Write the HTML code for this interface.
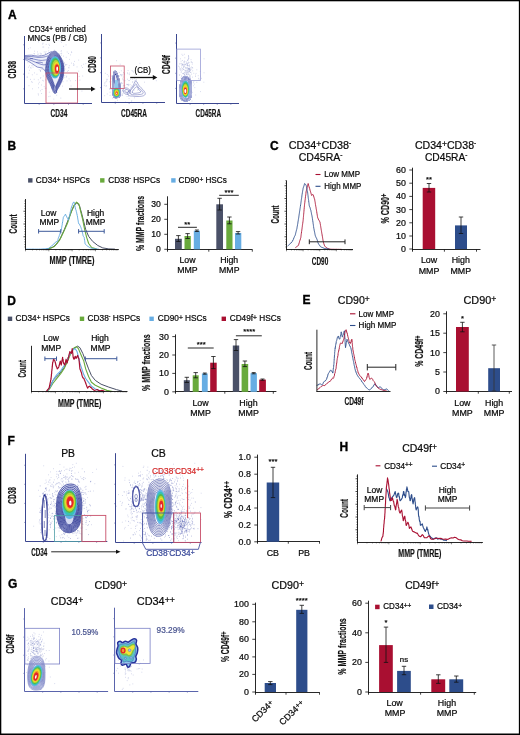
<!DOCTYPE html>
<html><head><meta charset="utf-8"><style>
html,body{margin:0;padding:0;background:#fff;width:520px;height:735px;overflow:hidden;}
svg{display:block;font-family:"Liberation Sans", sans-serif;will-change:transform;}
</style></head><body>
<svg width="520" height="735" viewBox="0 0 520 735" font-family='"Liberation Sans", sans-serif'><rect x="0" y="0" width="520" height="735" fill="#000"/>
<rect x="1.3" y="1.3" width="517.55" height="732.2" fill="#fff"/>
<text x="8.00" y="18.90" font-size="12" fill="#000" font-weight="bold" stroke="#000" stroke-width="0.35">A</text>
<text x="7.40" y="150.20" font-size="12" fill="#000" font-weight="bold" stroke="#000" stroke-width="0.35">B</text>
<text x="270.00" y="149.70" font-size="12" fill="#000" font-weight="bold" stroke="#000" stroke-width="0.35">C</text>
<text x="7.30" y="304.70" font-size="12" fill="#000" font-weight="bold" stroke="#000" stroke-width="0.35">D</text>
<text x="302.50" y="303.50" font-size="12" fill="#000" font-weight="bold" stroke="#000" stroke-width="0.35">E</text>
<text x="7.40" y="444.80" font-size="12" fill="#000" font-weight="bold" stroke="#000" stroke-width="0.35">F</text>
<text x="339.40" y="450.80" font-size="12" fill="#000" font-weight="bold" stroke="#000" stroke-width="0.35">H</text>
<text x="8.00" y="588.20" font-size="12" fill="#000" font-weight="bold" stroke="#000" stroke-width="0.35">G</text>
<rect x="28.10" y="178.20" width="4.40" height="4.40" fill="#4a5168" stroke="none" stroke-width="0.8"/>
<text x="35.75" y="183.20" font-size="8.4" fill="#0a0a0a" stroke="#0a0a0a" stroke-width="0.22" textLength="54.20" lengthAdjust="spacingAndGlyphs">CD34<tspan dy="-1.43" font-size="6.72">+</tspan><tspan dy="1.43"> HSPCs</tspan></text>
<rect x="100.10" y="178.20" width="4.40" height="4.40" fill="#69aa3c" stroke="none" stroke-width="0.8"/>
<text x="108.30" y="183.20" font-size="8.4" fill="#0a0a0a" stroke="#0a0a0a" stroke-width="0.22" textLength="51.70" lengthAdjust="spacingAndGlyphs">CD38<tspan dy="-3.02" font-size="5.21">-</tspan><tspan dy="3.02"> HSPCs</tspan></text>
<rect x="171.20" y="178.20" width="4.40" height="4.40" fill="#67ade3" stroke="none" stroke-width="0.8"/>
<text x="178.50" y="183.20" font-size="8.4" fill="#0a0a0a" stroke="#0a0a0a" stroke-width="0.22" textLength="48.30" lengthAdjust="spacingAndGlyphs">CD90<tspan dy="-1.43" font-size="6.72">+</tspan><tspan dy="1.43"> HSCs</tspan></text>
<path d="M46.25,249.12 L52.31,247.50 L56.35,244.47 L60.39,238.42 L64.43,229.33 L68.47,219.23 L71.49,211.16 L74.52,205.10 L76.95,202.67 L79.57,206.11 L81.59,213.17 L83.61,221.25 L85.63,229.33 L88.66,236.40 L92.70,241.45 L97.75,245.48 L102.79,247.91 L108.85,248.92 L114.91,249.12" fill="none" stroke="#4a5168" stroke-width="1.0" stroke-linejoin="round"/>
<path d="M48.27,249.12 L54.33,246.49 L59.38,240.44 L63.42,232.36 L67.46,223.27 L70.48,214.18 L73.51,206.11 L76.54,202.07 L78.97,204.09 L80.58,211.16 L82.60,219.23 L84.62,229.33 L86.64,237.41 L88.66,243.47 L91.69,247.50 L96.74,249.12" fill="none" stroke="#69aa3c" stroke-width="1.1" stroke-linejoin="round"/>
<path d="M26.06,249.12 L26.76,249.17 L27.47,249.11 L28.18,249.13 L28.89,249.16 L29.59,249.09 L30.30,249.12 L31.01,249.13 L31.71,249.17 L32.42,249.06 L33.13,249.07 L33.83,249.10 L34.54,249.16 L35.25,249.16 L35.95,249.08 L36.66,249.17 L37.37,249.12 L38.07,249.18 L38.78,249.17 L39.49,249.07 L40.19,249.12 L40.93,249.12 L41.66,249.01 L42.40,248.91 L43.13,248.90 L43.87,248.79 L44.60,248.82 L45.33,248.74 L46.07,248.63 L46.80,248.59 L47.54,248.57 L48.27,248.51 L48.85,248.12 L49.43,247.61 L50.00,247.12 L50.58,246.74 L51.16,246.20 L51.73,245.85 L52.31,245.48 L52.82,245.18 L53.32,244.28 L53.82,243.84 L54.33,243.67 L54.83,242.72 L55.34,242.46 L56.01,241.81 L56.69,241.58 L57.36,241.45 L57.58,240.86 L57.81,240.27 L58.03,239.57 L58.26,238.41 L58.48,237.91 L58.70,237.10 L58.93,236.78 L59.15,235.95 L59.38,235.39 L59.60,234.92 L59.83,234.10 L60.05,233.43 L60.28,232.43 L60.50,232.06 L60.72,231.00 L60.95,230.36 L61.17,230.29 L61.40,229.33 L61.52,228.36 L61.63,227.50 L61.75,227.36 L61.87,226.23 L61.99,225.61 L62.11,225.11 L62.23,224.69 L62.35,223.25 L62.47,223.03 L62.59,221.83 L62.70,221.71 L62.82,220.67 L62.94,219.73 L63.06,219.26 L63.18,218.76 L63.30,217.63 L63.42,217.21 L63.82,216.51 L64.22,216.23 L64.63,215.65 L65.03,214.97 L65.44,214.18 L65.79,214.92 L66.14,215.86 L66.50,216.18 L66.85,217.21 L67.25,217.88 L67.66,218.58 L68.06,219.19 L68.47,220.24 L68.63,219.17 L68.79,218.47 L68.95,218.50 L69.11,217.32 L69.27,216.56 L69.43,216.13 L69.60,215.47 L69.76,214.91 L69.92,214.21 L70.08,213.17 L70.26,212.06 L70.43,211.46 L70.61,210.81 L70.79,209.99 L70.96,209.43 L71.14,208.42 L71.32,208.19 L71.49,207.12 L71.73,206.31 L71.97,206.09 L72.20,205.44 L72.44,204.55 L72.67,203.57 L72.91,203.08 L73.51,202.22 L74.12,202.07 L74.26,203.18 L74.41,203.85 L74.55,204.22 L74.70,204.60 L74.84,205.88 L74.98,206.23 L75.13,207.12 L75.33,207.79 L75.53,208.94 L75.74,209.61 L75.94,210.28 L76.14,210.38 L76.34,211.57 L76.54,212.16 L76.69,212.97 L76.83,213.78 L76.98,213.94 L77.12,215.38 L77.26,215.51 L77.41,216.09 L77.55,217.21 L77.68,218.10 L77.80,218.92 L77.93,219.66 L78.06,219.91 L78.18,220.78 L78.31,221.79 L78.44,222.60 L78.56,223.27 L79.03,224.14 L79.50,224.23 L79.98,225.29 L80.25,226.09 L80.51,226.41 L80.78,227.18 L81.05,227.71 L81.32,228.65 L81.59,229.33 L81.77,229.89 L81.94,230.95 L82.12,231.43 L82.30,232.05 L82.47,232.98 L82.65,233.71 L82.83,234.47 L83.00,235.39 L83.41,236.46 L83.81,236.81 L84.22,237.41 L84.32,238.46 L84.42,239.04 L84.52,240.06 L84.62,240.43 L84.72,241.17 L84.82,241.77 L84.92,242.50 L85.02,243.47 L85.56,244.40 L86.10,244.80 L86.64,245.48 L87.25,245.95 L87.85,246.45 L88.46,246.71 L89.06,247.02 L89.67,247.50 L90.43,247.79 L91.18,248.05 L91.94,248.31 L92.70,248.51 L93.46,248.58 L94.21,248.62 L94.97,248.76 L95.73,248.85 L96.48,248.84 L97.24,249.01 L98.00,249.08 L98.76,249.12" fill="none" stroke="#67ade3" stroke-width="1.0" stroke-linejoin="round"/>
<line x1="25.50" y1="199.00" x2="25.50" y2="249.90" stroke="#111" stroke-width="0.9"/>
<line x1="25.10" y1="249.50" x2="118.80" y2="249.50" stroke="#111" stroke-width="0.9"/>
<line x1="24.50" y1="246.95" x2="25.50" y2="246.95" stroke="#111" stroke-width="0.75"/>
<line x1="24.50" y1="244.40" x2="25.50" y2="244.40" stroke="#111" stroke-width="0.75"/>
<line x1="24.50" y1="241.85" x2="25.50" y2="241.85" stroke="#111" stroke-width="0.75"/>
<line x1="24.50" y1="239.30" x2="25.50" y2="239.30" stroke="#111" stroke-width="0.75"/>
<line x1="23.50" y1="236.75" x2="25.50" y2="236.75" stroke="#111" stroke-width="0.75"/>
<line x1="24.50" y1="234.20" x2="25.50" y2="234.20" stroke="#111" stroke-width="0.75"/>
<line x1="24.50" y1="231.65" x2="25.50" y2="231.65" stroke="#111" stroke-width="0.75"/>
<line x1="24.50" y1="229.10" x2="25.50" y2="229.10" stroke="#111" stroke-width="0.75"/>
<line x1="24.50" y1="226.55" x2="25.50" y2="226.55" stroke="#111" stroke-width="0.75"/>
<line x1="23.50" y1="224.00" x2="25.50" y2="224.00" stroke="#111" stroke-width="0.75"/>
<line x1="24.50" y1="221.45" x2="25.50" y2="221.45" stroke="#111" stroke-width="0.75"/>
<line x1="24.50" y1="218.90" x2="25.50" y2="218.90" stroke="#111" stroke-width="0.75"/>
<line x1="24.50" y1="216.35" x2="25.50" y2="216.35" stroke="#111" stroke-width="0.75"/>
<line x1="24.50" y1="213.80" x2="25.50" y2="213.80" stroke="#111" stroke-width="0.75"/>
<line x1="23.50" y1="211.25" x2="25.50" y2="211.25" stroke="#111" stroke-width="0.75"/>
<line x1="24.50" y1="208.70" x2="25.50" y2="208.70" stroke="#111" stroke-width="0.75"/>
<line x1="24.50" y1="206.15" x2="25.50" y2="206.15" stroke="#111" stroke-width="0.75"/>
<line x1="24.50" y1="203.60" x2="25.50" y2="203.60" stroke="#111" stroke-width="0.75"/>
<line x1="24.50" y1="201.05" x2="25.50" y2="201.05" stroke="#111" stroke-width="0.75"/>
<line x1="25.50" y1="249.50" x2="25.50" y2="251.30" stroke="#111" stroke-width="0.5"/>
<line x1="32.52" y1="249.50" x2="32.52" y2="250.40" stroke="#111" stroke-width="0.5"/>
<line x1="36.63" y1="249.50" x2="36.63" y2="250.40" stroke="#111" stroke-width="0.5"/>
<line x1="39.54" y1="249.50" x2="39.54" y2="250.40" stroke="#111" stroke-width="0.5"/>
<line x1="41.80" y1="249.50" x2="41.80" y2="250.40" stroke="#111" stroke-width="0.5"/>
<line x1="43.65" y1="249.50" x2="43.65" y2="250.40" stroke="#111" stroke-width="0.5"/>
<line x1="45.21" y1="249.50" x2="45.21" y2="250.40" stroke="#111" stroke-width="0.5"/>
<line x1="46.56" y1="249.50" x2="46.56" y2="250.40" stroke="#111" stroke-width="0.5"/>
<line x1="47.76" y1="249.50" x2="47.76" y2="250.40" stroke="#111" stroke-width="0.5"/>
<line x1="48.83" y1="249.50" x2="48.83" y2="251.30" stroke="#111" stroke-width="0.5"/>
<line x1="55.85" y1="249.50" x2="55.85" y2="250.40" stroke="#111" stroke-width="0.5"/>
<line x1="59.95" y1="249.50" x2="59.95" y2="250.40" stroke="#111" stroke-width="0.5"/>
<line x1="62.87" y1="249.50" x2="62.87" y2="250.40" stroke="#111" stroke-width="0.5"/>
<line x1="65.13" y1="249.50" x2="65.13" y2="250.40" stroke="#111" stroke-width="0.5"/>
<line x1="66.98" y1="249.50" x2="66.98" y2="250.40" stroke="#111" stroke-width="0.5"/>
<line x1="68.54" y1="249.50" x2="68.54" y2="250.40" stroke="#111" stroke-width="0.5"/>
<line x1="69.89" y1="249.50" x2="69.89" y2="250.40" stroke="#111" stroke-width="0.5"/>
<line x1="71.08" y1="249.50" x2="71.08" y2="250.40" stroke="#111" stroke-width="0.5"/>
<line x1="72.15" y1="249.50" x2="72.15" y2="251.30" stroke="#111" stroke-width="0.5"/>
<line x1="79.17" y1="249.50" x2="79.17" y2="250.40" stroke="#111" stroke-width="0.5"/>
<line x1="83.28" y1="249.50" x2="83.28" y2="250.40" stroke="#111" stroke-width="0.5"/>
<line x1="86.19" y1="249.50" x2="86.19" y2="250.40" stroke="#111" stroke-width="0.5"/>
<line x1="88.45" y1="249.50" x2="88.45" y2="250.40" stroke="#111" stroke-width="0.5"/>
<line x1="90.30" y1="249.50" x2="90.30" y2="250.40" stroke="#111" stroke-width="0.5"/>
<line x1="91.86" y1="249.50" x2="91.86" y2="250.40" stroke="#111" stroke-width="0.5"/>
<line x1="93.21" y1="249.50" x2="93.21" y2="250.40" stroke="#111" stroke-width="0.5"/>
<line x1="94.41" y1="249.50" x2="94.41" y2="250.40" stroke="#111" stroke-width="0.5"/>
<line x1="95.47" y1="249.50" x2="95.47" y2="251.30" stroke="#111" stroke-width="0.5"/>
<line x1="102.50" y1="249.50" x2="102.50" y2="250.40" stroke="#111" stroke-width="0.5"/>
<line x1="106.60" y1="249.50" x2="106.60" y2="250.40" stroke="#111" stroke-width="0.5"/>
<line x1="109.52" y1="249.50" x2="109.52" y2="250.40" stroke="#111" stroke-width="0.5"/>
<line x1="111.78" y1="249.50" x2="111.78" y2="250.40" stroke="#111" stroke-width="0.5"/>
<line x1="113.63" y1="249.50" x2="113.63" y2="250.40" stroke="#111" stroke-width="0.5"/>
<line x1="115.19" y1="249.50" x2="115.19" y2="250.40" stroke="#111" stroke-width="0.5"/>
<line x1="116.54" y1="249.50" x2="116.54" y2="250.40" stroke="#111" stroke-width="0.5"/>
<line x1="117.73" y1="249.50" x2="117.73" y2="250.40" stroke="#111" stroke-width="0.5"/>
<line x1="38.60" y1="231.30" x2="60.80" y2="231.30" stroke="#3e5a9a" stroke-width="1.0"/>
<line x1="38.60" y1="229.10" x2="38.60" y2="233.50" stroke="#3e5a9a" stroke-width="1.0"/>
<line x1="60.80" y1="229.10" x2="60.80" y2="233.50" stroke="#3e5a9a" stroke-width="1.0"/>
<line x1="78.60" y1="231.30" x2="104.20" y2="231.30" stroke="#3e5a9a" stroke-width="1.0"/>
<line x1="78.60" y1="229.10" x2="78.60" y2="233.50" stroke="#3e5a9a" stroke-width="1.0"/>
<line x1="104.20" y1="229.10" x2="104.20" y2="233.50" stroke="#3e5a9a" stroke-width="1.0"/>
<text x="48.50" y="215.50" font-size="8.2" fill="#0a0a0a" stroke="#0a0a0a" stroke-width="0.22" text-anchor="middle" textLength="15.49" lengthAdjust="spacingAndGlyphs">Low</text>
<text x="49.30" y="224.60" font-size="8.2" fill="#0a0a0a" stroke="#0a0a0a" stroke-width="0.22" text-anchor="middle" textLength="19.70" lengthAdjust="spacingAndGlyphs">MMP</text>
<text x="95.60" y="215.50" font-size="8.2" fill="#0a0a0a" stroke="#0a0a0a" stroke-width="0.22" text-anchor="middle" textLength="17.37" lengthAdjust="spacingAndGlyphs">High</text>
<text x="95.50" y="224.60" font-size="8.2" fill="#0a0a0a" stroke="#0a0a0a" stroke-width="0.22" text-anchor="middle" textLength="19.70" lengthAdjust="spacingAndGlyphs">MMP</text>
<line x1="167.50" y1="196.30" x2="167.50" y2="251.70" stroke="#111" stroke-width="0.9"/>
<line x1="167.05" y1="249.50" x2="252.50" y2="249.50" stroke="#111" stroke-width="0.9"/>
<line x1="164.30" y1="204.30" x2="167.50" y2="204.30" stroke="#111" stroke-width="0.8"/>
<text x="160.90" y="207.20" font-size="8.4" fill="#0a0a0a" stroke="#0a0a0a" stroke-width="0.22" text-anchor="end" textLength="9.62" lengthAdjust="spacingAndGlyphs">30</text>
<line x1="164.30" y1="219.30" x2="167.50" y2="219.30" stroke="#111" stroke-width="0.8"/>
<text x="160.90" y="222.20" font-size="8.4" fill="#0a0a0a" stroke="#0a0a0a" stroke-width="0.22" text-anchor="end" textLength="9.62" lengthAdjust="spacingAndGlyphs">20</text>
<line x1="164.30" y1="234.30" x2="167.50" y2="234.30" stroke="#111" stroke-width="0.8"/>
<text x="160.90" y="237.20" font-size="8.4" fill="#0a0a0a" stroke="#0a0a0a" stroke-width="0.22" text-anchor="end" textLength="9.62" lengthAdjust="spacingAndGlyphs">10</text>
<line x1="164.30" y1="249.30" x2="167.50" y2="249.30" stroke="#111" stroke-width="0.8"/>
<text x="160.90" y="252.20" font-size="8.4" fill="#0a0a0a" stroke="#0a0a0a" stroke-width="0.22" text-anchor="end" textLength="4.81" lengthAdjust="spacingAndGlyphs">0</text>
<line x1="208.80" y1="249.50" x2="208.80" y2="251.70" stroke="#111" stroke-width="0.8"/>
<line x1="252.30" y1="249.50" x2="252.30" y2="251.70" stroke="#111" stroke-width="0.8"/>
<rect x="175.00" y="238.80" width="6.80" height="10.50" fill="#4a5168" stroke="none" stroke-width="0.8"/>
<line x1="178.40" y1="235.60" x2="178.40" y2="241.50" stroke="#111" stroke-width="0.8"/>
<line x1="176.20" y1="235.60" x2="180.60" y2="235.60" stroke="#111" stroke-width="0.8"/>
<line x1="176.20" y1="241.50" x2="180.60" y2="241.50" stroke="#111" stroke-width="0.8"/>
<rect x="184.50" y="236.00" width="6.30" height="13.30" fill="#69aa3c" stroke="none" stroke-width="0.8"/>
<line x1="187.60" y1="233.60" x2="187.60" y2="238.50" stroke="#111" stroke-width="0.8"/>
<line x1="185.40" y1="233.60" x2="189.80" y2="233.60" stroke="#111" stroke-width="0.8"/>
<line x1="185.40" y1="238.50" x2="189.80" y2="238.50" stroke="#111" stroke-width="0.8"/>
<rect x="193.80" y="230.70" width="6.20" height="18.60" fill="#67ade3" stroke="none" stroke-width="0.8"/>
<line x1="196.90" y1="230.00" x2="196.90" y2="231.50" stroke="#111" stroke-width="0.8"/>
<line x1="194.90" y1="230.00" x2="198.90" y2="230.00" stroke="#111" stroke-width="0.8"/>
<line x1="194.90" y1="231.50" x2="198.90" y2="231.50" stroke="#111" stroke-width="0.8"/>
<rect x="216.30" y="204.30" width="6.70" height="45.00" fill="#4a5168" stroke="none" stroke-width="0.8"/>
<line x1="219.60" y1="198.30" x2="219.60" y2="210.00" stroke="#111" stroke-width="0.8"/>
<line x1="217.40" y1="198.30" x2="221.80" y2="198.30" stroke="#111" stroke-width="0.8"/>
<line x1="217.40" y1="210.00" x2="221.80" y2="210.00" stroke="#111" stroke-width="0.8"/>
<rect x="226.30" y="220.50" width="6.20" height="28.80" fill="#69aa3c" stroke="none" stroke-width="0.8"/>
<line x1="229.40" y1="217.00" x2="229.40" y2="223.80" stroke="#111" stroke-width="0.8"/>
<line x1="227.20" y1="217.00" x2="231.60" y2="217.00" stroke="#111" stroke-width="0.8"/>
<line x1="227.20" y1="223.80" x2="231.60" y2="223.80" stroke="#111" stroke-width="0.8"/>
<rect x="235.00" y="233.00" width="6.30" height="16.30" fill="#67ade3" stroke="none" stroke-width="0.8"/>
<line x1="238.10" y1="231.60" x2="238.10" y2="234.00" stroke="#111" stroke-width="0.8"/>
<line x1="235.90" y1="231.60" x2="240.30" y2="231.60" stroke="#111" stroke-width="0.8"/>
<line x1="235.90" y1="234.00" x2="240.30" y2="234.00" stroke="#111" stroke-width="0.8"/>
<line x1="178.00" y1="227.30" x2="196.90" y2="227.30" stroke="#111" stroke-width="0.9"/>
<text x="187.30" y="226.99" font-size="7.4" fill="#0a0a0a" stroke="#0a0a0a" stroke-width="0.22" text-anchor="middle" textLength="5.93" lengthAdjust="spacingAndGlyphs">**</text>
<line x1="219.20" y1="195.30" x2="238.80" y2="195.30" stroke="#111" stroke-width="0.9"/>
<text x="229.00" y="195.49" font-size="7.4" fill="#0a0a0a" stroke="#0a0a0a" stroke-width="0.22" text-anchor="middle" textLength="8.90" lengthAdjust="spacingAndGlyphs">***</text>
<text x="187.50" y="263.20" font-size="8.5" fill="#0a0a0a" stroke="#0a0a0a" stroke-width="0.22" text-anchor="middle" textLength="16.06" lengthAdjust="spacingAndGlyphs">Low</text>
<text x="187.50" y="272.60" font-size="8.5" fill="#0a0a0a" stroke="#0a0a0a" stroke-width="0.22" text-anchor="middle" textLength="20.43" lengthAdjust="spacingAndGlyphs">MMP</text>
<text x="229.20" y="263.20" font-size="8.5" fill="#0a0a0a" stroke="#0a0a0a" stroke-width="0.22" text-anchor="middle" textLength="18.01" lengthAdjust="spacingAndGlyphs">High</text>
<text x="229.30" y="272.60" font-size="8.5" fill="#0a0a0a" stroke="#0a0a0a" stroke-width="0.22" text-anchor="middle" textLength="20.43" lengthAdjust="spacingAndGlyphs">MMP</text>
<text x="320.00" y="149.30" font-size="10.8" fill="#0a0a0a" stroke="#0a0a0a" stroke-width="0.22" text-anchor="middle" textLength="62.50" lengthAdjust="spacingAndGlyphs">CD34<tspan dy="-1.84" font-size="8.64">+</tspan><tspan dy="1.84">CD38</tspan><tspan dy="-3.89" font-size="6.70">-</tspan></text>
<text x="320.60" y="161.30" font-size="10.8" fill="#0a0a0a" stroke="#0a0a0a" stroke-width="0.22" text-anchor="middle" textLength="43.70" lengthAdjust="spacingAndGlyphs">CD45RA<tspan dy="-3.89" font-size="6.70">-</tspan></text>
<line x1="315.50" y1="174.50" x2="320.50" y2="174.50" stroke="#a90f31" stroke-width="1.1"/>
<text x="324.30" y="177.40" font-size="8.4" fill="#0a0a0a" stroke="#0a0a0a" stroke-width="0.22" textLength="35.70" lengthAdjust="spacingAndGlyphs">Low MMP</text>
<line x1="315.50" y1="186.30" x2="320.50" y2="186.30" stroke="#2d4d8b" stroke-width="1.1"/>
<text x="324.30" y="189.20" font-size="8.4" fill="#0a0a0a" stroke="#0a0a0a" stroke-width="0.22" textLength="37.00" lengthAdjust="spacingAndGlyphs">High MMP</text>
<path d="M295.38,247.69 L296.00,247.21 L296.62,246.76 L297.23,246.30 L297.85,245.81 L298.46,245.38 L298.67,244.69 L298.88,243.94 L299.09,243.07 L299.30,242.55 L299.51,241.65 L299.72,240.99 L299.93,240.37 L300.14,240.02 L300.35,239.08 L300.56,238.41 L300.77,237.69 L300.87,237.20 L300.96,236.48 L301.06,235.61 L301.15,234.74 L301.25,234.18 L301.35,233.39 L301.44,232.99 L301.54,231.82 L301.63,231.28 L301.73,230.73 L301.83,229.99 L301.92,229.26 L302.02,228.66 L302.12,227.69 L302.21,227.29 L302.31,226.62 L302.40,225.47 L302.50,224.92 L302.60,224.23 L302.69,223.53 L302.79,222.90 L302.88,222.06 L302.98,221.55 L303.08,220.77 L303.14,220.25 L303.21,219.57 L303.27,218.83 L303.33,217.81 L303.40,217.37 L303.46,216.67 L303.53,215.89 L303.59,215.22 L303.65,214.32 L303.72,213.85 L303.78,212.88 L303.85,212.34 L303.91,211.48 L303.97,210.91 L304.04,209.96 L304.10,209.39 L304.17,208.92 L304.23,207.96 L304.29,207.49 L304.36,206.82 L304.42,206.01 L304.49,205.32 L304.55,204.40 L304.62,203.85 L304.71,203.11 L304.80,202.63 L304.89,201.92 L304.98,200.98 L305.07,200.20 L305.16,199.74 L305.25,198.80 L305.34,198.21 L305.43,197.12 L305.52,196.49 L305.61,196.04 L305.70,195.18 L305.79,194.58 L305.88,193.68 L305.97,193.20 L306.06,192.03 L306.15,191.54 L306.34,190.69 L306.52,190.16 L306.70,189.37 L306.88,188.72 L307.06,187.89 L307.24,187.28 L307.43,186.60 L307.61,185.63 L307.79,184.75 L307.97,184.14 L308.15,183.54 L308.36,184.18 L308.56,185.22 L308.77,185.92 L308.97,186.51 L309.18,186.97 L309.38,188.06 L309.59,188.38 L309.79,189.10 L310.00,190.00 L310.19,190.82 L310.38,191.27 L310.58,191.97 L310.77,192.58 L310.96,193.12 L311.15,193.85 L311.35,194.50 L311.54,195.38 L312.31,194.76 L313.08,194.62 L313.33,195.16 L313.59,195.99 L313.85,196.93 L314.10,197.69 L314.36,198.60 L314.62,199.23 L314.73,200.10 L314.85,200.67 L314.97,201.39 L315.09,201.83 L315.21,202.57 L315.33,203.66 L315.44,204.41 L315.56,204.83 L315.68,205.80 L315.80,206.52 L315.92,206.91 L316.04,207.53 L316.15,208.46 L316.27,208.98 L316.39,209.68 L316.51,210.37 L316.63,211.33 L316.75,211.88 L316.86,212.92 L316.98,213.45 L317.10,214.17 L317.22,214.98 L317.34,215.62 L317.46,216.52 L317.57,216.77 L317.69,217.69 L318.02,218.35 L318.35,219.04 L318.68,219.90 L319.01,220.29 L319.34,220.92 L319.67,221.55 L320.00,222.31 L320.12,223.19 L320.24,223.72 L320.36,224.26 L320.47,225.38 L320.59,225.67 L320.71,226.55 L320.83,227.42 L320.95,228.15 L321.07,228.67 L321.18,229.44 L321.30,230.25 L321.42,230.61 L321.54,231.54 L321.66,232.39 L321.78,233.10 L321.89,233.66 L322.01,234.19 L322.13,234.96 L322.25,235.95 L322.37,236.34 L322.49,236.98 L322.60,237.73 L322.72,238.62 L322.84,239.33 L322.96,239.95 L323.08,240.77 L323.27,241.46 L323.46,242.21 L323.65,243.00 L323.85,243.68 L324.04,244.01 L324.23,244.87 L324.42,245.35 L324.62,246.15 L325.23,246.57 L325.85,247.07 L326.46,247.49 L327.08,248.02 L327.69,248.46 L328.46,248.68 L329.23,248.86 L330.00,249.05 L330.77,249.23 L331.49,249.24 L332.21,249.27 L332.92,249.27 L333.64,249.27 L334.36,249.30 L335.08,249.32 L335.79,249.32 L336.51,249.28 L337.23,249.36 L337.95,249.33 L338.67,249.33 L339.38,249.39 L340.10,249.37 L340.82,249.36 L341.54,249.38" fill="none" stroke="#a90f31" stroke-width="0.9" stroke-linejoin="round"/>
<path d="M287.69,246.15 L288.27,245.59 L288.85,244.88 L289.42,244.50 L290.00,243.85 L290.58,243.17 L291.15,242.91 L291.73,241.96 L292.31,241.54 L292.62,240.98 L292.92,239.99 L293.23,239.69 L293.54,238.96 L293.85,237.88 L294.15,237.46 L294.46,236.55 L294.77,236.01 L295.08,235.48 L295.38,234.62 L295.56,233.76 L295.73,233.11 L295.90,232.35 L296.07,231.66 L296.24,231.20 L296.41,230.34 L296.58,229.64 L296.75,229.24 L296.92,228.46 L297.04,227.65 L297.16,226.96 L297.28,226.25 L297.40,225.79 L297.51,224.80 L297.63,224.28 L297.75,223.71 L297.87,222.82 L297.99,221.96 L298.11,221.18 L298.22,220.73 L298.34,219.78 L298.46,219.23 L298.57,218.48 L298.67,217.99 L298.78,217.27 L298.88,216.32 L298.99,215.67 L299.09,214.93 L299.20,214.23 L299.30,213.63 L299.41,212.75 L299.51,212.05 L299.62,211.36 L299.72,210.75 L299.83,210.16 L299.93,209.35 L300.03,208.71 L300.14,208.18 L300.24,207.48 L300.35,206.60 L300.45,206.14 L300.56,205.00 L300.66,204.59 L300.77,203.85 L300.87,203.22 L300.97,202.36 L301.08,201.66 L301.18,200.85 L301.28,200.39 L301.38,199.38 L301.49,198.85 L301.59,198.21 L301.69,197.55 L301.79,196.88 L301.90,195.78 L302.00,195.06 L302.10,194.40 L302.21,193.96 L302.31,193.08 L302.44,192.35 L302.56,191.65 L302.69,190.74 L302.82,190.01 L302.95,189.47 L303.08,188.46 L303.30,187.70 L303.52,187.02 L303.74,186.43 L303.96,185.83 L304.18,185.15 L304.40,184.26 L304.62,183.54 L305.13,183.92 L305.64,184.57 L306.15,185.38 L306.29,185.85 L306.43,186.53 L306.57,187.55 L306.71,188.12 L306.85,188.68 L306.99,189.73 L307.13,190.33 L307.27,190.98 L307.41,191.85 L307.55,192.18 L307.69,193.08 L307.78,193.78 L307.87,194.57 L307.96,195.24 L308.05,195.83 L308.14,196.84 L308.24,197.60 L308.33,198.39 L308.42,198.92 L308.51,199.44 L308.60,200.19 L308.69,200.81 L308.78,202.01 L308.87,202.45 L308.96,203.10 L309.05,203.70 L309.14,204.57 L309.23,205.38 L309.49,206.39 L309.74,207.01 L310.00,207.49 L310.26,208.33 L310.51,209.45 L310.77,210.00 L310.91,210.61 L311.05,211.53 L311.19,212.17 L311.33,212.58 L311.47,213.68 L311.61,214.37 L311.75,215.11 L311.89,215.40 L312.03,216.16 L312.17,216.90 L312.31,217.69 L312.41,218.57 L312.51,219.16 L312.62,220.08 L312.72,220.70 L312.82,221.07 L312.92,222.05 L313.03,222.51 L313.13,223.60 L313.23,223.91 L313.33,224.76 L313.44,225.65 L313.54,226.47 L313.64,226.84 L313.74,227.91 L313.85,228.46 L313.99,228.96 L314.13,229.80 L314.27,230.70 L314.41,231.24 L314.55,232.05 L314.69,232.64 L314.83,233.44 L314.97,234.20 L315.10,234.75 L315.24,235.30 L315.38,236.15 L315.77,236.68 L316.15,237.67 L316.54,238.32 L316.92,239.23 L317.18,239.91 L317.44,240.62 L317.69,241.38 L317.95,242.55 L318.21,243.00 L318.46,243.85 L318.92,244.62 L319.38,244.93 L319.85,245.70 L320.31,246.40 L320.77,246.92 L321.54,247.25 L322.31,247.50 L323.08,247.86 L323.85,248.16 L324.62,248.46 L325.38,248.57 L326.15,248.67 L326.92,248.78 L327.69,248.89 L328.46,248.94 L329.23,249.08" fill="none" stroke="#2d4d8b" stroke-width="0.9" stroke-linejoin="round"/>
<line x1="286.50" y1="180.50" x2="286.50" y2="249.90" stroke="#111" stroke-width="0.9"/>
<line x1="286.10" y1="249.50" x2="353.00" y2="249.50" stroke="#111" stroke-width="0.9"/>
<line x1="285.50" y1="246.95" x2="286.50" y2="246.95" stroke="#111" stroke-width="0.75"/>
<line x1="285.50" y1="244.40" x2="286.50" y2="244.40" stroke="#111" stroke-width="0.75"/>
<line x1="285.50" y1="241.85" x2="286.50" y2="241.85" stroke="#111" stroke-width="0.75"/>
<line x1="285.50" y1="239.30" x2="286.50" y2="239.30" stroke="#111" stroke-width="0.75"/>
<line x1="284.50" y1="236.75" x2="286.50" y2="236.75" stroke="#111" stroke-width="0.75"/>
<line x1="285.50" y1="234.20" x2="286.50" y2="234.20" stroke="#111" stroke-width="0.75"/>
<line x1="285.50" y1="231.65" x2="286.50" y2="231.65" stroke="#111" stroke-width="0.75"/>
<line x1="285.50" y1="229.10" x2="286.50" y2="229.10" stroke="#111" stroke-width="0.75"/>
<line x1="285.50" y1="226.55" x2="286.50" y2="226.55" stroke="#111" stroke-width="0.75"/>
<line x1="284.50" y1="224.00" x2="286.50" y2="224.00" stroke="#111" stroke-width="0.75"/>
<line x1="285.50" y1="221.45" x2="286.50" y2="221.45" stroke="#111" stroke-width="0.75"/>
<line x1="285.50" y1="218.90" x2="286.50" y2="218.90" stroke="#111" stroke-width="0.75"/>
<line x1="285.50" y1="216.35" x2="286.50" y2="216.35" stroke="#111" stroke-width="0.75"/>
<line x1="285.50" y1="213.80" x2="286.50" y2="213.80" stroke="#111" stroke-width="0.75"/>
<line x1="284.50" y1="211.25" x2="286.50" y2="211.25" stroke="#111" stroke-width="0.75"/>
<line x1="285.50" y1="208.70" x2="286.50" y2="208.70" stroke="#111" stroke-width="0.75"/>
<line x1="285.50" y1="206.15" x2="286.50" y2="206.15" stroke="#111" stroke-width="0.75"/>
<line x1="285.50" y1="203.60" x2="286.50" y2="203.60" stroke="#111" stroke-width="0.75"/>
<line x1="285.50" y1="201.05" x2="286.50" y2="201.05" stroke="#111" stroke-width="0.75"/>
<line x1="284.50" y1="198.50" x2="286.50" y2="198.50" stroke="#111" stroke-width="0.75"/>
<line x1="285.50" y1="195.95" x2="286.50" y2="195.95" stroke="#111" stroke-width="0.75"/>
<line x1="285.50" y1="193.40" x2="286.50" y2="193.40" stroke="#111" stroke-width="0.75"/>
<line x1="285.50" y1="190.85" x2="286.50" y2="190.85" stroke="#111" stroke-width="0.75"/>
<line x1="285.50" y1="188.30" x2="286.50" y2="188.30" stroke="#111" stroke-width="0.75"/>
<line x1="284.50" y1="185.75" x2="286.50" y2="185.75" stroke="#111" stroke-width="0.75"/>
<line x1="285.50" y1="183.20" x2="286.50" y2="183.20" stroke="#111" stroke-width="0.75"/>
<line x1="285.50" y1="180.65" x2="286.50" y2="180.65" stroke="#111" stroke-width="0.75"/>
<line x1="286.50" y1="249.50" x2="286.50" y2="251.30" stroke="#111" stroke-width="0.5"/>
<line x1="291.50" y1="249.50" x2="291.50" y2="250.40" stroke="#111" stroke-width="0.5"/>
<line x1="294.43" y1="249.50" x2="294.43" y2="250.40" stroke="#111" stroke-width="0.5"/>
<line x1="296.51" y1="249.50" x2="296.51" y2="250.40" stroke="#111" stroke-width="0.5"/>
<line x1="298.12" y1="249.50" x2="298.12" y2="250.40" stroke="#111" stroke-width="0.5"/>
<line x1="299.44" y1="249.50" x2="299.44" y2="250.40" stroke="#111" stroke-width="0.5"/>
<line x1="300.55" y1="249.50" x2="300.55" y2="250.40" stroke="#111" stroke-width="0.5"/>
<line x1="301.51" y1="249.50" x2="301.51" y2="250.40" stroke="#111" stroke-width="0.5"/>
<line x1="302.36" y1="249.50" x2="302.36" y2="250.40" stroke="#111" stroke-width="0.5"/>
<line x1="303.12" y1="249.50" x2="303.12" y2="251.30" stroke="#111" stroke-width="0.5"/>
<line x1="308.13" y1="249.50" x2="308.13" y2="250.40" stroke="#111" stroke-width="0.5"/>
<line x1="311.06" y1="249.50" x2="311.06" y2="250.40" stroke="#111" stroke-width="0.5"/>
<line x1="313.13" y1="249.50" x2="313.13" y2="250.40" stroke="#111" stroke-width="0.5"/>
<line x1="314.75" y1="249.50" x2="314.75" y2="250.40" stroke="#111" stroke-width="0.5"/>
<line x1="316.06" y1="249.50" x2="316.06" y2="250.40" stroke="#111" stroke-width="0.5"/>
<line x1="317.17" y1="249.50" x2="317.17" y2="250.40" stroke="#111" stroke-width="0.5"/>
<line x1="318.14" y1="249.50" x2="318.14" y2="250.40" stroke="#111" stroke-width="0.5"/>
<line x1="318.99" y1="249.50" x2="318.99" y2="250.40" stroke="#111" stroke-width="0.5"/>
<line x1="319.75" y1="249.50" x2="319.75" y2="251.30" stroke="#111" stroke-width="0.5"/>
<line x1="324.75" y1="249.50" x2="324.75" y2="250.40" stroke="#111" stroke-width="0.5"/>
<line x1="327.68" y1="249.50" x2="327.68" y2="250.40" stroke="#111" stroke-width="0.5"/>
<line x1="329.76" y1="249.50" x2="329.76" y2="250.40" stroke="#111" stroke-width="0.5"/>
<line x1="331.37" y1="249.50" x2="331.37" y2="250.40" stroke="#111" stroke-width="0.5"/>
<line x1="332.69" y1="249.50" x2="332.69" y2="250.40" stroke="#111" stroke-width="0.5"/>
<line x1="333.80" y1="249.50" x2="333.80" y2="250.40" stroke="#111" stroke-width="0.5"/>
<line x1="334.76" y1="249.50" x2="334.76" y2="250.40" stroke="#111" stroke-width="0.5"/>
<line x1="335.61" y1="249.50" x2="335.61" y2="250.40" stroke="#111" stroke-width="0.5"/>
<line x1="336.38" y1="249.50" x2="336.38" y2="251.30" stroke="#111" stroke-width="0.5"/>
<line x1="341.38" y1="249.50" x2="341.38" y2="250.40" stroke="#111" stroke-width="0.5"/>
<line x1="344.31" y1="249.50" x2="344.31" y2="250.40" stroke="#111" stroke-width="0.5"/>
<line x1="346.38" y1="249.50" x2="346.38" y2="250.40" stroke="#111" stroke-width="0.5"/>
<line x1="348.00" y1="249.50" x2="348.00" y2="250.40" stroke="#111" stroke-width="0.5"/>
<line x1="349.31" y1="249.50" x2="349.31" y2="250.40" stroke="#111" stroke-width="0.5"/>
<line x1="350.42" y1="249.50" x2="350.42" y2="250.40" stroke="#111" stroke-width="0.5"/>
<line x1="351.39" y1="249.50" x2="351.39" y2="250.40" stroke="#111" stroke-width="0.5"/>
<line x1="352.24" y1="249.50" x2="352.24" y2="250.40" stroke="#111" stroke-width="0.5"/>
<line x1="309.30" y1="241.80" x2="345.00" y2="241.80" stroke="#222" stroke-width="1.0"/>
<line x1="309.30" y1="239.40" x2="309.30" y2="244.20" stroke="#222" stroke-width="1.0"/>
<line x1="345.00" y1="239.40" x2="345.00" y2="244.20" stroke="#222" stroke-width="1.0"/>
<text x="445.60" y="149.30" font-size="10.8" fill="#0a0a0a" stroke="#0a0a0a" stroke-width="0.22" text-anchor="middle" textLength="61.30" lengthAdjust="spacingAndGlyphs">CD34<tspan dy="-1.84" font-size="8.64">+</tspan><tspan dy="1.84">CD38</tspan><tspan dy="-3.89" font-size="6.70">-</tspan></text>
<text x="446.20" y="161.30" font-size="10.8" fill="#0a0a0a" stroke="#0a0a0a" stroke-width="0.22" text-anchor="middle" textLength="42.50" lengthAdjust="spacingAndGlyphs">CD45RA<tspan dy="-3.89" font-size="6.70">-</tspan></text>
<line x1="412.50" y1="167.70" x2="412.50" y2="251.70" stroke="#111" stroke-width="0.9"/>
<line x1="412.05" y1="249.50" x2="480.50" y2="249.50" stroke="#111" stroke-width="0.9"/>
<line x1="409.30" y1="170.00" x2="412.50" y2="170.00" stroke="#111" stroke-width="0.8"/>
<text x="405.90" y="172.90" font-size="8.6" fill="#0a0a0a" stroke="#0a0a0a" stroke-width="0.22" text-anchor="end" textLength="9.85" lengthAdjust="spacingAndGlyphs">60</text>
<line x1="409.30" y1="183.20" x2="412.50" y2="183.20" stroke="#111" stroke-width="0.8"/>
<text x="405.90" y="186.10" font-size="8.6" fill="#0a0a0a" stroke="#0a0a0a" stroke-width="0.22" text-anchor="end" textLength="9.85" lengthAdjust="spacingAndGlyphs">50</text>
<line x1="409.30" y1="196.40" x2="412.50" y2="196.40" stroke="#111" stroke-width="0.8"/>
<text x="405.90" y="199.30" font-size="8.6" fill="#0a0a0a" stroke="#0a0a0a" stroke-width="0.22" text-anchor="end" textLength="9.85" lengthAdjust="spacingAndGlyphs">40</text>
<line x1="409.30" y1="209.60" x2="412.50" y2="209.60" stroke="#111" stroke-width="0.8"/>
<text x="405.90" y="212.50" font-size="8.6" fill="#0a0a0a" stroke="#0a0a0a" stroke-width="0.22" text-anchor="end" textLength="9.85" lengthAdjust="spacingAndGlyphs">30</text>
<line x1="409.30" y1="222.80" x2="412.50" y2="222.80" stroke="#111" stroke-width="0.8"/>
<text x="405.90" y="225.70" font-size="8.6" fill="#0a0a0a" stroke="#0a0a0a" stroke-width="0.22" text-anchor="end" textLength="9.85" lengthAdjust="spacingAndGlyphs">20</text>
<line x1="409.30" y1="236.00" x2="412.50" y2="236.00" stroke="#111" stroke-width="0.8"/>
<text x="405.90" y="238.90" font-size="8.6" fill="#0a0a0a" stroke="#0a0a0a" stroke-width="0.22" text-anchor="end" textLength="9.85" lengthAdjust="spacingAndGlyphs">10</text>
<line x1="409.30" y1="249.00" x2="412.50" y2="249.00" stroke="#111" stroke-width="0.8"/>
<text x="405.90" y="251.90" font-size="8.6" fill="#0a0a0a" stroke="#0a0a0a" stroke-width="0.22" text-anchor="end" textLength="4.93" lengthAdjust="spacingAndGlyphs">0</text>
<line x1="444.40" y1="249.50" x2="444.40" y2="251.70" stroke="#111" stroke-width="0.8"/>
<line x1="476.50" y1="249.50" x2="476.50" y2="251.70" stroke="#111" stroke-width="0.8"/>
<rect x="422.70" y="187.90" width="12.50" height="61.10" fill="#a90f31" stroke="none" stroke-width="0.8"/>
<line x1="429.00" y1="183.50" x2="429.00" y2="192.00" stroke="#111" stroke-width="0.8"/>
<line x1="426.80" y1="183.50" x2="431.20" y2="183.50" stroke="#111" stroke-width="0.8"/>
<line x1="426.80" y1="192.00" x2="431.20" y2="192.00" stroke="#111" stroke-width="0.8"/>
<rect x="455.00" y="225.40" width="12.00" height="23.60" fill="#2d4d8b" stroke="none" stroke-width="0.8"/>
<line x1="461.00" y1="217.00" x2="461.00" y2="233.50" stroke="#111" stroke-width="0.8"/>
<line x1="458.80" y1="217.00" x2="463.20" y2="217.00" stroke="#111" stroke-width="0.8"/>
<line x1="458.80" y1="233.50" x2="463.20" y2="233.50" stroke="#111" stroke-width="0.8"/>
<text x="429.00" y="182.29" font-size="7.4" fill="#0a0a0a" stroke="#0a0a0a" stroke-width="0.22" text-anchor="middle" textLength="5.93" lengthAdjust="spacingAndGlyphs">**</text>
<text x="429.00" y="263.00" font-size="8.6" fill="#0a0a0a" stroke="#0a0a0a" stroke-width="0.22" text-anchor="middle" textLength="16.25" lengthAdjust="spacingAndGlyphs">Low</text>
<text x="429.00" y="273.60" font-size="8.6" fill="#0a0a0a" stroke="#0a0a0a" stroke-width="0.22" text-anchor="middle" textLength="20.67" lengthAdjust="spacingAndGlyphs">MMP</text>
<text x="460.80" y="263.00" font-size="8.6" fill="#0a0a0a" stroke="#0a0a0a" stroke-width="0.22" text-anchor="middle" textLength="18.22" lengthAdjust="spacingAndGlyphs">High</text>
<text x="460.80" y="273.60" font-size="8.6" fill="#0a0a0a" stroke="#0a0a0a" stroke-width="0.22" text-anchor="middle" textLength="20.67" lengthAdjust="spacingAndGlyphs">MMP</text>
<rect x="7.80" y="316.60" width="4.40" height="4.40" fill="#4a5168" stroke="none" stroke-width="0.8"/>
<text x="15.50" y="321.30" font-size="8.4" fill="#0a0a0a" stroke="#0a0a0a" stroke-width="0.22" textLength="54.50" lengthAdjust="spacingAndGlyphs">CD34<tspan dy="-1.43" font-size="6.72">+</tspan><tspan dy="1.43"> HSPCs</tspan></text>
<rect x="79.80" y="316.60" width="4.40" height="4.40" fill="#69aa3c" stroke="none" stroke-width="0.8"/>
<text x="87.50" y="321.30" font-size="8.4" fill="#0a0a0a" stroke="#0a0a0a" stroke-width="0.22" textLength="52.70" lengthAdjust="spacingAndGlyphs">CD38<tspan dy="-3.02" font-size="5.21">-</tspan><tspan dy="3.02"> HSPCs</tspan></text>
<rect x="149.40" y="316.60" width="4.40" height="4.40" fill="#67ade3" stroke="none" stroke-width="0.8"/>
<text x="157.70" y="321.30" font-size="8.4" fill="#0a0a0a" stroke="#0a0a0a" stroke-width="0.22" textLength="49.00" lengthAdjust="spacingAndGlyphs">CD90<tspan dy="-1.43" font-size="6.72">+</tspan><tspan dy="1.43"> HSCs</tspan></text>
<rect x="221.60" y="316.60" width="4.40" height="4.40" fill="#a90f31" stroke="none" stroke-width="0.8"/>
<text x="229.70" y="321.30" font-size="8.4" fill="#0a0a0a" stroke="#0a0a0a" stroke-width="0.22" textLength="51.10" lengthAdjust="spacingAndGlyphs">CD49f<tspan dy="-1.43" font-size="6.72">+</tspan><tspan dy="1.43"> HSCs</tspan></text>
<path d="M46.27,391.54 L49.15,389.04 L51.08,384.23 L53.00,380.38 L55.88,377.50 L58.77,374.62 L61.65,370.77 L64.54,366.92 L67.42,361.15 L69.35,355.38 L72.23,350.58 L75.12,347.69 L77.62,346.15 L79.92,347.69 L82.81,353.46 L85.69,361.15 L88.58,368.85 L91.46,375.58 L95.31,380.38 L101.08,384.23 L108.77,387.12 L116.46,389.62 L122.23,391.15" fill="none" stroke="#4a5168" stroke-width="1.0" stroke-linejoin="round"/>
<path d="M47.23,391.54 L50.12,388.08 L53.00,383.27 L56.85,378.46 L60.69,373.65 L64.54,367.88 L68.38,359.23 L71.27,352.50 L74.15,347.69 L76.46,346.73 L78.38,348.65 L80.88,354.42 L83.77,361.15 L85.69,368.85 L88.58,376.54 L91.46,382.31 L95.31,385.19 L101.08,388.08 L106.85,390.38 L112.62,391.54" fill="none" stroke="#69aa3c" stroke-width="1.1" stroke-linejoin="round"/>
<path d="M47.23,391.54 L51.08,385.19 L53.96,378.46 L56.85,374.62 L60.69,370.77 L64.54,365.00 L67.42,359.23 L70.31,353.46 L73.19,349.62 L75.12,348.65 L77.04,351.54 L78.38,356.35 L79.92,363.08 L81.85,368.85 L83.77,374.62 L85.69,378.46 L88.58,382.31 L91.46,386.15 L95.31,389.04 L99.15,390.38 L103.00,391.54" fill="none" stroke="#67ade3" stroke-width="1.1" stroke-linejoin="round"/>
<path d="M46.27,391.54 L46.75,390.93 L47.23,390.38 L47.71,389.72 L48.19,389.18 L48.67,388.49 L49.15,388.08 L49.29,387.10 L49.43,386.55 L49.57,385.70 L49.70,385.15 L49.84,384.89 L49.98,383.49 L50.12,383.39 L50.25,382.22 L50.39,382.19 L50.53,381.45 L50.66,380.23 L50.80,380.18 L50.94,379.37 L51.08,378.46 L51.15,377.34 L51.22,376.97 L51.29,376.56 L51.36,376.09 L51.43,374.64 L51.50,374.02 L51.57,373.84 L51.64,373.33 L51.71,371.76 L51.78,371.06 L51.85,371.02 L51.92,369.89 L51.99,369.26 L52.06,369.05 L52.13,368.22 L52.20,367.43 L52.27,366.94 L52.34,366.11 L52.41,365.49 L52.48,364.62 L52.55,363.87 L52.62,363.08 L52.81,361.87 L53.00,361.95 L53.19,361.18 L53.38,359.85 L53.58,359.23 L54.03,360.00 L54.47,360.03 L54.92,361.15 L55.12,361.92 L55.31,362.82 L55.50,363.26 L55.69,364.15 L55.88,365.00 L56.15,366.10 L56.42,366.18 L56.69,367.26 L56.96,367.66 L57.23,368.85 L57.74,368.09 L58.26,367.95 L58.77,366.92 L58.96,366.31 L59.15,365.01 L59.35,365.12 L59.54,364.20 L59.73,363.34 L59.92,362.38 L60.12,361.68 L60.31,361.15 L60.50,361.61 L60.69,362.81 L60.88,363.01 L61.08,364.68 L61.27,365.00 L61.39,363.90 L61.51,363.73 L61.64,362.98 L61.76,362.07 L61.88,361.28 L62.00,360.74 L62.13,359.93 L62.25,359.88 L62.37,358.85 L62.49,358.03 L62.62,357.31 L62.74,358.19 L62.86,358.74 L62.98,359.12 L63.10,359.72 L63.22,361.38 L63.34,361.98 L63.46,361.95 L63.58,363.08 L64.03,363.83 L64.47,364.64 L64.92,365.00 L65.07,364.67 L65.21,363.12 L65.36,362.47 L65.50,362.01 L65.64,361.50 L65.79,360.26 L65.93,360.15 L66.08,359.23 L66.27,360.25 L66.46,360.72 L66.65,361.89 L66.85,362.20 L67.04,363.08 L67.21,362.69 L67.38,361.52 L67.54,360.82 L67.71,360.07 L67.88,359.68 L68.05,359.13 L68.22,357.60 L68.38,357.31 L68.58,356.68 L68.77,356.20 L68.96,355.34 L69.15,354.16 L69.35,353.57 L69.54,353.37 L69.73,351.98 L69.92,351.54 L70.37,352.63 L70.82,352.71 L71.27,353.46 L71.41,352.80 L71.54,352.30 L71.68,351.58 L71.82,350.80 L71.96,350.40 L72.09,349.48 L72.23,348.65 L72.31,349.79 L72.39,350.25 L72.47,350.91 L72.55,351.10 L72.63,352.67 L72.71,352.71 L72.79,353.43 L72.87,353.97 L72.95,355.27 L73.03,355.74 L73.11,356.74 L73.19,357.31 L73.51,358.26 L73.83,359.03 L74.15,359.23 L74.39,358.81 L74.63,358.13 L74.88,356.95 L75.12,356.35 L75.44,356.54 L75.76,357.90 L76.08,358.27 L76.46,358.04 L76.85,356.79 L77.23,356.51 L77.62,355.38 L77.88,356.22 L78.15,356.81 L78.42,358.02 L78.69,358.02 L78.96,359.23 L79.04,359.83 L79.11,360.91 L79.18,361.03 L79.26,362.24 L79.33,362.82 L79.41,363.39 L79.48,364.31 L79.55,365.39 L79.63,366.06 L79.70,366.72 L79.78,367.64 L79.85,368.02 L79.92,368.85 L80.23,369.70 L80.54,369.98 L80.85,371.31 L81.15,372.09 L81.46,372.69 L81.65,373.59 L81.85,374.53 L82.04,375.48 L82.23,375.99 L82.42,376.54 L82.87,377.65 L83.32,377.97 L83.77,378.46 L84.09,378.88 L84.41,380.11 L84.73,380.38 L85.00,381.32 L85.27,382.05 L85.54,382.34 L85.81,383.53 L86.08,384.23 L86.38,384.84 L86.69,385.84 L87.00,386.85 L87.31,387.23 L87.62,388.08 L88.26,387.15 L88.90,386.53 L89.54,386.15 L90.12,386.76 L90.69,387.52 L91.27,387.65 L91.85,388.42 L92.42,389.04 L93.06,389.45 L93.71,389.93 L94.35,390.38 L95.07,390.21 L95.79,390.00 L96.51,389.76 L97.23,389.62 L97.95,390.02 L98.67,390.33 L99.39,390.68 L100.12,390.96 L101.08,390.62 L102.04,390.38 L102.76,390.68 L103.48,390.92 L104.20,391.19 L104.92,391.54" fill="none" stroke="#a90f31" stroke-width="1.2" stroke-linejoin="round"/>
<line x1="31.50" y1="345.80" x2="31.50" y2="391.90" stroke="#111" stroke-width="0.9"/>
<line x1="31.10" y1="391.50" x2="127.50" y2="391.50" stroke="#111" stroke-width="0.9"/>
<line x1="31.50" y1="391.50" x2="31.50" y2="393.30" stroke="#111" stroke-width="0.5"/>
<line x1="38.72" y1="391.50" x2="38.72" y2="392.40" stroke="#111" stroke-width="0.5"/>
<line x1="42.95" y1="391.50" x2="42.95" y2="392.40" stroke="#111" stroke-width="0.5"/>
<line x1="45.95" y1="391.50" x2="45.95" y2="392.40" stroke="#111" stroke-width="0.5"/>
<line x1="48.28" y1="391.50" x2="48.28" y2="392.40" stroke="#111" stroke-width="0.5"/>
<line x1="50.18" y1="391.50" x2="50.18" y2="392.40" stroke="#111" stroke-width="0.5"/>
<line x1="51.78" y1="391.50" x2="51.78" y2="392.40" stroke="#111" stroke-width="0.5"/>
<line x1="53.17" y1="391.50" x2="53.17" y2="392.40" stroke="#111" stroke-width="0.5"/>
<line x1="54.40" y1="391.50" x2="54.40" y2="392.40" stroke="#111" stroke-width="0.5"/>
<line x1="55.50" y1="391.50" x2="55.50" y2="393.30" stroke="#111" stroke-width="0.5"/>
<line x1="62.72" y1="391.50" x2="62.72" y2="392.40" stroke="#111" stroke-width="0.5"/>
<line x1="66.95" y1="391.50" x2="66.95" y2="392.40" stroke="#111" stroke-width="0.5"/>
<line x1="69.95" y1="391.50" x2="69.95" y2="392.40" stroke="#111" stroke-width="0.5"/>
<line x1="72.28" y1="391.50" x2="72.28" y2="392.40" stroke="#111" stroke-width="0.5"/>
<line x1="74.18" y1="391.50" x2="74.18" y2="392.40" stroke="#111" stroke-width="0.5"/>
<line x1="75.78" y1="391.50" x2="75.78" y2="392.40" stroke="#111" stroke-width="0.5"/>
<line x1="77.17" y1="391.50" x2="77.17" y2="392.40" stroke="#111" stroke-width="0.5"/>
<line x1="78.40" y1="391.50" x2="78.40" y2="392.40" stroke="#111" stroke-width="0.5"/>
<line x1="79.50" y1="391.50" x2="79.50" y2="393.30" stroke="#111" stroke-width="0.5"/>
<line x1="86.72" y1="391.50" x2="86.72" y2="392.40" stroke="#111" stroke-width="0.5"/>
<line x1="90.95" y1="391.50" x2="90.95" y2="392.40" stroke="#111" stroke-width="0.5"/>
<line x1="93.95" y1="391.50" x2="93.95" y2="392.40" stroke="#111" stroke-width="0.5"/>
<line x1="96.28" y1="391.50" x2="96.28" y2="392.40" stroke="#111" stroke-width="0.5"/>
<line x1="98.18" y1="391.50" x2="98.18" y2="392.40" stroke="#111" stroke-width="0.5"/>
<line x1="99.78" y1="391.50" x2="99.78" y2="392.40" stroke="#111" stroke-width="0.5"/>
<line x1="101.17" y1="391.50" x2="101.17" y2="392.40" stroke="#111" stroke-width="0.5"/>
<line x1="102.40" y1="391.50" x2="102.40" y2="392.40" stroke="#111" stroke-width="0.5"/>
<line x1="103.50" y1="391.50" x2="103.50" y2="393.30" stroke="#111" stroke-width="0.5"/>
<line x1="110.72" y1="391.50" x2="110.72" y2="392.40" stroke="#111" stroke-width="0.5"/>
<line x1="114.95" y1="391.50" x2="114.95" y2="392.40" stroke="#111" stroke-width="0.5"/>
<line x1="117.95" y1="391.50" x2="117.95" y2="392.40" stroke="#111" stroke-width="0.5"/>
<line x1="120.28" y1="391.50" x2="120.28" y2="392.40" stroke="#111" stroke-width="0.5"/>
<line x1="122.18" y1="391.50" x2="122.18" y2="392.40" stroke="#111" stroke-width="0.5"/>
<line x1="123.78" y1="391.50" x2="123.78" y2="392.40" stroke="#111" stroke-width="0.5"/>
<line x1="125.17" y1="391.50" x2="125.17" y2="392.40" stroke="#111" stroke-width="0.5"/>
<line x1="126.40" y1="391.50" x2="126.40" y2="392.40" stroke="#111" stroke-width="0.5"/>
<line x1="44.90" y1="358.70" x2="56.50" y2="358.70" stroke="#3e5a9a" stroke-width="1.0"/>
<line x1="44.90" y1="356.50" x2="44.90" y2="360.90" stroke="#3e5a9a" stroke-width="1.0"/>
<line x1="56.50" y1="356.50" x2="56.50" y2="360.90" stroke="#3e5a9a" stroke-width="1.0"/>
<line x1="85.30" y1="358.70" x2="116.80" y2="358.70" stroke="#3e5a9a" stroke-width="1.0"/>
<line x1="85.30" y1="356.50" x2="85.30" y2="360.90" stroke="#3e5a9a" stroke-width="1.0"/>
<line x1="116.80" y1="356.50" x2="116.80" y2="360.90" stroke="#3e5a9a" stroke-width="1.0"/>
<text x="51.20" y="341.40" font-size="8.3" fill="#0a0a0a" stroke="#0a0a0a" stroke-width="0.22" text-anchor="middle" textLength="15.68" lengthAdjust="spacingAndGlyphs">Low</text>
<text x="51.20" y="351.30" font-size="8.3" fill="#0a0a0a" stroke="#0a0a0a" stroke-width="0.22" text-anchor="middle" textLength="19.94" lengthAdjust="spacingAndGlyphs">MMP</text>
<text x="100.00" y="341.40" font-size="8.3" fill="#0a0a0a" stroke="#0a0a0a" stroke-width="0.22" text-anchor="middle" textLength="17.58" lengthAdjust="spacingAndGlyphs">High</text>
<text x="100.60" y="351.30" font-size="8.3" fill="#0a0a0a" stroke="#0a0a0a" stroke-width="0.22" text-anchor="middle" textLength="19.94" lengthAdjust="spacingAndGlyphs">MMP</text>
<line x1="175.50" y1="334.40" x2="175.50" y2="393.70" stroke="#111" stroke-width="0.9"/>
<line x1="175.05" y1="391.50" x2="276.40" y2="391.50" stroke="#111" stroke-width="0.9"/>
<line x1="172.30" y1="336.60" x2="175.50" y2="336.60" stroke="#111" stroke-width="0.8"/>
<text x="168.90" y="339.50" font-size="8.6" fill="#0a0a0a" stroke="#0a0a0a" stroke-width="0.22" text-anchor="end" textLength="9.85" lengthAdjust="spacingAndGlyphs">30</text>
<line x1="172.30" y1="355.00" x2="175.50" y2="355.00" stroke="#111" stroke-width="0.8"/>
<text x="168.90" y="357.90" font-size="8.6" fill="#0a0a0a" stroke="#0a0a0a" stroke-width="0.22" text-anchor="end" textLength="9.85" lengthAdjust="spacingAndGlyphs">20</text>
<line x1="172.30" y1="373.40" x2="175.50" y2="373.40" stroke="#111" stroke-width="0.8"/>
<text x="168.90" y="376.30" font-size="8.6" fill="#0a0a0a" stroke="#0a0a0a" stroke-width="0.22" text-anchor="end" textLength="9.85" lengthAdjust="spacingAndGlyphs">10</text>
<line x1="172.30" y1="391.80" x2="175.50" y2="391.80" stroke="#111" stroke-width="0.8"/>
<text x="168.90" y="394.70" font-size="8.6" fill="#0a0a0a" stroke="#0a0a0a" stroke-width="0.22" text-anchor="end" textLength="4.93" lengthAdjust="spacingAndGlyphs">0</text>
<line x1="224.80" y1="391.50" x2="224.80" y2="393.70" stroke="#111" stroke-width="0.8"/>
<line x1="273.30" y1="391.50" x2="273.30" y2="393.70" stroke="#111" stroke-width="0.8"/>
<rect x="183.80" y="380.20" width="6.00" height="11.60" fill="#4a5168" stroke="none" stroke-width="0.8"/>
<line x1="186.80" y1="377.30" x2="186.80" y2="382.50" stroke="#111" stroke-width="0.8"/>
<line x1="184.60" y1="377.30" x2="189.00" y2="377.30" stroke="#111" stroke-width="0.8"/>
<line x1="184.60" y1="382.50" x2="189.00" y2="382.50" stroke="#111" stroke-width="0.8"/>
<rect x="192.70" y="375.30" width="6.00" height="16.50" fill="#69aa3c" stroke="none" stroke-width="0.8"/>
<line x1="195.70" y1="372.60" x2="195.70" y2="377.80" stroke="#111" stroke-width="0.8"/>
<line x1="193.50" y1="372.60" x2="197.90" y2="372.60" stroke="#111" stroke-width="0.8"/>
<line x1="193.50" y1="377.80" x2="197.90" y2="377.80" stroke="#111" stroke-width="0.8"/>
<rect x="201.90" y="373.50" width="5.80" height="18.30" fill="#67ade3" stroke="none" stroke-width="0.8"/>
<line x1="204.80" y1="373.00" x2="204.80" y2="374.20" stroke="#111" stroke-width="0.8"/>
<line x1="202.90" y1="373.00" x2="206.70" y2="373.00" stroke="#111" stroke-width="0.8"/>
<line x1="202.90" y1="374.20" x2="206.70" y2="374.20" stroke="#111" stroke-width="0.8"/>
<rect x="210.20" y="362.70" width="6.50" height="29.10" fill="#a90f31" stroke="none" stroke-width="0.8"/>
<line x1="213.40" y1="356.50" x2="213.40" y2="368.60" stroke="#111" stroke-width="0.8"/>
<line x1="211.20" y1="356.50" x2="215.60" y2="356.50" stroke="#111" stroke-width="0.8"/>
<line x1="211.20" y1="368.60" x2="215.60" y2="368.60" stroke="#111" stroke-width="0.8"/>
<rect x="232.80" y="345.50" width="6.40" height="46.30" fill="#4a5168" stroke="none" stroke-width="0.8"/>
<line x1="236.00" y1="339.60" x2="236.00" y2="350.50" stroke="#111" stroke-width="0.8"/>
<line x1="233.80" y1="339.60" x2="238.20" y2="339.60" stroke="#111" stroke-width="0.8"/>
<line x1="233.80" y1="350.50" x2="238.20" y2="350.50" stroke="#111" stroke-width="0.8"/>
<rect x="241.60" y="364.00" width="6.60" height="27.80" fill="#69aa3c" stroke="none" stroke-width="0.8"/>
<line x1="244.90" y1="361.00" x2="244.90" y2="366.60" stroke="#111" stroke-width="0.8"/>
<line x1="242.70" y1="361.00" x2="247.10" y2="361.00" stroke="#111" stroke-width="0.8"/>
<line x1="242.70" y1="366.60" x2="247.10" y2="366.60" stroke="#111" stroke-width="0.8"/>
<rect x="250.50" y="373.20" width="6.40" height="18.60" fill="#67ade3" stroke="none" stroke-width="0.8"/>
<line x1="253.70" y1="372.60" x2="253.70" y2="373.80" stroke="#111" stroke-width="0.8"/>
<line x1="251.70" y1="372.60" x2="255.70" y2="372.60" stroke="#111" stroke-width="0.8"/>
<line x1="251.70" y1="373.80" x2="255.70" y2="373.80" stroke="#111" stroke-width="0.8"/>
<rect x="259.20" y="379.60" width="6.70" height="12.20" fill="#a90f31" stroke="none" stroke-width="0.8"/>
<line x1="262.50" y1="379.00" x2="262.50" y2="380.30" stroke="#111" stroke-width="0.8"/>
<line x1="260.50" y1="379.00" x2="264.50" y2="379.00" stroke="#111" stroke-width="0.8"/>
<line x1="260.50" y1="380.30" x2="264.50" y2="380.30" stroke="#111" stroke-width="0.8"/>
<line x1="187.80" y1="348.00" x2="213.70" y2="348.00" stroke="#111" stroke-width="0.9"/>
<text x="201.30" y="347.09" font-size="7.4" fill="#0a0a0a" stroke="#0a0a0a" stroke-width="0.22" text-anchor="middle" textLength="8.90" lengthAdjust="spacingAndGlyphs">***</text>
<line x1="235.90" y1="335.80" x2="261.80" y2="335.80" stroke="#111" stroke-width="0.9"/>
<text x="249.20" y="333.69" font-size="7.4" fill="#0a0a0a" stroke="#0a0a0a" stroke-width="0.22" text-anchor="middle" textLength="11.87" lengthAdjust="spacingAndGlyphs">****</text>
<text x="200.50" y="406.00" font-size="8.6" fill="#0a0a0a" stroke="#0a0a0a" stroke-width="0.22" text-anchor="middle" textLength="16.25" lengthAdjust="spacingAndGlyphs">Low</text>
<text x="200.50" y="416.20" font-size="8.6" fill="#0a0a0a" stroke="#0a0a0a" stroke-width="0.22" text-anchor="middle" textLength="20.67" lengthAdjust="spacingAndGlyphs">MMP</text>
<text x="248.50" y="406.00" font-size="8.6" fill="#0a0a0a" stroke="#0a0a0a" stroke-width="0.22" text-anchor="middle" textLength="18.22" lengthAdjust="spacingAndGlyphs">High</text>
<text x="248.50" y="416.20" font-size="8.6" fill="#0a0a0a" stroke="#0a0a0a" stroke-width="0.22" text-anchor="middle" textLength="20.67" lengthAdjust="spacingAndGlyphs">MMP</text>
<text x="353.80" y="304.30" font-size="10.8" fill="#0a0a0a" stroke="#0a0a0a" stroke-width="0.22" text-anchor="middle" textLength="32.00" lengthAdjust="spacingAndGlyphs">CD90<tspan dy="-1.84" font-size="8.64">+</tspan></text>
<line x1="350.00" y1="313.80" x2="355.40" y2="313.80" stroke="#a90f31" stroke-width="1.1"/>
<text x="358.60" y="316.60" font-size="8.4" fill="#0a0a0a" stroke="#0a0a0a" stroke-width="0.22" textLength="35.50" lengthAdjust="spacingAndGlyphs">Low MMP</text>
<line x1="350.00" y1="325.50" x2="355.40" y2="325.50" stroke="#2d4d8b" stroke-width="1.1"/>
<text x="358.60" y="328.40" font-size="8.4" fill="#0a0a0a" stroke="#0a0a0a" stroke-width="0.22" textLength="37.70" lengthAdjust="spacingAndGlyphs">High MMP</text>
<path d="M316.92,385.78 L317.56,384.83 L318.19,385.16 L318.83,384.08 L319.46,384.04 L320.10,383.66 L320.80,384.22 L321.51,384.72 L322.21,384.72 L322.64,384.03 L323.06,383.45 L323.48,382.24 L323.91,382.10 L324.33,381.54 L324.86,380.86 L325.39,380.91 L325.91,380.01 L326.44,379.43 L326.68,379.03 L326.91,377.94 L327.15,376.92 L327.38,377.03 L327.62,376.29 L327.85,375.05 L328.09,374.01 L328.32,373.80 L328.56,373.08 L328.98,372.44 L329.41,372.14 L329.83,371.29 L330.25,370.55 L330.67,369.91 L331.10,370.63 L331.52,371.03 L331.94,371.27 L332.37,371.92 L332.79,373.08 L332.88,372.91 L332.97,372.08 L333.05,370.72 L333.14,370.73 L333.23,369.58 L333.32,368.37 L333.41,368.57 L333.50,367.54 L333.58,367.26 L333.67,366.25 L333.76,364.84 L333.85,364.62 L333.90,364.06 L333.95,363.55 L334.00,362.98 L334.05,361.60 L334.10,361.13 L334.15,360.63 L334.20,359.28 L334.25,359.40 L334.30,358.61 L334.35,357.03 L334.40,356.97 L334.45,356.00 L334.50,355.08 L334.55,354.87 L334.60,354.61 L334.65,353.40 L334.70,352.17 L334.75,351.92 L334.81,351.56 L334.86,351.06 L334.91,349.81 L335.03,349.36 L335.15,347.85 L335.28,348.26 L335.40,347.11 L335.52,345.79 L335.65,345.13 L335.77,344.38 L335.89,344.37 L336.02,343.05 L336.14,343.13 L336.26,341.59 L336.39,341.35 L336.63,340.64 L336.87,339.77 L337.11,338.53 L337.35,337.73 L337.60,338.06 L337.84,337.39 L338.08,336.06 L338.42,336.24 L338.76,337.61 L339.09,338.55 L339.43,339.08 L339.77,339.23 L339.92,338.96 L340.07,337.56 L340.22,337.27 L340.36,336.27 L340.51,336.06 L340.66,335.04 L340.81,334.46 L340.96,333.74 L341.10,332.43 L341.25,331.83 L341.40,332.84 L341.55,332.85 L341.71,333.74 L341.86,335.38 L342.01,335.49 L342.16,336.59 L342.31,337.12 L342.55,336.50 L342.78,335.42 L343.02,335.11 L343.25,334.79 L343.49,333.39 L343.72,332.70 L343.96,331.81 L344.19,331.09 L344.43,330.77 L344.47,331.87 L344.51,332.43 L344.56,333.45 L344.60,333.80 L344.65,334.85 L344.69,334.67 L344.73,335.33 L344.78,336.07 L344.82,336.98 L344.87,338.41 L344.91,338.20 L344.95,339.18 L345.00,339.41 L345.04,340.08 L345.09,341.40 L345.13,342.19 L345.17,342.77 L345.22,343.96 L345.26,344.60 L345.31,345.42 L345.35,345.68 L345.40,346.00 L345.44,346.55 L345.48,347.70 L345.61,347.31 L345.73,345.87 L345.85,344.99 L345.98,345.11 L346.10,343.72 L346.22,343.61 L346.35,342.40 L346.47,341.96 L346.59,340.77 L346.72,340.50 L346.84,339.73 L346.96,339.23 L347.25,339.65 L347.53,340.21 L347.81,341.44 L348.09,342.29 L348.37,342.40 L348.66,343.47 L349.01,343.62 L349.36,344.60 L349.71,345.82 L350.07,346.01 L350.42,347.17 L350.77,347.70 L350.91,347.89 L351.05,349.35 L351.20,349.38 L351.34,350.18 L351.48,351.50 L351.62,351.90 L351.76,352.80 L351.90,353.08 L352.04,354.24 L352.18,354.51 L352.32,355.43 L352.46,356.09 L352.61,357.36 L352.75,357.87 L352.89,358.27 L353.03,359.04 L353.17,360.10 L353.31,360.52 L353.45,361.36 L353.59,361.82 L353.73,362.59 L353.87,362.87 L354.02,364.43 L354.16,364.79 L354.30,365.71 L354.44,366.16 L354.58,366.17 L354.72,366.97 L354.86,368.60 L355.00,368.85 L355.24,369.80 L355.47,370.75 L355.71,371.44 L355.94,371.35 L356.18,372.96 L356.41,373.22 L356.65,374.06 L356.88,374.51 L357.12,375.20 L357.57,375.51 L358.03,376.39 L358.48,376.97 L358.93,377.37 L359.39,378.03 L359.84,378.76 L360.29,379.43 L360.75,379.75 L361.20,380.20 L361.65,381.61 L362.11,381.68 L362.56,382.29 L363.01,383.40 L363.47,383.66 L363.89,384.53 L364.31,384.87 L364.73,385.36 L365.16,386.48 L365.58,386.83 L366.11,387.17 L366.64,387.87 L367.17,388.35 L367.70,388.95 L368.40,389.47 L369.11,389.58 L369.81,390.01 L370.34,389.51 L370.87,388.96 L371.40,388.19 L371.93,387.89 L372.38,387.05 L372.83,387.02 L373.29,386.36 L373.74,385.16 L374.19,384.48 L374.65,384.79 L375.10,383.66 L375.55,384.37 L376.01,385.13 L376.46,385.92 L376.91,385.84 L377.37,386.68 L377.82,387.59 L378.27,387.89 L378.98,387.32 L379.68,387.00 L380.39,386.83 L380.92,387.64 L381.45,388.10 L381.98,388.43 L382.50,388.80 L383.03,389.58 L383.56,390.01 L384.36,389.69 L385.15,389.56 L385.94,389.13 L386.74,388.95 L387.26,389.37 L387.79,390.04 L388.32,390.52 L388.85,391.06" fill="none" stroke="#2d4d8b" stroke-width="0.9" stroke-linejoin="round"/>
<path d="M316.92,390.01 L317.53,389.53 L318.13,389.12 L318.74,388.82 L319.34,388.01 L319.95,387.56 L320.55,386.94 L321.16,386.83 L321.86,386.13 L322.57,385.65 L323.27,385.42 L323.98,385.44 L324.68,385.65 L325.39,384.72 L325.99,384.50 L326.59,383.67 L327.20,383.24 L327.80,383.13 L328.41,382.24 L329.01,381.49 L329.62,381.54 L330.15,381.43 L330.67,380.63 L331.20,379.49 L331.73,379.43 L332.26,378.38 L332.79,377.88 L333.32,378.39 L333.85,377.31 L334.02,376.14 L334.20,376.05 L334.38,375.76 L334.55,373.93 L334.73,373.65 L334.91,373.06 L335.08,372.88 L335.26,371.30 L335.43,370.68 L335.61,369.96 L335.79,369.02 L335.96,368.85 L336.05,368.35 L336.14,367.82 L336.23,366.66 L336.32,365.48 L336.40,365.58 L336.49,364.90 L336.58,364.10 L336.67,363.00 L336.76,362.90 L336.85,361.96 L336.93,361.20 L337.02,360.39 L337.14,359.73 L337.27,358.66 L337.39,358.22 L337.51,357.92 L337.64,357.08 L337.76,355.97 L337.89,355.84 L338.01,355.16 L338.13,353.50 L338.26,352.93 L338.38,352.30 L338.50,351.93 L338.64,350.64 L338.78,350.82 L338.93,349.99 L339.07,349.16 L339.21,348.99 L339.35,347.52 L339.49,346.63 L339.63,345.82 L339.77,345.39 L339.91,345.28 L340.05,344.30 L340.19,343.47 L340.90,342.94 L341.60,343.39 L342.31,343.47 L342.56,342.22 L342.80,342.20 L343.05,340.90 L343.30,340.26 L343.54,340.11 L343.79,339.23 L343.92,338.90 L344.04,337.90 L344.17,336.77 L344.30,336.45 L344.43,335.26 L344.55,334.20 L344.68,333.78 L344.81,333.54 L344.93,332.72 L345.06,331.83 L345.41,330.76 L345.77,330.83 L346.12,329.71 L346.33,330.87 L346.54,330.96 L346.75,332.53 L346.96,332.45 L347.18,332.97 L347.39,334.26 L347.60,335.00 L347.76,336.15 L347.93,336.53 L348.09,337.17 L348.26,337.81 L348.42,338.27 L348.59,338.99 L348.75,339.82 L348.92,340.70 L349.08,341.35 L349.50,342.59 L349.93,342.25 L350.35,343.47 L350.60,342.46 L350.84,342.59 L351.09,341.54 L351.34,340.13 L351.58,339.87 L351.83,339.23 L351.90,340.12 L351.97,341.14 L352.04,340.85 L352.11,342.54 L352.18,343.08 L352.25,343.20 L352.32,344.21 L352.39,345.27 L352.46,345.27 L352.54,346.53 L352.61,347.06 L352.68,347.18 L352.75,348.13 L352.82,349.00 L352.89,349.81 L353.03,350.08 L353.17,351.75 L353.31,351.63 L353.45,352.31 L353.59,353.45 L353.73,354.08 L353.87,354.53 L354.02,355.24 L354.16,356.15 L354.30,357.35 L354.44,357.06 L354.58,358.27 L354.74,359.47 L354.91,360.21 L355.07,360.61 L355.24,361.46 L355.40,361.66 L355.57,363.06 L355.73,363.50 L355.90,364.14 L356.06,364.62 L356.24,365.26 L356.41,365.70 L356.59,366.97 L356.77,367.72 L356.94,367.55 L357.12,368.62 L357.29,369.60 L357.47,369.92 L357.65,370.52 L357.82,371.30 L358.00,371.80 L358.18,373.08 L358.60,373.26 L359.02,374.22 L359.45,374.99 L359.87,375.79 L360.29,376.26 L360.82,376.55 L361.35,376.87 L361.88,378.35 L362.41,378.37 L362.83,379.16 L363.25,379.86 L363.68,380.50 L364.10,380.70 L364.52,381.54 L364.95,381.02 L365.37,380.06 L365.79,379.82 L366.22,379.39 L366.64,378.37 L366.85,377.04 L367.06,377.21 L367.27,375.65 L367.48,374.77 L367.70,374.08 L367.91,373.91 L368.12,373.08 L368.31,374.22 L368.50,375.00 L368.68,374.79 L368.87,375.82 L369.06,377.14 L369.25,377.78 L369.44,378.41 L369.62,378.42 L369.81,379.43 L370.52,378.81 L371.22,378.30 L371.93,378.37 L372.35,378.72 L372.77,379.53 L373.20,380.63 L373.62,381.10 L374.04,381.54 L374.40,381.86 L374.75,382.57 L375.10,383.60 L375.45,384.83 L375.81,385.04 L376.16,385.78 L376.69,386.58 L377.22,386.99 L377.74,387.64 L378.27,387.89 L378.80,388.36 L379.33,388.95 L380.12,389.20 L380.92,389.57 L381.71,389.69 L382.50,390.01 L383.21,390.13 L383.92,390.42 L384.62,390.53 L385.33,390.74 L386.03,390.83 L386.74,391.06" fill="none" stroke="#a90f31" stroke-width="0.9" stroke-linejoin="round"/>
<line x1="316.90" y1="329.70" x2="316.90" y2="391.80" stroke="#111" stroke-width="0.9"/>
<line x1="316.50" y1="391.50" x2="390.50" y2="391.50" stroke="#111" stroke-width="0.9"/>
<line x1="367.30" y1="367.20" x2="395.80" y2="367.20" stroke="#222" stroke-width="1.0"/>
<line x1="367.30" y1="364.00" x2="367.30" y2="370.40" stroke="#222" stroke-width="1.0"/>
<line x1="395.80" y1="364.00" x2="395.80" y2="370.40" stroke="#222" stroke-width="1.0"/>
<text x="479.90" y="304.30" font-size="10.8" fill="#0a0a0a" stroke="#0a0a0a" stroke-width="0.22" text-anchor="middle" textLength="32.80" lengthAdjust="spacingAndGlyphs">CD90<tspan dy="-1.84" font-size="8.64">+</tspan></text>
<line x1="446.50" y1="311.30" x2="446.50" y2="393.70" stroke="#111" stroke-width="0.9"/>
<line x1="446.05" y1="391.50" x2="512.00" y2="391.50" stroke="#111" stroke-width="0.9"/>
<line x1="443.30" y1="313.80" x2="446.50" y2="313.80" stroke="#111" stroke-width="0.8"/>
<text x="439.90" y="316.70" font-size="8.6" fill="#0a0a0a" stroke="#0a0a0a" stroke-width="0.22" text-anchor="end" textLength="9.85" lengthAdjust="spacingAndGlyphs">20</text>
<line x1="443.30" y1="333.20" x2="446.50" y2="333.20" stroke="#111" stroke-width="0.8"/>
<text x="439.90" y="336.10" font-size="8.6" fill="#0a0a0a" stroke="#0a0a0a" stroke-width="0.22" text-anchor="end" textLength="9.85" lengthAdjust="spacingAndGlyphs">15</text>
<line x1="443.30" y1="352.60" x2="446.50" y2="352.60" stroke="#111" stroke-width="0.8"/>
<text x="439.90" y="355.50" font-size="8.6" fill="#0a0a0a" stroke="#0a0a0a" stroke-width="0.22" text-anchor="end" textLength="9.85" lengthAdjust="spacingAndGlyphs">10</text>
<line x1="443.30" y1="372.00" x2="446.50" y2="372.00" stroke="#111" stroke-width="0.8"/>
<text x="439.90" y="374.90" font-size="8.6" fill="#0a0a0a" stroke="#0a0a0a" stroke-width="0.22" text-anchor="end" textLength="4.93" lengthAdjust="spacingAndGlyphs">5</text>
<line x1="443.30" y1="391.50" x2="446.50" y2="391.50" stroke="#111" stroke-width="0.8"/>
<text x="439.90" y="394.40" font-size="8.6" fill="#0a0a0a" stroke="#0a0a0a" stroke-width="0.22" text-anchor="end" textLength="4.93" lengthAdjust="spacingAndGlyphs">0</text>
<line x1="478.30" y1="391.50" x2="478.30" y2="393.70" stroke="#111" stroke-width="0.8"/>
<line x1="509.30" y1="391.50" x2="509.30" y2="393.70" stroke="#111" stroke-width="0.8"/>
<rect x="456.00" y="327.00" width="12.80" height="64.50" fill="#a90f31" stroke="none" stroke-width="0.8"/>
<line x1="462.40" y1="322.30" x2="462.40" y2="331.80" stroke="#111" stroke-width="0.8"/>
<line x1="460.20" y1="322.30" x2="464.60" y2="322.30" stroke="#111" stroke-width="0.8"/>
<line x1="460.20" y1="331.80" x2="464.60" y2="331.80" stroke="#111" stroke-width="0.8"/>
<rect x="488.20" y="368.20" width="11.80" height="23.30" fill="#2d4d8b" stroke="none" stroke-width="0.8"/>
<line x1="494.00" y1="345.00" x2="494.00" y2="391.00" stroke="#333" stroke-width="0.8"/>
<line x1="491.80" y1="345.00" x2="496.20" y2="345.00" stroke="#333" stroke-width="0.8"/>
<line x1="491.80" y1="391.00" x2="496.20" y2="391.00" stroke="#333" stroke-width="0.8"/>
<text x="462.40" y="320.69" font-size="7.4" fill="#0a0a0a" stroke="#0a0a0a" stroke-width="0.22" text-anchor="middle" textLength="2.97" lengthAdjust="spacingAndGlyphs">*</text>
<text x="462.40" y="405.60" font-size="8.6" fill="#0a0a0a" stroke="#0a0a0a" stroke-width="0.22" text-anchor="middle" textLength="16.25" lengthAdjust="spacingAndGlyphs">Low</text>
<text x="462.40" y="416.20" font-size="8.6" fill="#0a0a0a" stroke="#0a0a0a" stroke-width="0.22" text-anchor="middle" textLength="20.67" lengthAdjust="spacingAndGlyphs">MMP</text>
<text x="494.10" y="405.60" font-size="8.6" fill="#0a0a0a" stroke="#0a0a0a" stroke-width="0.22" text-anchor="middle" textLength="18.22" lengthAdjust="spacingAndGlyphs">High</text>
<text x="494.10" y="416.20" font-size="8.6" fill="#0a0a0a" stroke="#0a0a0a" stroke-width="0.22" text-anchor="middle" textLength="20.67" lengthAdjust="spacingAndGlyphs">MMP</text>
<text x="419.50" y="451.90" font-size="10.6" fill="#0a0a0a" stroke="#0a0a0a" stroke-width="0.22" text-anchor="middle" textLength="34.60" lengthAdjust="spacingAndGlyphs">CD49f<tspan dy="-1.80" font-size="8.48">+</tspan></text>
<line x1="375.60" y1="465.80" x2="380.40" y2="465.80" stroke="#a90f31" stroke-width="1.1"/>
<text x="384.20" y="468.70" font-size="8.4" fill="#0a0a0a" stroke="#0a0a0a" stroke-width="0.22" textLength="28.50" lengthAdjust="spacingAndGlyphs">CD34<tspan dy="-1.43" font-size="6.72">++</tspan></text>
<line x1="432.00" y1="466.20" x2="437.00" y2="466.20" stroke="#2d4d8b" stroke-width="1.1"/>
<text x="440.20" y="468.70" font-size="8.4" fill="#0a0a0a" stroke="#0a0a0a" stroke-width="0.22" textLength="25.00" lengthAdjust="spacingAndGlyphs">CD34<tspan dy="-1.43" font-size="6.72">+</tspan></text>
<path d="M386.31,488.46 L386.85,489.62 L387.38,490.68 L387.92,492.01 L388.46,494.62 L388.85,497.48 L389.23,497.94 L389.62,499.84 L390.00,500.77 L391.03,499.40 L392.05,497.32 L393.08,496.15 L393.79,495.36 L394.51,493.32 L395.23,491.54 L395.62,493.98 L396.00,495.13 L396.38,497.24 L396.77,497.69 L397.28,495.96 L397.79,493.51 L398.31,493.08 L398.68,493.49 L399.05,496.87 L399.42,496.63 L399.78,499.73 L400.15,500.77 L401.23,499.62 L402.31,497.69 L402.69,494.74 L403.08,495.53 L403.46,491.58 L403.85,491.54 L404.23,494.25 L404.62,495.71 L405.00,495.24 L405.38,497.69 L405.60,496.88 L405.82,495.36 L406.04,491.88 L406.26,492.08 L406.48,488.80 L406.70,489.78 L406.92,486.92 L407.44,489.07 L407.95,491.54 L408.46,491.54 L408.72,491.65 L408.97,494.03 L409.23,496.54 L409.49,498.04 L409.74,498.21 L410.00,500.77 L410.38,500.47 L410.77,498.80 L411.15,495.52 L411.54,494.62 L411.79,495.02 L412.05,498.23 L412.31,498.93 L412.56,501.29 L412.82,502.29 L413.08,503.85 L413.46,501.97 L413.85,499.24 L414.23,498.06 L414.62,497.69 L414.81,499.10 L415.00,501.50 L415.19,502.07 L415.38,504.63 L415.58,505.51 L415.77,508.14 L415.96,508.96 L416.15,510.00 L416.92,507.89 L417.69,506.92 L417.88,507.31 L418.08,508.61 L418.27,510.07 L418.46,514.24 L418.65,515.81 L418.85,516.96 L419.04,516.44 L419.23,519.23 L419.62,521.28 L420.00,521.12 L420.38,525.09 L420.77,525.38 L422.31,523.85 L422.82,525.88 L423.33,527.72 L423.85,528.46 L424.62,530.35 L425.38,531.54 L425.90,529.74 L426.41,529.58 L426.92,526.92 L427.31,529.94 L427.69,529.17 L428.08,531.34 L428.46,533.08 L429.23,535.36 L430.00,536.15 L431.03,537.64 L432.05,538.02 L433.08,539.23 L434.62,538.37 L436.15,537.69 L437.69,539.15 L439.23,538.33 L440.77,539.23 L442.31,539.25 L443.85,540.20 L445.38,540.19 L446.92,540.77" fill="none" stroke="#2d4d8b" stroke-width="1.1" stroke-linejoin="round"/>
<path d="M380.77,541.38 L381.31,540.19 L381.85,538.10 L382.38,537.02 L382.92,536.15 L383.05,534.01 L383.19,533.91 L383.32,532.33 L383.45,531.46 L383.58,527.94 L383.71,527.38 L383.85,524.93 L383.98,523.99 L384.11,523.31 L384.24,520.64 L384.37,519.66 L384.51,519.40 L384.64,517.70 L384.77,516.15 L384.85,513.97 L384.93,513.47 L385.01,512.59 L385.09,509.04 L385.17,509.66 L385.26,507.92 L385.34,505.54 L385.42,503.60 L385.50,504.23 L385.58,501.15 L385.66,499.06 L385.74,497.62 L385.82,498.11 L385.90,496.02 L385.98,495.09 L386.06,493.43 L386.15,491.47 L386.23,491.15 L386.31,488.46 L386.48,486.61 L386.66,485.52 L386.84,484.70 L387.01,482.62 L387.19,481.71 L387.36,479.43 L387.54,477.69 L387.76,479.76 L387.98,479.59 L388.20,481.60 L388.42,483.30 L388.64,484.29 L388.86,486.23 L389.08,488.46 L389.27,488.96 L389.46,490.96 L389.65,493.43 L389.85,494.26 L390.04,495.82 L390.23,496.94 L390.42,498.62 L390.62,500.77 L391.54,500.37 L392.46,497.69 L392.85,499.62 L393.23,501.05 L393.62,501.45 L394.00,503.85 L394.38,505.98 L394.77,506.05 L395.15,508.15 L395.54,510.00 L395.76,509.73 L395.98,507.29 L396.20,505.53 L396.42,504.33 L396.64,503.20 L396.86,501.49 L397.08,499.23 L397.32,500.06 L397.57,501.09 L397.82,503.37 L398.06,504.78 L398.31,506.92 L398.77,507.71 L399.23,511.15 L399.69,512.52 L400.15,513.08 L400.92,511.06 L401.69,510.00 L401.91,511.94 L402.13,512.81 L402.35,515.69 L402.57,516.05 L402.79,517.08 L403.01,518.57 L403.23,520.77 L403.74,519.39 L404.26,517.08 L404.77,516.15 L405.03,517.91 L405.28,520.27 L405.54,520.51 L405.79,521.58 L406.05,525.14 L406.31,525.38 L407.08,523.87 L407.85,522.31 L408.23,522.78 L408.62,524.21 L409.00,525.91 L409.38,528.46 L410.92,526.92 L411.64,528.79 L412.36,530.76 L413.08,531.54 L414.62,532.11 L416.15,533.08 L417.18,532.97 L418.21,534.82 L419.23,536.15 L420.77,536.67 L422.31,534.62 L423.33,535.72 L424.36,537.76 L425.38,537.69 L426.92,537.72 L428.46,536.15 L429.49,536.16 L430.51,538.57 L431.54,539.23 L433.08,539.24 L434.62,538.82 L436.15,538.19 L437.69,538.31 L439.23,538.75 L440.77,538.23 L442.31,538.92 L443.85,539.23 L445.38,538.94 L446.92,539.40 L448.46,539.10 L450.00,538.31 L451.54,537.76 L453.08,538.00 L454.62,537.27 L456.15,537.69 L457.69,539.09 L459.23,539.68 L460.77,539.83 L462.31,540.77 L463.85,540.94 L465.38,541.02 L466.92,540.94 L468.46,541.28 L470.00,541.30 L471.54,541.38" fill="none" stroke="#a90f31" stroke-width="1.1" stroke-linejoin="round"/>
<line x1="357.50" y1="474.40" x2="357.50" y2="542.90" stroke="#111" stroke-width="0.9"/>
<line x1="357.10" y1="542.50" x2="482.90" y2="542.50" stroke="#111" stroke-width="0.9"/>
<line x1="356.50" y1="539.95" x2="357.50" y2="539.95" stroke="#111" stroke-width="0.75"/>
<line x1="356.50" y1="537.40" x2="357.50" y2="537.40" stroke="#111" stroke-width="0.75"/>
<line x1="356.50" y1="534.85" x2="357.50" y2="534.85" stroke="#111" stroke-width="0.75"/>
<line x1="356.50" y1="532.30" x2="357.50" y2="532.30" stroke="#111" stroke-width="0.75"/>
<line x1="355.50" y1="529.75" x2="357.50" y2="529.75" stroke="#111" stroke-width="0.75"/>
<line x1="356.50" y1="527.20" x2="357.50" y2="527.20" stroke="#111" stroke-width="0.75"/>
<line x1="356.50" y1="524.65" x2="357.50" y2="524.65" stroke="#111" stroke-width="0.75"/>
<line x1="356.50" y1="522.10" x2="357.50" y2="522.10" stroke="#111" stroke-width="0.75"/>
<line x1="356.50" y1="519.55" x2="357.50" y2="519.55" stroke="#111" stroke-width="0.75"/>
<line x1="355.50" y1="517.00" x2="357.50" y2="517.00" stroke="#111" stroke-width="0.75"/>
<line x1="356.50" y1="514.45" x2="357.50" y2="514.45" stroke="#111" stroke-width="0.75"/>
<line x1="356.50" y1="511.90" x2="357.50" y2="511.90" stroke="#111" stroke-width="0.75"/>
<line x1="356.50" y1="509.35" x2="357.50" y2="509.35" stroke="#111" stroke-width="0.75"/>
<line x1="356.50" y1="506.80" x2="357.50" y2="506.80" stroke="#111" stroke-width="0.75"/>
<line x1="355.50" y1="504.25" x2="357.50" y2="504.25" stroke="#111" stroke-width="0.75"/>
<line x1="356.50" y1="501.70" x2="357.50" y2="501.70" stroke="#111" stroke-width="0.75"/>
<line x1="356.50" y1="499.15" x2="357.50" y2="499.15" stroke="#111" stroke-width="0.75"/>
<line x1="356.50" y1="496.60" x2="357.50" y2="496.60" stroke="#111" stroke-width="0.75"/>
<line x1="356.50" y1="494.05" x2="357.50" y2="494.05" stroke="#111" stroke-width="0.75"/>
<line x1="355.50" y1="491.50" x2="357.50" y2="491.50" stroke="#111" stroke-width="0.75"/>
<line x1="356.50" y1="488.95" x2="357.50" y2="488.95" stroke="#111" stroke-width="0.75"/>
<line x1="356.50" y1="486.40" x2="357.50" y2="486.40" stroke="#111" stroke-width="0.75"/>
<line x1="356.50" y1="483.85" x2="357.50" y2="483.85" stroke="#111" stroke-width="0.75"/>
<line x1="356.50" y1="481.30" x2="357.50" y2="481.30" stroke="#111" stroke-width="0.75"/>
<line x1="355.50" y1="478.75" x2="357.50" y2="478.75" stroke="#111" stroke-width="0.75"/>
<line x1="356.50" y1="476.20" x2="357.50" y2="476.20" stroke="#111" stroke-width="0.75"/>
<line x1="357.50" y1="542.50" x2="357.50" y2="544.30" stroke="#111" stroke-width="0.5"/>
<line x1="366.94" y1="542.50" x2="366.94" y2="543.40" stroke="#111" stroke-width="0.5"/>
<line x1="372.46" y1="542.50" x2="372.46" y2="543.40" stroke="#111" stroke-width="0.5"/>
<line x1="376.37" y1="542.50" x2="376.37" y2="543.40" stroke="#111" stroke-width="0.5"/>
<line x1="379.41" y1="542.50" x2="379.41" y2="543.40" stroke="#111" stroke-width="0.5"/>
<line x1="381.90" y1="542.50" x2="381.90" y2="543.40" stroke="#111" stroke-width="0.5"/>
<line x1="383.99" y1="542.50" x2="383.99" y2="543.40" stroke="#111" stroke-width="0.5"/>
<line x1="385.81" y1="542.50" x2="385.81" y2="543.40" stroke="#111" stroke-width="0.5"/>
<line x1="387.42" y1="542.50" x2="387.42" y2="543.40" stroke="#111" stroke-width="0.5"/>
<line x1="388.85" y1="542.50" x2="388.85" y2="544.30" stroke="#111" stroke-width="0.5"/>
<line x1="398.29" y1="542.50" x2="398.29" y2="543.40" stroke="#111" stroke-width="0.5"/>
<line x1="403.81" y1="542.50" x2="403.81" y2="543.40" stroke="#111" stroke-width="0.5"/>
<line x1="407.72" y1="542.50" x2="407.72" y2="543.40" stroke="#111" stroke-width="0.5"/>
<line x1="410.76" y1="542.50" x2="410.76" y2="543.40" stroke="#111" stroke-width="0.5"/>
<line x1="413.25" y1="542.50" x2="413.25" y2="543.40" stroke="#111" stroke-width="0.5"/>
<line x1="415.34" y1="542.50" x2="415.34" y2="543.40" stroke="#111" stroke-width="0.5"/>
<line x1="417.16" y1="542.50" x2="417.16" y2="543.40" stroke="#111" stroke-width="0.5"/>
<line x1="418.77" y1="542.50" x2="418.77" y2="543.40" stroke="#111" stroke-width="0.5"/>
<line x1="420.20" y1="542.50" x2="420.20" y2="544.30" stroke="#111" stroke-width="0.5"/>
<line x1="429.64" y1="542.50" x2="429.64" y2="543.40" stroke="#111" stroke-width="0.5"/>
<line x1="435.16" y1="542.50" x2="435.16" y2="543.40" stroke="#111" stroke-width="0.5"/>
<line x1="439.07" y1="542.50" x2="439.07" y2="543.40" stroke="#111" stroke-width="0.5"/>
<line x1="442.11" y1="542.50" x2="442.11" y2="543.40" stroke="#111" stroke-width="0.5"/>
<line x1="444.60" y1="542.50" x2="444.60" y2="543.40" stroke="#111" stroke-width="0.5"/>
<line x1="446.69" y1="542.50" x2="446.69" y2="543.40" stroke="#111" stroke-width="0.5"/>
<line x1="448.51" y1="542.50" x2="448.51" y2="543.40" stroke="#111" stroke-width="0.5"/>
<line x1="450.12" y1="542.50" x2="450.12" y2="543.40" stroke="#111" stroke-width="0.5"/>
<line x1="451.55" y1="542.50" x2="451.55" y2="544.30" stroke="#111" stroke-width="0.5"/>
<line x1="460.99" y1="542.50" x2="460.99" y2="543.40" stroke="#111" stroke-width="0.5"/>
<line x1="466.51" y1="542.50" x2="466.51" y2="543.40" stroke="#111" stroke-width="0.5"/>
<line x1="470.42" y1="542.50" x2="470.42" y2="543.40" stroke="#111" stroke-width="0.5"/>
<line x1="473.46" y1="542.50" x2="473.46" y2="543.40" stroke="#111" stroke-width="0.5"/>
<line x1="475.95" y1="542.50" x2="475.95" y2="543.40" stroke="#111" stroke-width="0.5"/>
<line x1="478.04" y1="542.50" x2="478.04" y2="543.40" stroke="#111" stroke-width="0.5"/>
<line x1="479.86" y1="542.50" x2="479.86" y2="543.40" stroke="#111" stroke-width="0.5"/>
<line x1="481.47" y1="542.50" x2="481.47" y2="543.40" stroke="#111" stroke-width="0.5"/>
<line x1="364.20" y1="507.60" x2="390.60" y2="507.60" stroke="#444" stroke-width="1.0"/>
<line x1="364.20" y1="505.00" x2="364.20" y2="510.20" stroke="#444" stroke-width="1.0"/>
<line x1="390.60" y1="505.00" x2="390.60" y2="510.20" stroke="#444" stroke-width="1.0"/>
<line x1="425.40" y1="508.00" x2="469.60" y2="508.00" stroke="#444" stroke-width="1.0"/>
<line x1="425.40" y1="505.40" x2="425.40" y2="510.60" stroke="#444" stroke-width="1.0"/>
<line x1="469.60" y1="505.40" x2="469.60" y2="510.60" stroke="#444" stroke-width="1.0"/>
<text x="374.50" y="493.20" font-size="8.2" fill="#0a0a0a" stroke="#0a0a0a" stroke-width="0.22" text-anchor="middle" textLength="15.49" lengthAdjust="spacingAndGlyphs">Low</text>
<text x="374.20" y="502.00" font-size="8.2" fill="#0a0a0a" stroke="#0a0a0a" stroke-width="0.22" text-anchor="middle" textLength="19.70" lengthAdjust="spacingAndGlyphs">MMP</text>
<text x="447.40" y="493.20" font-size="8.2" fill="#0a0a0a" stroke="#0a0a0a" stroke-width="0.22" text-anchor="middle" textLength="17.37" lengthAdjust="spacingAndGlyphs">High</text>
<text x="447.60" y="502.00" font-size="8.2" fill="#0a0a0a" stroke="#0a0a0a" stroke-width="0.22" text-anchor="middle" textLength="19.70" lengthAdjust="spacingAndGlyphs">MMP</text>
<text x="287.70" y="589.10" font-size="10.6" fill="#0a0a0a" stroke="#0a0a0a" stroke-width="0.22" text-anchor="middle" textLength="32.50" lengthAdjust="spacingAndGlyphs">CD90<tspan dy="-1.80" font-size="8.48">+</tspan></text>
<line x1="255.50" y1="602.60" x2="255.50" y2="694.70" stroke="#111" stroke-width="0.9"/>
<line x1="255.05" y1="692.50" x2="319.80" y2="692.50" stroke="#111" stroke-width="0.9"/>
<line x1="252.30" y1="604.30" x2="255.50" y2="604.30" stroke="#111" stroke-width="0.8"/>
<text x="248.90" y="607.20" font-size="8.6" fill="#0a0a0a" stroke="#0a0a0a" stroke-width="0.22" text-anchor="end" textLength="14.78" lengthAdjust="spacingAndGlyphs">100</text>
<line x1="252.30" y1="621.80" x2="255.50" y2="621.80" stroke="#111" stroke-width="0.8"/>
<text x="248.90" y="624.70" font-size="8.6" fill="#0a0a0a" stroke="#0a0a0a" stroke-width="0.22" text-anchor="end" textLength="9.85" lengthAdjust="spacingAndGlyphs">80</text>
<line x1="252.30" y1="639.30" x2="255.50" y2="639.30" stroke="#111" stroke-width="0.8"/>
<text x="248.90" y="642.20" font-size="8.6" fill="#0a0a0a" stroke="#0a0a0a" stroke-width="0.22" text-anchor="end" textLength="9.85" lengthAdjust="spacingAndGlyphs">60</text>
<line x1="252.30" y1="656.90" x2="255.50" y2="656.90" stroke="#111" stroke-width="0.8"/>
<text x="248.90" y="659.80" font-size="8.6" fill="#0a0a0a" stroke="#0a0a0a" stroke-width="0.22" text-anchor="end" textLength="9.85" lengthAdjust="spacingAndGlyphs">40</text>
<line x1="252.30" y1="674.40" x2="255.50" y2="674.40" stroke="#111" stroke-width="0.8"/>
<text x="248.90" y="677.30" font-size="8.6" fill="#0a0a0a" stroke="#0a0a0a" stroke-width="0.22" text-anchor="end" textLength="9.85" lengthAdjust="spacingAndGlyphs">20</text>
<line x1="252.30" y1="692.00" x2="255.50" y2="692.00" stroke="#111" stroke-width="0.8"/>
<text x="248.90" y="694.90" font-size="8.6" fill="#0a0a0a" stroke="#0a0a0a" stroke-width="0.22" text-anchor="end" textLength="4.93" lengthAdjust="spacingAndGlyphs">0</text>
<line x1="286.00" y1="692.50" x2="286.00" y2="694.70" stroke="#111" stroke-width="0.8"/>
<line x1="319.50" y1="692.50" x2="319.50" y2="694.70" stroke="#111" stroke-width="0.8"/>
<rect x="264.70" y="683.00" width="11.30" height="9.00" fill="#2d4d8b" stroke="none" stroke-width="0.8"/>
<line x1="270.30" y1="681.60" x2="270.30" y2="684.60" stroke="#111" stroke-width="0.8"/>
<line x1="268.10" y1="681.60" x2="272.50" y2="681.60" stroke="#111" stroke-width="0.8"/>
<line x1="268.10" y1="684.60" x2="272.50" y2="684.60" stroke="#111" stroke-width="0.8"/>
<rect x="296.20" y="609.80" width="11.20" height="82.20" fill="#2d4d8b" stroke="none" stroke-width="0.8"/>
<line x1="301.80" y1="605.30" x2="301.80" y2="613.40" stroke="#111" stroke-width="0.8"/>
<line x1="299.60" y1="605.30" x2="304.00" y2="605.30" stroke="#111" stroke-width="0.8"/>
<line x1="299.60" y1="613.40" x2="304.00" y2="613.40" stroke="#111" stroke-width="0.8"/>
<text x="301.80" y="603.49" font-size="7.4" fill="#0a0a0a" stroke="#0a0a0a" stroke-width="0.22" text-anchor="middle" textLength="11.87" lengthAdjust="spacingAndGlyphs">****</text>
<text x="274.30" y="703.80" font-size="8.9" fill="#0a0a0a" stroke="#0a0a0a" stroke-width="0.22" text-anchor="end" transform="rotate(-45 274.30 703.80)">CD34<tspan dy="-1.51" font-size="7.12">+</tspan></text>
<text x="304.80" y="703.80" font-size="8.9" fill="#0a0a0a" stroke="#0a0a0a" stroke-width="0.22" text-anchor="end" transform="rotate(-45 304.80 703.80)">CD34<tspan dy="-1.51" font-size="7.12">++</tspan></text>
<text x="422.20" y="588.60" font-size="10.6" fill="#0a0a0a" stroke="#0a0a0a" stroke-width="0.22" text-anchor="middle" textLength="34.10" lengthAdjust="spacingAndGlyphs">CD49f<tspan dy="-1.80" font-size="8.48">+</tspan></text>
<line x1="368.50" y1="600.70" x2="368.50" y2="694.70" stroke="#111" stroke-width="0.9"/>
<line x1="368.05" y1="692.50" x2="476.20" y2="692.50" stroke="#111" stroke-width="0.9"/>
<line x1="365.30" y1="603.20" x2="368.50" y2="603.20" stroke="#111" stroke-width="0.8"/>
<text x="361.90" y="606.10" font-size="8.6" fill="#0a0a0a" stroke="#0a0a0a" stroke-width="0.22" text-anchor="end" textLength="9.85" lengthAdjust="spacingAndGlyphs">60</text>
<line x1="365.30" y1="632.80" x2="368.50" y2="632.80" stroke="#111" stroke-width="0.8"/>
<text x="361.90" y="635.70" font-size="8.6" fill="#0a0a0a" stroke="#0a0a0a" stroke-width="0.22" text-anchor="end" textLength="9.85" lengthAdjust="spacingAndGlyphs">40</text>
<line x1="365.30" y1="662.40" x2="368.50" y2="662.40" stroke="#111" stroke-width="0.8"/>
<text x="361.90" y="665.30" font-size="8.6" fill="#0a0a0a" stroke="#0a0a0a" stroke-width="0.22" text-anchor="end" textLength="9.85" lengthAdjust="spacingAndGlyphs">20</text>
<line x1="365.30" y1="692.00" x2="368.50" y2="692.00" stroke="#111" stroke-width="0.8"/>
<text x="361.90" y="694.90" font-size="8.6" fill="#0a0a0a" stroke="#0a0a0a" stroke-width="0.22" text-anchor="end" textLength="4.93" lengthAdjust="spacingAndGlyphs">0</text>
<line x1="420.60" y1="692.50" x2="420.60" y2="694.70" stroke="#111" stroke-width="0.8"/>
<line x1="474.30" y1="692.50" x2="474.30" y2="694.70" stroke="#111" stroke-width="0.8"/>
<rect x="375.10" y="604.70" width="4.50" height="4.50" fill="#a90f31" stroke="none" stroke-width="0.8"/>
<text x="383.30" y="609.40" font-size="8.4" fill="#0a0a0a" stroke="#0a0a0a" stroke-width="0.22" textLength="28.10" lengthAdjust="spacingAndGlyphs">CD34<tspan dy="-1.43" font-size="6.72">++</tspan></text>
<rect x="429.00" y="604.50" width="4.50" height="4.50" fill="#2d4d8b" stroke="none" stroke-width="0.8"/>
<text x="436.90" y="609.40" font-size="8.4" fill="#0a0a0a" stroke="#0a0a0a" stroke-width="0.22" textLength="25.20" lengthAdjust="spacingAndGlyphs">CD34<tspan dy="-1.43" font-size="6.72">+</tspan></text>
<rect x="379.10" y="645.10" width="13.70" height="46.90" fill="#a90f31" stroke="none" stroke-width="0.8"/>
<line x1="386.00" y1="627.10" x2="386.00" y2="662.40" stroke="#111" stroke-width="0.8"/>
<line x1="383.80" y1="627.10" x2="388.20" y2="627.10" stroke="#111" stroke-width="0.8"/>
<line x1="383.80" y1="662.40" x2="388.20" y2="662.40" stroke="#111" stroke-width="0.8"/>
<rect x="397.10" y="670.90" width="13.70" height="21.10" fill="#2d4d8b" stroke="none" stroke-width="0.8"/>
<line x1="404.00" y1="666.30" x2="404.00" y2="674.70" stroke="#111" stroke-width="0.8"/>
<line x1="401.80" y1="666.30" x2="406.20" y2="666.30" stroke="#111" stroke-width="0.8"/>
<line x1="401.80" y1="674.70" x2="406.20" y2="674.70" stroke="#111" stroke-width="0.8"/>
<rect x="431.30" y="679.30" width="13.90" height="12.70" fill="#a90f31" stroke="none" stroke-width="0.8"/>
<line x1="438.30" y1="674.80" x2="438.30" y2="683.40" stroke="#111" stroke-width="0.8"/>
<line x1="436.10" y1="674.80" x2="440.50" y2="674.80" stroke="#111" stroke-width="0.8"/>
<line x1="436.10" y1="683.40" x2="440.50" y2="683.40" stroke="#111" stroke-width="0.8"/>
<rect x="449.30" y="679.30" width="13.90" height="12.70" fill="#2d4d8b" stroke="none" stroke-width="0.8"/>
<line x1="456.30" y1="676.00" x2="456.30" y2="682.20" stroke="#111" stroke-width="0.8"/>
<line x1="454.10" y1="676.00" x2="458.50" y2="676.00" stroke="#111" stroke-width="0.8"/>
<line x1="454.10" y1="682.20" x2="458.50" y2="682.20" stroke="#111" stroke-width="0.8"/>
<text x="386.00" y="625.09" font-size="7.4" fill="#0a0a0a" stroke="#0a0a0a" stroke-width="0.22" text-anchor="middle" textLength="2.97" lengthAdjust="spacingAndGlyphs">*</text>
<text x="404.00" y="662.20" font-size="7.6" fill="#0a0a0a" stroke="#0a0a0a" stroke-width="0.22" text-anchor="middle" textLength="8.27" lengthAdjust="spacingAndGlyphs">ns</text>
<text x="394.60" y="706.00" font-size="8.6" fill="#0a0a0a" stroke="#0a0a0a" stroke-width="0.22" text-anchor="middle" textLength="16.25" lengthAdjust="spacingAndGlyphs">Low</text>
<text x="395.00" y="716.00" font-size="8.6" fill="#0a0a0a" stroke="#0a0a0a" stroke-width="0.22" text-anchor="middle" textLength="20.67" lengthAdjust="spacingAndGlyphs">MMP</text>
<text x="447.00" y="706.00" font-size="8.6" fill="#0a0a0a" stroke="#0a0a0a" stroke-width="0.22" text-anchor="middle" textLength="18.22" lengthAdjust="spacingAndGlyphs">High</text>
<text x="447.00" y="716.00" font-size="8.6" fill="#0a0a0a" stroke="#0a0a0a" stroke-width="0.22" text-anchor="middle" textLength="20.67" lengthAdjust="spacingAndGlyphs">MMP</text>
<text x="57.30" y="32.00" font-size="8.3" fill="#0a0a0a" stroke="#0a0a0a" stroke-width="0.22" text-anchor="middle" textLength="56.60" lengthAdjust="spacingAndGlyphs">CD34<tspan dy="-1.41" font-size="6.64">+</tspan><tspan dy="1.41"> enriched</tspan></text>
<text x="57.30" y="41.30" font-size="8.3" fill="#0a0a0a" stroke="#0a0a0a" stroke-width="0.22" text-anchor="middle" textLength="59.50" lengthAdjust="spacingAndGlyphs">MNCs (PB / CB)</text>
<path d="M34.1,72.9h0.7M62.9,61.3h0.7M32.7,67.1h0.7M56.2,82.3h0.7M34.2,51.2h0.7M59.2,74.2h0.7M69.9,80.8h0.7M48.7,64.4h0.7M83.4,64.2h0.7M39.8,53.2h0.7M51.2,69.9h0.7M45.5,67.2h0.7M53.6,77.0h0.7M64.3,70.7h0.7M26.7,77.1h0.7M31.5,65.8h0.7M30.8,68.0h0.7M39.9,70.8h0.7M61.0,50.8h0.7M46.3,76.6h0.7M48.8,72.8h0.7M51.3,54.9h0.7M57.3,57.4h0.7M74.3,61.4h0.7M58.9,68.0h0.7M62.4,60.2h0.7M63.0,66.4h0.7M66.4,76.1h0.7M51.8,57.9h0.7M60.0,74.1h0.7M71.3,63.1h0.7M57.2,74.6h0.7M53.7,70.7h0.7M52.4,60.2h0.7M36.8,62.8h0.7M57.7,87.6h0.7M62.7,81.7h0.7M60.1,77.1h0.7M52.4,78.0h0.7M73.1,63.7h0.7M41.0,93.5h0.7M53.2,80.6h0.7M61.4,53.2h0.7M81.6,91.1h0.7M52.3,77.8h0.7M51.6,56.5h0.7M48.5,72.9h0.7M64.5,77.2h0.7M50.8,85.6h0.7M40.1,78.3h0.7M64.5,64.2h0.7M26.7,56.2h0.7M53.1,74.9h0.7M70.1,54.9h0.7M50.0,76.4h0.7M60.5,98.1h0.7M63.1,56.1h0.7M44.6,70.9h0.7M82.4,76.0h0.7M51.5,88.2h0.7M48.9,92.2h0.7M41.1,61.8h0.7M59.4,86.5h0.7M58.5,71.9h0.7M26.3,58.7h0.7M42.1,61.1h0.7M57.6,63.6h0.7M60.2,69.1h0.7M45.7,69.5h0.7M55.6,79.2h0.7M43.8,65.0h0.7M32.3,88.8h0.7M68.9,65.7h0.7M43.8,51.9h0.7M52.2,70.7h0.7M78.4,71.2h0.7M68.3,70.5h0.7M29.1,70.3h0.7M64.5,75.4h0.7M47.7,40.2h0.7M48.4,47.8h0.7M57.8,40.2h0.7M38.2,83.9h0.7M71.4,52.6h0.7M30.1,79.4h0.7M61.1,55.2h0.7M41.0,59.0h0.7M34.5,59.2h0.7M66.3,77.0h0.7M76.7,66.9h0.7M48.2,55.2h0.7M48.4,50.9h0.7M26.9,77.1h0.7M68.7,78.9h0.7M67.3,71.3h0.7M40.7,69.1h0.7M45.1,53.6h0.7M28.0,48.7h0.7M49.9,70.0h0.7M43.8,86.6h0.7M52.3,75.6h0.7M65.8,57.3h0.7M41.1,85.0h0.7M54.4,81.1h0.7M59.9,41.0h0.7M59.3,59.2h0.7M40.2,62.3h0.7M60.0,79.5h0.7M63.1,46.4h0.7M48.7,75.8h0.7M40.1,71.2h0.7M53.0,81.1h0.7M39.3,57.2h0.7M40.1,90.8h0.7M64.2,66.4h0.7M52.9,69.5h0.7M52.6,65.3h0.7M45.7,51.7h0.7M41.7,89.5h0.7M57.0,68.8h0.7M47.2,68.8h0.7M54.6,59.6h0.7M52.6,71.1h0.7M40.3,57.7h0.7M37.0,54.2h0.7M46.5,60.1h0.7M41.9,69.3h0.7M64.7,69.0h0.7M48.2,60.0h0.7M48.3,79.9h0.7M44.9,53.1h0.7M33.6,53.6h0.7M31.9,82.3h0.7M54.6,64.9h0.7M69.0,59.4h0.7M59.8,78.4h0.7M29.9,47.8h0.7M37.9,79.8h0.7M66.8,52.0h0.7M63.6,63.0h0.7M44.9,60.8h0.7M45.8,44.4h0.7M37.0,51.9h0.7M56.4,95.2h0.7M85.5,63.6h0.7M27.6,62.7h0.7M37.8,93.8h0.7M57.4,58.5h0.7M62.2,75.0h0.7M28.9,61.1h0.7M46.9,68.2h0.7M51.7,63.6h0.7M52.5,60.4h0.7M38.3,87.7h0.7M54.7,73.7h0.7M29.3,65.8h0.7M60.6,51.2h0.7M64.3,62.9h0.7M55.2,66.3h0.7M52.8,83.6h0.7M44.8,88.3h0.7M39.8,55.9h0.7M59.2,54.1h0.7M45.2,79.8h0.7M65.7,44.9h0.7M56.6,92.5h0.7M65.5,64.9h0.7M42.2,64.1h0.7M35.0,64.6h0.7M47.6,66.1h0.7M65.4,65.0h0.7M31.0,81.7h0.7M36.1,62.2h0.7M48.3,63.5h0.7M37.0,64.8h0.7M78.4,60.1h0.7M48.2,82.6h0.7M59.7,77.9h0.7M61.2,42.4h0.7M38.8,69.7h0.7M56.5,84.8h0.7M56.1,64.9h0.7M50.5,65.3h0.7M53.2,76.8h0.7M45.6,57.4h0.7M38.9,82.3h0.7M66.7,80.9h0.7M61.1,78.8h0.7M50.0,76.6h0.7M36.3,65.4h0.7M40.5,77.5h0.7M42.5,66.6h0.7M55.2,85.6h0.7M39.7,55.8h0.7M60.6,53.6h0.7M55.9,60.6h0.7M48.6,44.3h0.7M59.3,61.5h0.7M38.3,95.0h0.7M55.3,63.5h0.7M51.4,88.9h0.7M49.6,73.9h0.7M56.7,56.2h0.7M51.7,61.5h0.7M33.8,79.3h0.7M58.7,69.0h0.7M38.2,41.9h0.7M56.3,66.7h0.7M28.1,67.2h0.7M30.2,67.7h0.7M51.9,72.6h0.7M52.8,70.2h0.7M35.2,63.0h0.7M43.4,64.9h0.7M53.5,76.0h0.7M55.2,65.4h0.7M79.6,80.1h0.7M28.5,73.2h0.7M43.2,80.9h0.7M36.3,66.7h0.7M48.3,66.7h0.7M42.4,44.1h0.7M56.0,81.0h0.7M49.1,54.8h0.7M52.6,75.3h0.7M47.7,67.8h0.7M68.3,53.5h0.7M42.7,43.2h0.7M40.9,58.4h0.7M37.5,59.0h0.7M73.4,65.4h0.7M48.5,96.6h0.7M49.2,45.5h0.7M55.2,55.8h0.7M71.3,51.8h0.7M42.5,47.1h0.7M51.3,54.8h0.7M49.1,63.1h0.7M42.0,80.3h0.7M62.2,68.8h0.7M38.3,54.1h0.7M53.5,99.1h0.7M44.1,57.8h0.7M40.9,53.8h0.7M37.4,65.3h0.7M68.6,68.0h0.7M43.4,47.0h0.7M52.8,67.7h0.7M34.1,53.9h0.7M49.5,81.2h0.7M58.1,70.7h0.7M45.8,72.2h0.7M49.8,96.2h0.7M35.3,63.2h0.7M66.5,64.5h0.7M68.5,67.4h0.7M51.9,63.2h0.7M32.1,55.4h0.7M78.8,76.4h0.7M57.9,80.4h0.7M57.4,81.3h0.7M46.5,65.1h0.7M62.8,63.4h0.7M32.7,65.1h0.7M42.9,76.0h0.7M40.6,54.2h0.7M45.7,88.2h0.7M49.4,70.1h0.7M50.1,71.8h0.7M62.1,86.1h0.7M28.6,85.7h0.7M50.0,63.8h0.7M81.2,65.8h0.7M75.3,80.6h0.7M36.6,74.3h0.7M59.6,66.4h0.7M47.5,53.6h0.7M73.7,64.8h0.7M44.9,64.1h0.7M39.8,57.9h0.7M51.2,72.1h0.7M43.4,66.8h0.7M31.9,74.8h0.7M40.3,70.8h0.7M38.2,61.3h0.7M52.8,52.3h0.7M82.1,67.5h0.7M49.1,58.5h0.7M70.7,86.0h0.7M53.9,50.2h0.7" stroke="#5a64b4" stroke-width="0.6" stroke-opacity="0.55" fill="none"/>
<path d="M24.90,55.60 C25.98,54.87 29.23,55.12 31.40,55.20 C33.57,55.28 35.75,56.10 37.90,56.10 C40.05,56.10 42.62,55.67 44.30,55.20 C45.98,54.73 46.77,53.92 48.00,53.30 C49.23,52.68 51.37,50.38 51.70,51.50 C52.03,52.62 50.78,57.58 50.00,60.00 C49.22,62.42 47.83,64.07 47.00,66.00 C46.17,67.93 45.78,71.27 45.00,71.60 C44.22,71.93 43.53,68.73 42.30,68.00 C41.07,67.27 39.15,67.83 37.60,67.20 C36.05,66.57 34.73,65.30 33.00,64.20 C31.27,63.10 28.55,61.37 27.20,60.60 C25.85,59.83 25.28,60.43 24.90,59.60 C24.52,58.77 23.82,56.33 24.90,55.60 Z" fill="#eef0fa" stroke="none"/>
<path d="M24.90,55.60 C25.98,55.53 29.23,55.12 31.40,55.20 C33.57,55.28 35.75,56.10 37.90,56.10 C40.05,56.10 42.62,55.67 44.30,55.20 C45.98,54.73 46.77,53.92 48.00,53.30 C49.23,52.68 51.08,51.80 51.70,51.50" fill="none" stroke="#24309a" stroke-width="0.5"/>
<path d="M24.90,56.50 C26.08,56.52 29.82,56.45 32.00,56.60 C34.18,56.75 36.00,57.33 38.00,57.40 C40.00,57.47 42.33,57.27 44.00,57.00 C45.67,56.73 47.33,56.00 48.00,55.80" fill="none" stroke="#24309a" stroke-width="0.5"/>
<path d="M24.90,57.60 C25.75,57.70 28.15,57.87 30.00,58.20 C31.85,58.53 34.17,59.23 36.00,59.60 C37.83,59.97 39.25,60.37 41.00,60.40 C42.75,60.43 45.58,59.90 46.50,59.80" fill="none" stroke="#24309a" stroke-width="0.5"/>
<path d="M24.90,58.50 C25.58,58.68 27.48,59.08 29.00,59.60 C30.52,60.12 32.33,60.93 34.00,61.60 C35.67,62.27 37.50,63.07 39.00,63.60 C40.50,64.13 41.75,64.63 43.00,64.80 C44.25,64.97 45.92,64.63 46.50,64.60" fill="none" stroke="#24309a" stroke-width="0.5"/>
<path d="M24.90,59.60 C25.28,59.77 25.85,59.83 27.20,60.60 C28.55,61.37 31.27,63.10 33.00,64.20 C34.73,65.30 36.05,66.57 37.60,67.20 C39.15,67.83 40.98,67.27 42.30,68.00 C43.62,68.73 44.97,71.00 45.50,71.60" fill="none" stroke="#24309a" stroke-width="0.5"/>
<path d="M36.00,62.50 C36.67,62.45 38.83,62.12 40.00,62.20 C41.17,62.28 42.50,62.87 43.00,63.00" fill="none" stroke="#24309a" stroke-width="0.5"/>
<path d="M30.00,58.80 C30.50,58.77 32.50,58.63 33.00,58.60" fill="none" stroke="#24309a" stroke-width="0.5"/>
<path d="M54.50,51.20 C55.67,51.13 56.50,51.87 57.50,52.80 C58.50,53.73 59.62,55.28 60.50,56.80 C61.38,58.32 62.23,60.20 62.80,61.90 C63.37,63.60 63.73,65.40 63.90,67.00 C64.07,68.60 63.98,69.58 63.80,71.50 C63.62,73.42 63.43,76.25 62.80,78.50 C62.17,80.75 60.90,83.15 60.00,85.00 C59.10,86.85 58.13,88.23 57.40,89.60 C56.67,90.97 56.23,92.73 55.60,93.20 C54.97,93.67 54.13,93.02 53.60,92.40 C53.07,91.78 53.05,91.03 52.40,89.50 C51.75,87.97 50.62,85.18 49.70,83.20 C48.78,81.22 47.58,79.53 46.90,77.60 C46.22,75.67 45.75,73.70 45.60,71.60 C45.45,69.50 45.68,67.27 46.00,65.00 C46.32,62.73 46.75,59.97 47.50,58.00 C48.25,56.03 49.33,54.33 50.50,53.20 C51.67,52.07 53.33,51.27 54.50,51.20 Z" fill="#eef0fa" stroke="none"/><path d="M54.50,51.20 C55.67,51.13 56.50,51.87 57.50,52.80 C58.50,53.73 59.62,55.28 60.50,56.80 C61.38,58.32 62.23,60.20 62.80,61.90 C63.37,63.60 63.73,65.40 63.90,67.00 C64.07,68.60 63.98,69.58 63.80,71.50 C63.62,73.42 63.43,76.25 62.80,78.50 C62.17,80.75 60.90,83.15 60.00,85.00 C59.10,86.85 58.13,88.23 57.40,89.60 C56.67,90.97 56.23,92.73 55.60,93.20 C54.97,93.67 54.13,93.02 53.60,92.40 C53.07,91.78 53.05,91.03 52.40,89.50 C51.75,87.97 50.62,85.18 49.70,83.20 C48.78,81.22 47.58,79.53 46.90,77.60 C46.22,75.67 45.75,73.70 45.60,71.60 C45.45,69.50 45.68,67.27 46.00,65.00 C46.32,62.73 46.75,59.97 47.50,58.00 C48.25,56.03 49.33,54.33 50.50,53.20 C51.67,52.07 53.33,51.27 54.50,51.20 Z" fill="none" stroke="#1f2a8f" stroke-width="0.6" stroke-opacity="1.0"/><path d="M54.60,52.05 C55.69,51.98 56.47,52.68 57.40,53.57 C58.34,54.46 59.38,55.94 60.20,57.38 C61.03,58.83 61.82,60.62 62.35,62.24 C62.88,63.86 63.23,65.57 63.38,67.10 C63.54,68.62 63.46,69.56 63.29,71.38 C63.12,73.21 62.95,75.90 62.35,78.05 C61.76,80.19 60.58,82.48 59.74,84.24 C58.90,86.00 57.99,87.32 57.31,88.62 C56.62,89.92 56.22,91.60 55.63,92.05 C55.03,92.49 54.26,91.87 53.76,91.29 C53.26,90.70 53.24,89.98 52.64,88.52 C52.03,87.06 50.97,84.41 50.11,82.52 C49.26,80.63 48.14,79.03 47.50,77.19 C46.86,75.35 46.42,73.48 46.28,71.48 C46.14,69.48 46.36,67.35 46.66,65.19 C46.95,63.03 47.36,60.40 48.06,58.52 C48.76,56.65 49.77,55.03 50.86,53.95 C51.95,52.87 53.51,52.11 54.60,52.05 Z" fill="none" stroke="#1f2a8f" stroke-width="0.6" stroke-opacity="1.0"/><path d="M54.70,52.90 C55.71,52.83 56.43,53.50 57.30,54.34 C58.17,55.19 59.14,56.59 59.91,57.96 C60.68,59.33 61.42,61.04 61.91,62.58 C62.40,64.11 62.72,65.74 62.86,67.19 C63.01,68.64 62.94,69.53 62.78,71.26 C62.62,73.00 62.46,75.56 61.91,77.60 C61.36,79.63 60.26,81.80 59.48,83.48 C58.69,85.15 57.85,86.40 57.22,87.64 C56.58,88.87 56.20,90.47 55.65,90.90 C55.10,91.32 54.38,90.73 53.91,90.17 C53.45,89.61 53.44,88.93 52.87,87.55 C52.31,86.16 51.32,83.64 50.53,81.85 C49.73,80.05 48.69,78.53 48.09,76.78 C47.50,75.03 47.09,73.25 46.96,71.35 C46.83,69.45 47.04,67.43 47.31,65.38 C47.59,63.33 47.96,60.83 48.61,59.05 C49.27,57.27 50.21,55.73 51.22,54.70 C52.23,53.68 53.68,52.96 54.70,52.90 Z" fill="none" stroke="#1f2a8f" stroke-width="0.6" stroke-opacity="1.0"/><path d="M54.80,53.74 C55.73,53.69 56.40,54.31 57.20,55.11 C58.01,55.91 58.91,57.24 59.61,58.54 C60.32,59.84 61.01,61.46 61.46,62.91 C61.92,64.37 62.21,65.91 62.35,67.29 C62.48,68.66 62.41,69.50 62.27,71.14 C62.12,72.79 61.97,75.21 61.46,77.14 C60.95,79.07 59.94,81.13 59.21,82.71 C58.49,84.30 57.71,85.49 57.12,86.66 C56.54,87.83 56.19,89.34 55.68,89.74 C55.17,90.14 54.50,89.59 54.07,89.06 C53.64,88.53 53.63,87.89 53.11,86.57 C52.59,85.26 51.68,82.87 50.94,81.17 C50.20,79.47 49.24,78.03 48.69,76.37 C48.14,74.71 47.77,73.03 47.65,71.23 C47.53,69.43 47.71,67.51 47.97,65.57 C48.22,63.63 48.57,61.26 49.17,59.57 C49.77,57.89 50.64,56.43 51.58,55.46 C52.52,54.49 53.86,53.80 54.80,53.74 Z" fill="none" stroke="#1f2a8f" stroke-width="0.6" stroke-opacity="1.0"/><path d="M54.89,54.59 C55.75,54.54 56.37,55.13 57.11,55.89 C57.84,56.64 58.67,57.90 59.32,59.12 C59.97,60.35 60.60,61.88 61.02,63.25 C61.43,64.63 61.70,66.09 61.83,67.38 C61.95,68.68 61.89,69.47 61.75,71.02 C61.62,72.58 61.48,74.87 61.02,76.69 C60.55,78.51 59.61,80.45 58.95,81.95 C58.29,83.45 57.57,84.57 57.03,85.68 C56.49,86.78 56.17,88.21 55.70,88.59 C55.24,88.97 54.62,88.44 54.23,87.94 C53.84,87.44 53.82,86.84 53.34,85.60 C52.86,84.35 52.03,82.10 51.35,80.50 C50.68,78.89 49.79,77.53 49.29,75.96 C48.78,74.40 48.44,72.80 48.33,71.10 C48.22,69.40 48.39,67.60 48.62,65.76 C48.86,63.93 49.18,61.69 49.73,60.10 C50.28,58.50 51.08,57.13 51.94,56.21 C52.80,55.29 54.03,54.64 54.89,54.59 Z" fill="none" stroke="#1f2a8f" stroke-width="0.6" stroke-opacity="1.0"/><path d="M54.99,55.44 C55.78,55.39 56.34,55.95 57.01,56.66 C57.68,57.37 58.43,58.55 59.02,59.70 C59.62,60.86 60.19,62.30 60.57,63.59 C60.95,64.89 61.20,66.26 61.31,67.48 C61.42,68.70 61.37,69.44 61.24,70.90 C61.12,72.37 61.00,74.52 60.57,76.24 C60.14,77.95 59.29,79.78 58.69,81.19 C58.08,82.60 57.43,83.65 56.94,84.70 C56.45,85.74 56.16,87.08 55.73,87.44 C55.31,87.79 54.75,87.30 54.39,86.83 C54.03,86.36 54.02,85.79 53.58,84.62 C53.14,83.45 52.38,81.33 51.77,79.82 C51.15,78.31 50.34,77.03 49.88,75.55 C49.42,74.08 49.11,72.58 49.01,70.98 C48.91,69.38 49.07,67.68 49.28,65.95 C49.49,64.23 49.78,62.12 50.29,60.62 C50.79,59.12 51.52,57.83 52.30,56.96 C53.09,56.10 54.21,55.49 54.99,55.44 Z" fill="none" stroke="#1f2a8f" stroke-width="0.6" stroke-opacity="1.0"/><path d="M55.09,56.29 C55.80,56.24 56.30,56.76 56.91,57.43 C57.52,58.10 58.19,59.20 58.73,60.29 C59.27,61.37 59.78,62.71 60.12,63.93 C60.47,65.14 60.69,66.43 60.79,67.57 C60.89,68.71 60.84,69.42 60.73,70.79 C60.62,72.15 60.51,74.18 60.12,75.79 C59.74,77.39 58.97,79.11 58.43,80.43 C57.88,81.75 57.29,82.74 56.85,83.71 C56.40,84.69 56.14,85.95 55.76,86.29 C55.37,86.62 54.87,86.15 54.54,85.71 C54.22,85.27 54.21,84.74 53.82,83.64 C53.42,82.55 52.73,80.56 52.18,79.14 C51.62,77.73 50.89,76.52 50.48,75.14 C50.07,73.76 49.78,72.36 49.69,70.86 C49.60,69.36 49.74,67.76 49.93,66.14 C50.13,64.52 50.39,62.55 50.84,61.14 C51.30,59.74 51.96,58.52 52.66,57.71 C53.37,56.90 54.38,56.33 55.09,56.29 Z" fill="none" stroke="#1f2a8f" stroke-width="0.6" stroke-opacity="1.0"/>
<ellipse cx="55.00" cy="67.40" rx="6.00" ry="11.10" transform="rotate(0 55.00 67.40)" fill="#62b5e6"/>
<ellipse cx="55.15" cy="67.40" rx="5.20" ry="10.15" transform="rotate(0 55.15 67.40)" fill="#36c2b4"/>
<ellipse cx="55.30" cy="67.40" rx="4.40" ry="9.20" transform="rotate(0 55.30 67.40)" fill="#58bb46"/>
<ellipse cx="55.90" cy="67.90" rx="3.70" ry="7.82" transform="rotate(0 55.90 67.90)" fill="#b6d636"/>
<ellipse cx="56.50" cy="68.40" rx="3.00" ry="6.45" transform="rotate(0 56.50 68.40)" fill="#f2e22a"/>
<ellipse cx="56.73" cy="68.67" rx="2.55" ry="5.53" transform="rotate(0 56.73 68.67)" fill="#f39a2a"/>
<ellipse cx="57.00" cy="69.00" rx="2.00" ry="4.40" transform="rotate(0 57.00 69.00)" fill="#e5262a"/>
<ellipse cx="57.20" cy="68.80" rx="0.90" ry="2.20" transform="rotate(0 57.20 68.80)" fill="#ffffff"/>
<ellipse cx="55.40" cy="92.00" rx="1.30" ry="1.20" transform="rotate(0 55.40 92.00)" fill="none" stroke="#2c3896" stroke-width="0.5" stroke-opacity="1"/>
<line x1="24.50" y1="36.00" x2="24.50" y2="103.50" stroke="#3b4790" stroke-width="1.0"/>
<line x1="24.50" y1="103.50" x2="92.00" y2="103.50" stroke="#3b4790" stroke-width="1.0"/>
<line x1="23.30" y1="88.83" x2="24.50" y2="88.83" stroke="#3b4790" stroke-width="0.6"/>
<line x1="23.30" y1="74.15" x2="24.50" y2="74.15" stroke="#3b4790" stroke-width="0.6"/>
<line x1="23.30" y1="59.48" x2="24.50" y2="59.48" stroke="#3b4790" stroke-width="0.6"/>
<line x1="23.30" y1="44.80" x2="24.50" y2="44.80" stroke="#3b4790" stroke-width="0.6"/>
<line x1="39.17" y1="103.50" x2="39.17" y2="104.70" stroke="#3b4790" stroke-width="0.6"/>
<line x1="53.85" y1="103.50" x2="53.85" y2="104.70" stroke="#3b4790" stroke-width="0.6"/>
<line x1="68.52" y1="103.50" x2="68.52" y2="104.70" stroke="#3b4790" stroke-width="0.6"/>
<line x1="83.20" y1="103.50" x2="83.20" y2="104.70" stroke="#3b4790" stroke-width="0.6"/>
<rect x="46.00" y="73.00" width="31.50" height="30.00" fill="none" stroke="#c8506a" stroke-width="0.8"/>
<line x1="69.00" y1="89.00" x2="91.50" y2="89.00" stroke="#111" stroke-width="1.3"/>
<path d="M95.50,89.00 L91.00,86.60 L91.00,91.40 Z" fill="#111"/>
<path d="M105.5,86.1h0.7M117.2,79.7h0.7M129.7,84.6h0.7M117.3,100.2h0.7M115.1,72.6h0.7M106.3,79.3h0.7M126.6,91.7h0.7M131.4,100.7h0.7M137.2,90.0h0.7M133.6,90.2h0.7M114.7,91.8h0.7M121.1,82.5h0.7M140.6,91.4h0.7M115.6,83.8h0.7M144.1,82.2h0.7M128.0,90.1h0.7M125.7,89.8h0.7M115.7,80.3h0.7M118.9,81.2h0.7M128.7,98.6h0.7M111.6,89.5h0.7M110.6,78.2h0.7M118.1,85.5h0.7M116.1,60.7h0.7M134.6,82.0h0.7M114.1,90.7h0.7M114.5,71.5h0.7M125.5,88.3h0.7M112.2,92.2h0.7M124.3,74.1h0.7M138.3,86.9h0.7M109.0,88.6h0.7M121.8,93.4h0.7M106.9,94.0h0.7M130.1,90.8h0.7M126.7,96.5h0.7M127.8,85.7h0.7M112.1,94.6h0.7M130.5,87.2h0.7M122.1,91.1h0.7M131.2,101.8h0.7M115.7,88.4h0.7M119.8,64.2h0.7M127.9,84.3h0.7M121.2,75.8h0.7M120.1,85.2h0.7M133.5,87.1h0.7M155.9,80.7h0.7M117.8,84.0h0.7M112.3,98.2h0.7M127.0,72.8h0.7M121.6,94.9h0.7M106.1,85.8h0.7M124.7,80.7h0.7M114.8,101.7h0.7M104.6,82.7h0.7M118.1,78.0h0.7M118.3,90.7h0.7M113.7,71.3h0.7M134.1,97.8h0.7M113.5,87.2h0.7M107.0,79.4h0.7M142.4,72.9h0.7M120.7,74.7h0.7M123.2,72.5h0.7M114.5,91.1h0.7M118.9,72.5h0.7M135.6,85.5h0.7M134.7,74.9h0.7M137.6,72.1h0.7M116.7,86.8h0.7M114.8,90.2h0.7M134.0,78.5h0.7M106.5,80.8h0.7M128.8,91.9h0.7M116.9,75.4h0.7M120.3,93.2h0.7M113.2,96.2h0.7M122.7,87.0h0.7M114.1,96.8h0.7M120.9,70.8h0.7M128.7,80.6h0.7M131.4,85.9h0.7M114.1,86.0h0.7M115.5,76.9h0.7M120.7,92.0h0.7M121.2,83.6h0.7M114.8,89.6h0.7M123.2,93.1h0.7M104.5,83.9h0.7M125.8,92.6h0.7M104.9,73.3h0.7M120.0,94.0h0.7M131.6,70.6h0.7M121.8,95.1h0.7M120.7,75.0h0.7M113.2,72.2h0.7M132.5,82.0h0.7M116.1,76.4h0.7M119.0,76.1h0.7M110.5,84.0h0.7M118.1,88.6h0.7M121.9,95.2h0.7M120.0,86.8h0.7M122.7,77.0h0.7M132.4,79.2h0.7M104.4,95.7h0.7M127.0,79.2h0.7M130.1,93.2h0.7M127.5,73.7h0.7M122.2,74.9h0.7M114.2,79.3h0.7M111.9,88.9h0.7M112.4,90.0h0.7M122.1,78.9h0.7M122.1,90.6h0.7M132.0,82.0h0.7M138.0,89.6h0.7M133.0,72.1h0.7M109.7,95.4h0.7M118.1,88.6h0.7M132.5,71.2h0.7M125.0,102.0h0.7M128.5,85.2h0.7M126.1,84.4h0.7M128.2,96.2h0.7M118.1,89.6h0.7M123.5,91.1h0.7M128.9,74.6h0.7M132.2,92.2h0.7M109.4,81.8h0.7M105.7,81.7h0.7M123.7,73.9h0.7M112.6,76.4h0.7M113.4,77.3h0.7M109.6,89.5h0.7M118.2,76.9h0.7M130.4,79.2h0.7M129.4,73.1h0.7M134.6,80.3h0.7M110.9,88.1h0.7M106.9,74.6h0.7M122.8,80.0h0.7M124.4,85.6h0.7M122.9,85.5h0.7M127.6,84.4h0.7M131.5,92.9h0.7M136.1,80.3h0.7M122.3,83.3h0.7M113.3,84.9h0.7M120.4,74.6h0.7M111.6,81.9h0.7M120.2,87.8h0.7M137.0,82.7h0.7M128.7,80.5h0.7M108.0,76.1h0.7M127.2,84.5h0.7M103.9,85.6h0.7M127.7,70.5h0.7M114.8,91.5h0.7M139.6,63.3h0.7M113.4,84.6h0.7M111.2,76.1h0.7M115.3,89.0h0.7M109.7,92.2h0.7M128.7,92.0h0.7M135.8,79.6h0.7M119.9,93.4h0.7" stroke="#5a64b4" stroke-width="0.6" stroke-opacity="0.55" fill="none"/>
<path d="M127.69,93.08 C127.92,92.08 129.36,90.77 130.23,89.61 C131.09,88.46 132.06,87.54 132.88,86.15 C133.71,84.77 134.56,82.04 135.19,81.31 C135.83,80.58 136.02,81.00 136.69,81.77 C137.36,82.54 138.19,84.61 139.23,85.92 C140.27,87.23 141.92,88.42 142.92,89.61 C143.92,90.81 145.08,92.08 145.23,93.08 C145.38,94.08 145.04,95.04 143.84,95.61 C142.65,96.19 140.00,96.46 138.08,96.54 C136.15,96.61 133.84,96.23 132.31,96.08 C130.77,95.92 129.61,96.11 128.85,95.61 C128.08,95.11 127.46,94.08 127.69,93.08 Z" fill="none" stroke="#3f4aa6" stroke-width="0.5" stroke-opacity="0.85"/>
<path d="M129.77,91.69 C129.96,90.77 131.27,89.77 132.08,88.69 C132.88,87.61 133.96,86.04 134.61,85.23 C135.27,84.42 135.42,83.50 136.00,83.85 C136.58,84.19 137.15,86.25 138.08,87.31 C139.00,88.36 140.67,89.23 141.54,90.19 C142.40,91.15 143.46,92.36 143.27,93.08 C143.08,93.79 141.83,94.17 140.38,94.46 C138.94,94.75 136.19,94.84 134.61,94.81 C133.04,94.77 131.73,94.75 130.92,94.23 C130.11,93.71 129.58,92.61 129.77,91.69 Z" fill="none" stroke="#3f4aa6" stroke-width="0.5" stroke-opacity="0.85"/>
<path d="M132.31,91.69 C132.46,90.88 133.88,89.27 134.61,88.46 C135.34,87.65 135.96,86.65 136.69,86.84 C137.42,87.04 138.34,88.73 139.00,89.61 C139.65,90.50 140.96,91.58 140.61,92.15 C140.27,92.73 138.08,92.88 136.92,93.08 C135.77,93.27 134.46,93.54 133.69,93.31 C132.92,93.08 132.15,92.50 132.31,91.69 Z" fill="none" stroke="#3f4aa6" stroke-width="0.5" stroke-opacity="0.85"/>
<path d="M123.08,89.61 C123.27,88.65 125.00,87.98 125.96,87.88 C126.92,87.79 128.13,88.40 128.85,89.04 C129.56,89.67 130.33,90.83 130.23,91.69 C130.13,92.56 129.17,93.90 128.27,94.23 C127.36,94.56 125.67,94.42 124.81,93.65 C123.94,92.88 122.88,90.58 123.08,89.61 Z" fill="none" stroke="#3f4aa6" stroke-width="0.5" stroke-opacity="0.85"/>
<path d="M124.81,90.19 C125.10,89.73 126.48,89.25 127.11,89.38 C127.75,89.52 128.60,90.42 128.61,91.00 C128.63,91.58 127.77,92.65 127.23,92.84 C126.69,93.04 125.79,92.59 125.38,92.15 C124.98,91.71 124.52,90.65 124.81,90.19 Z" fill="none" stroke="#3f4aa6" stroke-width="0.5" stroke-opacity="0.85"/>
<clipPath id="cl1"><path d="M112.20,92.00 C111.95,89.73 112.00,86.67 112.10,84.00 C112.20,81.33 112.52,78.07 112.80,76.00 C113.08,73.93 113.40,72.47 113.80,71.60 C114.20,70.73 114.70,70.73 115.20,70.80 C115.70,70.87 116.20,70.97 116.80,72.00 C117.40,73.03 118.22,75.00 118.80,77.00 C119.38,79.00 120.00,81.50 120.30,84.00 C120.60,86.50 120.65,89.83 120.60,92.00 C120.55,94.17 120.63,95.97 120.00,97.00 C119.37,98.03 117.87,98.10 116.80,98.20 C115.73,98.30 114.37,98.63 113.60,97.60 C112.83,96.57 112.45,94.27 112.20,92.00 Z"/></clipPath>
<g clip-path="url(#cl1)" opacity="1.0"><path d="M112.20,92.00 C111.95,89.73 112.00,86.67 112.10,84.00 C112.20,81.33 112.52,78.07 112.80,76.00 C113.08,73.93 113.40,72.47 113.80,71.60 C114.20,70.73 114.70,70.73 115.20,70.80 C115.70,70.87 116.20,70.97 116.80,72.00 C117.40,73.03 118.22,75.00 118.80,77.00 C119.38,79.00 120.00,81.50 120.30,84.00 C120.60,86.50 120.65,89.83 120.60,92.00 C120.55,94.17 120.63,95.97 120.00,97.00 C119.37,98.03 117.87,98.10 116.80,98.20 C115.73,98.30 114.37,98.63 113.60,97.60 C112.83,96.57 112.45,94.27 112.20,92.00 Z" fill="#e6e9f7"/><path d="M112.20,92.00 C111.95,89.73 112.00,86.67 112.10,84.00 C112.20,81.33 112.52,78.07 112.80,76.00 C113.08,73.93 113.40,72.47 113.80,71.60 C114.20,70.73 114.70,70.73 115.20,70.80 C115.70,70.87 116.20,70.97 116.80,72.00 C117.40,73.03 118.22,75.00 118.80,77.00 C119.38,79.00 120.00,81.50 120.30,84.00 C120.60,86.50 120.65,89.83 120.60,92.00 C120.55,94.17 120.63,95.97 120.00,97.00 C119.37,98.03 117.87,98.10 116.80,98.20 C115.73,98.30 114.37,98.63 113.60,97.60 C112.83,96.57 112.45,94.27 112.20,92.00 Z" fill="none" stroke="#2c3896" stroke-width="4.45" stroke-linejoin="round"/><path d="M112.20,92.00 C111.95,89.73 112.00,86.67 112.10,84.00 C112.20,81.33 112.52,78.07 112.80,76.00 C113.08,73.93 113.40,72.47 113.80,71.60 C114.20,70.73 114.70,70.73 115.20,70.80 C115.70,70.87 116.20,70.97 116.80,72.00 C117.40,73.03 118.22,75.00 118.80,77.00 C119.38,79.00 120.00,81.50 120.30,84.00 C120.60,86.50 120.65,89.83 120.60,92.00 C120.55,94.17 120.63,95.97 120.00,97.00 C119.37,98.03 117.87,98.10 116.80,98.20 C115.73,98.30 114.37,98.63 113.60,97.60 C112.83,96.57 112.45,94.27 112.20,92.00 Z" fill="none" stroke="#e6e9f7" stroke-width="3.55" stroke-linejoin="round"/><path d="M112.20,92.00 C111.95,89.73 112.00,86.67 112.10,84.00 C112.20,81.33 112.52,78.07 112.80,76.00 C113.08,73.93 113.40,72.47 113.80,71.60 C114.20,70.73 114.70,70.73 115.20,70.80 C115.70,70.87 116.20,70.97 116.80,72.00 C117.40,73.03 118.22,75.00 118.80,77.00 C119.38,79.00 120.00,81.50 120.30,84.00 C120.60,86.50 120.65,89.83 120.60,92.00 C120.55,94.17 120.63,95.97 120.00,97.00 C119.37,98.03 117.87,98.10 116.80,98.20 C115.73,98.30 114.37,98.63 113.60,97.60 C112.83,96.57 112.45,94.27 112.20,92.00 Z" fill="none" stroke="#2c3896" stroke-width="2.45" stroke-linejoin="round"/><path d="M112.20,92.00 C111.95,89.73 112.00,86.67 112.10,84.00 C112.20,81.33 112.52,78.07 112.80,76.00 C113.08,73.93 113.40,72.47 113.80,71.60 C114.20,70.73 114.70,70.73 115.20,70.80 C115.70,70.87 116.20,70.97 116.80,72.00 C117.40,73.03 118.22,75.00 118.80,77.00 C119.38,79.00 120.00,81.50 120.30,84.00 C120.60,86.50 120.65,89.83 120.60,92.00 C120.55,94.17 120.63,95.97 120.00,97.00 C119.37,98.03 117.87,98.10 116.80,98.20 C115.73,98.30 114.37,98.63 113.60,97.60 C112.83,96.57 112.45,94.27 112.20,92.00 Z" fill="none" stroke="#e6e9f7" stroke-width="1.55" stroke-linejoin="round"/><path d="M112.20,92.00 C111.95,89.73 112.00,86.67 112.10,84.00 C112.20,81.33 112.52,78.07 112.80,76.00 C113.08,73.93 113.40,72.47 113.80,71.60 C114.20,70.73 114.70,70.73 115.20,70.80 C115.70,70.87 116.20,70.97 116.80,72.00 C117.40,73.03 118.22,75.00 118.80,77.00 C119.38,79.00 120.00,81.50 120.30,84.00 C120.60,86.50 120.65,89.83 120.60,92.00 C120.55,94.17 120.63,95.97 120.00,97.00 C119.37,98.03 117.87,98.10 116.80,98.20 C115.73,98.30 114.37,98.63 113.60,97.60 C112.83,96.57 112.45,94.27 112.20,92.00 Z" fill="none" stroke="#2c3896" stroke-width="0.45" stroke-linejoin="round"/></g>
<ellipse cx="115.60" cy="79.00" rx="1.60" ry="5.00" transform="rotate(0 115.60 79.00)" fill="none" stroke="#2c3896" stroke-width="0.4" stroke-opacity="1"/>
<path d="M115.2,80 L117.5,80 L118.5,89 L114.5,89 Z" fill="#8ec8ee"/>
<ellipse cx="116.50" cy="92.50" rx="3.60" ry="5.00" transform="rotate(0.0 116.50 92.50)" fill="#62b5e6"/>
<ellipse cx="116.53" cy="92.61" rx="3.16" ry="4.41" transform="rotate(0.0 116.53 92.61)" fill="#36c2b4"/>
<ellipse cx="116.56" cy="92.73" rx="2.71" ry="3.83" transform="rotate(0.0 116.56 92.73)" fill="#58bb46"/>
<ellipse cx="116.59" cy="92.84" rx="2.27" ry="3.24" transform="rotate(0.0 116.59 92.84)" fill="#b6d636"/>
<ellipse cx="116.61" cy="92.96" rx="1.83" ry="2.66" transform="rotate(0.0 116.61 92.96)" fill="#f2e22a"/>
<ellipse cx="116.64" cy="93.07" rx="1.39" ry="2.07" transform="rotate(0.0 116.64 93.07)" fill="#f39a2a"/>
<ellipse cx="116.67" cy="93.19" rx="0.94" ry="1.49" transform="rotate(0.0 116.67 93.19)" fill="#e5262a"/>
<ellipse cx="116.70" cy="93.30" rx="0.50" ry="0.90" transform="rotate(0.0 116.70 93.30)" fill="#ffffff"/>
<line x1="101.50" y1="34.00" x2="101.50" y2="102.50" stroke="#3b4790" stroke-width="1.0"/>
<line x1="101.50" y1="102.50" x2="165.00" y2="102.50" stroke="#3b4790" stroke-width="1.0"/>
<line x1="100.30" y1="87.61" x2="101.50" y2="87.61" stroke="#3b4790" stroke-width="0.6"/>
<line x1="100.30" y1="72.72" x2="101.50" y2="72.72" stroke="#3b4790" stroke-width="0.6"/>
<line x1="100.30" y1="57.83" x2="101.50" y2="57.83" stroke="#3b4790" stroke-width="0.6"/>
<line x1="100.30" y1="42.93" x2="101.50" y2="42.93" stroke="#3b4790" stroke-width="0.6"/>
<line x1="115.30" y1="102.50" x2="115.30" y2="103.70" stroke="#3b4790" stroke-width="0.6"/>
<line x1="129.11" y1="102.50" x2="129.11" y2="103.70" stroke="#3b4790" stroke-width="0.6"/>
<line x1="142.91" y1="102.50" x2="142.91" y2="103.70" stroke="#3b4790" stroke-width="0.6"/>
<line x1="156.72" y1="102.50" x2="156.72" y2="103.70" stroke="#3b4790" stroke-width="0.6"/>
<rect x="110.40" y="66.00" width="13.80" height="22.50" fill="none" stroke="#c8506a" stroke-width="0.8"/>
<text x="142.70" y="72.80" font-size="8.6" fill="#0a0a0a" stroke="#0a0a0a" stroke-width="0.22" text-anchor="middle" textLength="16.20" lengthAdjust="spacingAndGlyphs">(CB)</text>
<line x1="130.20" y1="77.50" x2="153.30" y2="77.50" stroke="#111" stroke-width="1.3"/>
<path d="M157.30,77.50 L152.80,75.10 L152.80,79.90 Z" fill="#111"/>
<path d="M185.2,78.6h0.7M182.5,55.5h0.7M186.6,72.7h0.7M187.1,72.0h0.7M185.3,64.3h0.7M182.9,67.1h0.7M184.4,75.1h0.7M188.2,59.8h0.7M188.5,68.5h0.7M190.2,79.3h0.7M188.0,56.2h0.7M188.4,57.7h0.7M191.9,64.1h0.7M179.1,69.0h0.7M181.8,65.1h0.7M182.9,73.6h0.7M184.8,71.2h0.7M188.4,56.7h0.7M191.3,67.0h0.7M179.5,64.1h0.7M189.3,75.9h0.7M183.3,69.5h0.7M186.9,76.1h0.7M185.4,75.8h0.7M182.5,63.7h0.7M188.5,74.0h0.7M185.8,73.1h0.7M186.7,74.3h0.7M190.4,72.5h0.7M189.1,66.0h0.7M187.5,69.0h0.7M188.0,55.5h0.7M184.1,64.8h0.7M179.0,75.3h0.7M190.7,59.7h0.7M181.2,75.9h0.7M180.7,61.2h0.7M186.8,77.4h0.7M181.1,63.4h0.7M181.6,76.7h0.7M183.8,72.9h0.7M188.5,77.1h0.7M187.6,71.2h0.7M190.5,72.2h0.7M181.0,65.0h0.7M189.5,69.8h0.7M184.6,70.6h0.7M187.8,72.1h0.7M184.9,77.4h0.7M189.3,71.7h0.7M180.7,77.9h0.7M188.9,68.2h0.7M181.2,67.2h0.7M184.0,62.9h0.7M189.9,69.6h0.7M190.8,61.9h0.7M185.2,78.6h0.7M187.2,63.6h0.7M182.5,64.6h0.7M185.6,73.8h0.7M186.5,74.2h0.7M189.2,69.7h0.7M191.0,74.1h0.7M185.2,67.6h0.7M185.9,63.5h0.7M180.7,69.1h0.7M183.9,73.0h0.7M183.6,69.5h0.7M186.7,65.4h0.7M186.7,63.6h0.7M184.3,74.6h0.7M187.4,68.8h0.7M182.9,73.8h0.7M190.0,70.3h0.7M190.2,77.2h0.7M183.6,67.0h0.7M188.4,68.2h0.7M187.0,65.1h0.7M181.9,68.9h0.7M181.7,78.4h0.7M186.9,78.9h0.7M180.9,71.3h0.7M180.2,58.8h0.7M187.0,65.9h0.7M188.6,74.6h0.7M187.3,60.0h0.7M185.0,70.9h0.7M186.4,68.6h0.7M185.2,64.7h0.7M183.9,54.3h0.7M192.4,68.0h0.7M180.8,72.5h0.7M188.5,58.4h0.7M183.9,79.5h0.7M188.0,71.8h0.7M189.8,67.8h0.7M185.2,68.2h0.7M188.4,69.0h0.7M187.9,62.2h0.7M191.9,67.5h0.7M182.6,68.5h0.7M183.1,66.9h0.7M182.4,73.6h0.7M187.3,76.5h0.7M192.4,70.8h0.7M186.3,70.9h0.7M182.7,64.8h0.7M188.8,62.6h0.7M178.4,66.2h0.7M186.9,79.3h0.7M183.1,62.0h0.7M186.3,67.6h0.7M186.9,65.0h0.7M186.7,64.6h0.7M189.7,70.7h0.7M188.1,65.6h0.7M180.3,68.8h0.7M185.7,76.6h0.7M189.6,68.5h0.7M185.7,61.6h0.7M185.7,70.2h0.7M184.3,61.0h0.7M190.9,62.1h0.7M192.3,77.1h0.7M191.9,62.6h0.7M188.3,58.8h0.7M184.5,57.8h0.7M183.0,65.1h0.7M189.6,76.4h0.7M184.4,66.6h0.7M182.2,60.5h0.7M179.0,67.1h0.7M188.2,63.2h0.7M187.3,60.4h0.7M182.0,64.8h0.7M189.3,64.9h0.7M188.8,66.1h0.7M181.6,54.3h0.7M184.0,61.8h0.7M189.3,71.7h0.7M179.5,74.6h0.7M181.8,70.3h0.7M179.7,63.4h0.7M187.8,70.3h0.7M187.6,72.9h0.7M184.8,72.5h0.7M187.1,67.5h0.7M187.0,70.4h0.7M188.9,70.8h0.7M186.0,72.0h0.7M191.4,69.1h0.7M188.1,69.5h0.7" stroke="#5a64b4" stroke-width="0.6" stroke-opacity="0.55" fill="none"/>
<path d="M200.2,91.6h0.7M187.0,89.1h0.7M186.5,62.5h0.7M183.0,97.2h0.7M193.2,85.8h0.7M195.7,73.4h0.7M186.8,101.6h0.7M184.1,75.0h0.7M195.4,95.0h0.7M194.5,87.6h0.7M193.9,84.1h0.7M198.1,78.3h0.7M198.7,79.2h0.7M186.1,74.6h0.7M189.9,84.9h0.7M196.5,69.8h0.7M191.8,92.4h0.7M191.6,101.0h0.7M183.4,80.0h0.7M189.8,75.3h0.7M187.5,82.8h0.7M187.7,74.1h0.7M183.6,79.1h0.7M184.3,77.0h0.7M180.8,81.4h0.7M203.7,58.8h0.7M193.1,82.7h0.7M184.2,65.0h0.7M203.5,82.2h0.7M197.8,75.7h0.7M180.5,92.7h0.7M195.3,76.5h0.7M185.9,87.3h0.7M180.2,70.2h0.7M187.6,91.9h0.7M196.5,82.3h0.7M201.2,78.3h0.7M183.2,87.1h0.7M193.5,81.5h0.7M190.3,88.2h0.7M193.5,73.3h0.7M188.1,96.3h0.7M195.2,75.0h0.7M188.7,68.5h0.7M203.7,72.8h0.7M181.4,88.8h0.7M200.2,76.2h0.7M189.3,69.7h0.7M199.9,71.6h0.7" stroke="#5a64b4" stroke-width="0.6" stroke-opacity="0.55" fill="none"/>
<clipPath id="cl2"><path d="M179.20,92.00 C179.13,90.08 179.33,87.92 179.60,86.00 C179.87,84.08 180.32,81.97 180.80,80.50 C181.28,79.03 181.72,77.85 182.50,77.20 C183.28,76.55 184.45,76.57 185.50,76.60 C186.55,76.63 187.88,76.83 188.80,77.40 C189.72,77.97 190.50,78.57 191.00,80.00 C191.50,81.43 191.63,83.83 191.80,86.00 C191.97,88.17 192.17,90.83 192.00,93.00 C191.83,95.17 191.63,97.60 190.80,99.00 C189.97,100.40 188.38,101.10 187.00,101.40 C185.62,101.70 183.67,101.45 182.50,100.80 C181.33,100.15 180.55,98.97 180.00,97.50 C179.45,96.03 179.27,93.92 179.20,92.00 Z"/></clipPath>
<g clip-path="url(#cl2)" opacity="1.0"><path d="M179.20,92.00 C179.13,90.08 179.33,87.92 179.60,86.00 C179.87,84.08 180.32,81.97 180.80,80.50 C181.28,79.03 181.72,77.85 182.50,77.20 C183.28,76.55 184.45,76.57 185.50,76.60 C186.55,76.63 187.88,76.83 188.80,77.40 C189.72,77.97 190.50,78.57 191.00,80.00 C191.50,81.43 191.63,83.83 191.80,86.00 C191.97,88.17 192.17,90.83 192.00,93.00 C191.83,95.17 191.63,97.60 190.80,99.00 C189.97,100.40 188.38,101.10 187.00,101.40 C185.62,101.70 183.67,101.45 182.50,100.80 C181.33,100.15 180.55,98.97 180.00,97.50 C179.45,96.03 179.27,93.92 179.20,92.00 Z" fill="#e8eaf8"/><path d="M179.20,92.00 C179.13,90.08 179.33,87.92 179.60,86.00 C179.87,84.08 180.32,81.97 180.80,80.50 C181.28,79.03 181.72,77.85 182.50,77.20 C183.28,76.55 184.45,76.57 185.50,76.60 C186.55,76.63 187.88,76.83 188.80,77.40 C189.72,77.97 190.50,78.57 191.00,80.00 C191.50,81.43 191.63,83.83 191.80,86.00 C191.97,88.17 192.17,90.83 192.00,93.00 C191.83,95.17 191.63,97.60 190.80,99.00 C189.97,100.40 188.38,101.10 187.00,101.40 C185.62,101.70 183.67,101.45 182.50,100.80 C181.33,100.15 180.55,98.97 180.00,97.50 C179.45,96.03 179.27,93.92 179.20,92.00 Z" fill="none" stroke="#4450a8" stroke-width="6.10" stroke-linejoin="round"/><path d="M179.20,92.00 C179.13,90.08 179.33,87.92 179.60,86.00 C179.87,84.08 180.32,81.97 180.80,80.50 C181.28,79.03 181.72,77.85 182.50,77.20 C183.28,76.55 184.45,76.57 185.50,76.60 C186.55,76.63 187.88,76.83 188.80,77.40 C189.72,77.97 190.50,78.57 191.00,80.00 C191.50,81.43 191.63,83.83 191.80,86.00 C191.97,88.17 192.17,90.83 192.00,93.00 C191.83,95.17 191.63,97.60 190.80,99.00 C189.97,100.40 188.38,101.10 187.00,101.40 C185.62,101.70 183.67,101.45 182.50,100.80 C181.33,100.15 180.55,98.97 180.00,97.50 C179.45,96.03 179.27,93.92 179.20,92.00 Z" fill="none" stroke="#e8eaf8" stroke-width="5.30" stroke-linejoin="round"/><path d="M179.20,92.00 C179.13,90.08 179.33,87.92 179.60,86.00 C179.87,84.08 180.32,81.97 180.80,80.50 C181.28,79.03 181.72,77.85 182.50,77.20 C183.28,76.55 184.45,76.57 185.50,76.60 C186.55,76.63 187.88,76.83 188.80,77.40 C189.72,77.97 190.50,78.57 191.00,80.00 C191.50,81.43 191.63,83.83 191.80,86.00 C191.97,88.17 192.17,90.83 192.00,93.00 C191.83,95.17 191.63,97.60 190.80,99.00 C189.97,100.40 188.38,101.10 187.00,101.40 C185.62,101.70 183.67,101.45 182.50,100.80 C181.33,100.15 180.55,98.97 180.00,97.50 C179.45,96.03 179.27,93.92 179.20,92.00 Z" fill="none" stroke="#4450a8" stroke-width="4.20" stroke-linejoin="round"/><path d="M179.20,92.00 C179.13,90.08 179.33,87.92 179.60,86.00 C179.87,84.08 180.32,81.97 180.80,80.50 C181.28,79.03 181.72,77.85 182.50,77.20 C183.28,76.55 184.45,76.57 185.50,76.60 C186.55,76.63 187.88,76.83 188.80,77.40 C189.72,77.97 190.50,78.57 191.00,80.00 C191.50,81.43 191.63,83.83 191.80,86.00 C191.97,88.17 192.17,90.83 192.00,93.00 C191.83,95.17 191.63,97.60 190.80,99.00 C189.97,100.40 188.38,101.10 187.00,101.40 C185.62,101.70 183.67,101.45 182.50,100.80 C181.33,100.15 180.55,98.97 180.00,97.50 C179.45,96.03 179.27,93.92 179.20,92.00 Z" fill="none" stroke="#e8eaf8" stroke-width="3.40" stroke-linejoin="round"/><path d="M179.20,92.00 C179.13,90.08 179.33,87.92 179.60,86.00 C179.87,84.08 180.32,81.97 180.80,80.50 C181.28,79.03 181.72,77.85 182.50,77.20 C183.28,76.55 184.45,76.57 185.50,76.60 C186.55,76.63 187.88,76.83 188.80,77.40 C189.72,77.97 190.50,78.57 191.00,80.00 C191.50,81.43 191.63,83.83 191.80,86.00 C191.97,88.17 192.17,90.83 192.00,93.00 C191.83,95.17 191.63,97.60 190.80,99.00 C189.97,100.40 188.38,101.10 187.00,101.40 C185.62,101.70 183.67,101.45 182.50,100.80 C181.33,100.15 180.55,98.97 180.00,97.50 C179.45,96.03 179.27,93.92 179.20,92.00 Z" fill="none" stroke="#4450a8" stroke-width="2.30" stroke-linejoin="round"/><path d="M179.20,92.00 C179.13,90.08 179.33,87.92 179.60,86.00 C179.87,84.08 180.32,81.97 180.80,80.50 C181.28,79.03 181.72,77.85 182.50,77.20 C183.28,76.55 184.45,76.57 185.50,76.60 C186.55,76.63 187.88,76.83 188.80,77.40 C189.72,77.97 190.50,78.57 191.00,80.00 C191.50,81.43 191.63,83.83 191.80,86.00 C191.97,88.17 192.17,90.83 192.00,93.00 C191.83,95.17 191.63,97.60 190.80,99.00 C189.97,100.40 188.38,101.10 187.00,101.40 C185.62,101.70 183.67,101.45 182.50,100.80 C181.33,100.15 180.55,98.97 180.00,97.50 C179.45,96.03 179.27,93.92 179.20,92.00 Z" fill="none" stroke="#e8eaf8" stroke-width="1.50" stroke-linejoin="round"/><path d="M179.20,92.00 C179.13,90.08 179.33,87.92 179.60,86.00 C179.87,84.08 180.32,81.97 180.80,80.50 C181.28,79.03 181.72,77.85 182.50,77.20 C183.28,76.55 184.45,76.57 185.50,76.60 C186.55,76.63 187.88,76.83 188.80,77.40 C189.72,77.97 190.50,78.57 191.00,80.00 C191.50,81.43 191.63,83.83 191.80,86.00 C191.97,88.17 192.17,90.83 192.00,93.00 C191.83,95.17 191.63,97.60 190.80,99.00 C189.97,100.40 188.38,101.10 187.00,101.40 C185.62,101.70 183.67,101.45 182.50,100.80 C181.33,100.15 180.55,98.97 180.00,97.50 C179.45,96.03 179.27,93.92 179.20,92.00 Z" fill="none" stroke="#4450a8" stroke-width="0.40" stroke-linejoin="round"/></g>
<ellipse cx="185.50" cy="89.00" rx="4.10" ry="9.00" transform="rotate(0.0 185.50 89.00)" fill="#62b5e6"/>
<ellipse cx="185.47" cy="89.30" rx="3.66" ry="8.01" transform="rotate(0.0 185.47 89.30)" fill="#36c2b4"/>
<ellipse cx="185.44" cy="89.60" rx="3.21" ry="7.03" transform="rotate(0.0 185.44 89.60)" fill="#58bb46"/>
<ellipse cx="185.41" cy="89.90" rx="2.77" ry="6.04" transform="rotate(0.0 185.41 89.90)" fill="#b6d636"/>
<ellipse cx="185.39" cy="90.20" rx="2.33" ry="5.06" transform="rotate(0.0 185.39 90.20)" fill="#f2e22a"/>
<ellipse cx="185.36" cy="90.50" rx="1.89" ry="4.07" transform="rotate(0.0 185.36 90.50)" fill="#f39a2a"/>
<ellipse cx="185.33" cy="90.80" rx="1.44" ry="3.09" transform="rotate(0.0 185.33 90.80)" fill="#e5262a"/>
<ellipse cx="185.30" cy="91.10" rx="1.00" ry="2.10" transform="rotate(0.0 185.30 91.10)" fill="#ffffff"/>
<line x1="176.50" y1="34.00" x2="176.50" y2="103.50" stroke="#3b4790" stroke-width="1.0"/>
<line x1="176.50" y1="103.50" x2="239.00" y2="103.50" stroke="#3b4790" stroke-width="1.0"/>
<line x1="175.30" y1="88.39" x2="176.50" y2="88.39" stroke="#3b4790" stroke-width="0.6"/>
<line x1="175.30" y1="73.28" x2="176.50" y2="73.28" stroke="#3b4790" stroke-width="0.6"/>
<line x1="175.30" y1="58.17" x2="176.50" y2="58.17" stroke="#3b4790" stroke-width="0.6"/>
<line x1="175.30" y1="43.07" x2="176.50" y2="43.07" stroke="#3b4790" stroke-width="0.6"/>
<line x1="190.09" y1="103.50" x2="190.09" y2="104.70" stroke="#3b4790" stroke-width="0.6"/>
<line x1="203.67" y1="103.50" x2="203.67" y2="104.70" stroke="#3b4790" stroke-width="0.6"/>
<line x1="217.26" y1="103.50" x2="217.26" y2="104.70" stroke="#3b4790" stroke-width="0.6"/>
<line x1="230.85" y1="103.50" x2="230.85" y2="104.70" stroke="#3b4790" stroke-width="0.6"/>
<rect x="176.90" y="49.10" width="23.70" height="31.40" fill="none" stroke="#9a9ed6" stroke-width="0.8"/>
<text x="68.10" y="457.30" font-size="10.4" fill="#0a0a0a" stroke="#0a0a0a" stroke-width="0.22" text-anchor="middle" textLength="13.80" lengthAdjust="spacingAndGlyphs">PB</text>
<text x="158.50" y="457.30" font-size="10.4" fill="#0a0a0a" stroke="#0a0a0a" stroke-width="0.22" text-anchor="middle" textLength="14.60" lengthAdjust="spacingAndGlyphs">CB</text>
<path d="M76.1,520.4h0.7M56.2,483.4h0.7M70.9,527.5h0.7M71.5,479.0h0.7M56.5,497.6h0.7M78.5,498.3h0.7M61.8,494.7h0.7M68.6,486.1h0.7M66.4,503.0h0.7M87.3,497.6h0.7M78.7,481.4h0.7M77.3,501.2h0.7M59.6,498.1h0.7M77.9,493.2h0.7M79.5,523.9h0.7M87.1,525.5h0.7M50.2,504.3h0.7M57.7,514.3h0.7M67.4,502.3h0.7M72.3,488.7h0.7M67.7,486.6h0.7M93.0,491.0h0.7M66.7,469.2h0.7M47.6,484.6h0.7M76.6,511.5h0.7M70.1,487.9h0.7M90.1,481.5h0.7M55.6,506.7h0.7M53.8,503.1h0.7M78.8,497.5h0.7M71.7,499.3h0.7M50.9,498.5h0.7M45.5,489.2h0.7M69.1,520.9h0.7M49.0,489.8h0.7M69.3,507.4h0.7M48.8,529.7h0.7M56.0,516.8h0.7M63.9,505.4h0.7M87.8,510.5h0.7M68.1,481.8h0.7M58.1,474.7h0.7M92.4,472.5h0.7M33.4,526.2h0.7M82.9,492.5h0.7M77.2,484.8h0.7M59.0,507.0h0.7M71.5,490.9h0.7M87.3,511.0h0.7M68.2,478.7h0.7M68.2,493.2h0.7M65.5,512.0h0.7M59.0,503.0h0.7M76.7,504.5h0.7M96.0,469.2h0.7M65.6,478.6h0.7M65.5,540.9h0.7M45.3,493.6h0.7M74.8,500.1h0.7M78.2,472.3h0.7M79.0,482.4h0.7M50.7,508.0h0.7M72.5,486.2h0.7M55.8,495.1h0.7M66.2,495.6h0.7M83.3,501.4h0.7M50.3,471.9h0.7M57.4,491.4h0.7M38.8,522.0h0.7M71.8,492.9h0.7M70.8,502.2h0.7M80.0,500.9h0.7M82.6,524.4h0.7M62.2,490.7h0.7M54.8,494.4h0.7M56.9,498.5h0.7M70.2,507.4h0.7M51.3,516.6h0.7M62.2,496.4h0.7M59.6,464.4h0.7M69.5,468.3h0.7M80.5,498.9h0.7M86.4,509.2h0.7M75.3,521.9h0.7M65.6,524.3h0.7M64.5,502.6h0.7M57.4,507.4h0.7M74.8,489.7h0.7M49.6,497.6h0.7M71.6,495.5h0.7M53.5,486.0h0.7M58.6,522.5h0.7M49.5,494.5h0.7M88.0,510.2h0.7M78.1,495.7h0.7M70.0,502.2h0.7M87.4,511.9h0.7M66.9,479.5h0.7M64.1,495.7h0.7M57.4,483.5h0.7M53.2,496.2h0.7M58.4,505.0h0.7M79.2,503.5h0.7M66.4,524.5h0.7M74.6,473.1h0.7M56.8,501.4h0.7M54.7,510.9h0.7M43.4,465.8h0.7M78.8,507.9h0.7M45.4,499.4h0.7M83.5,479.2h0.7M50.7,477.5h0.7M53.3,468.7h0.7M59.8,473.5h0.7M66.9,535.9h0.7M52.5,513.4h0.7M67.5,497.9h0.7M61.7,511.6h0.7M60.3,504.0h0.7M61.0,495.7h0.7M55.9,536.6h0.7M65.3,479.1h0.7M91.3,524.7h0.7M63.5,486.9h0.7M56.5,518.9h0.7M61.8,486.0h0.7M76.9,493.5h0.7M65.3,530.8h0.7M77.2,519.1h0.7M71.4,519.8h0.7M63.8,514.3h0.7M79.6,491.1h0.7M49.4,507.1h0.7M64.5,508.3h0.7M58.2,507.0h0.7M78.5,538.1h0.7M89.2,504.6h0.7M84.6,487.4h0.7M81.2,500.4h0.7M83.2,503.7h0.7M63.0,486.0h0.7M82.3,499.0h0.7M75.3,506.2h0.7M39.6,508.3h0.7M61.2,504.7h0.7M72.3,467.5h0.7M61.9,497.0h0.7M71.0,514.0h0.7M57.2,494.1h0.7M74.1,467.0h0.7M90.0,482.0h0.7M83.1,500.5h0.7M90.4,515.7h0.7M65.6,469.3h0.7M67.7,503.5h0.7M73.1,476.7h0.7M55.3,484.8h0.7M69.7,483.3h0.7M64.5,513.7h0.7M60.6,520.8h0.7M69.8,493.8h0.7M80.2,506.4h0.7M62.3,488.1h0.7M65.4,503.9h0.7M80.8,502.6h0.7M58.0,475.6h0.7M69.3,504.7h0.7M80.7,489.1h0.7M49.3,512.2h0.7M63.8,477.5h0.7M87.5,513.1h0.7M66.8,502.8h0.7M56.4,514.8h0.7M60.4,490.4h0.7M62.2,478.8h0.7M79.3,526.2h0.7M75.9,463.3h0.7M62.1,487.2h0.7M38.2,490.3h0.7M78.7,494.9h0.7M94.5,483.7h0.7M66.5,495.5h0.7M55.3,516.8h0.7M48.9,480.2h0.7M61.3,490.0h0.7M80.6,489.1h0.7M72.5,490.2h0.7M82.5,497.7h0.7M69.4,470.5h0.7M75.1,487.2h0.7M77.5,506.6h0.7M73.1,517.1h0.7M70.9,483.2h0.7M68.1,500.9h0.7M50.8,508.4h0.7M85.0,502.1h0.7M67.5,505.8h0.7M80.2,488.9h0.7M78.3,485.5h0.7M72.9,506.8h0.7M49.5,509.1h0.7M68.8,469.9h0.7M60.2,487.5h0.7M54.5,505.0h0.7M55.8,498.9h0.7M52.0,493.6h0.7M89.6,505.0h0.7M45.9,482.2h0.7M64.2,470.6h0.7M78.6,497.3h0.7M65.1,498.9h0.7M57.2,478.7h0.7M69.1,509.5h0.7M63.6,467.1h0.7M61.7,498.6h0.7M49.3,521.1h0.7M51.5,498.0h0.7M51.9,513.3h0.7M49.7,482.8h0.7M80.4,476.8h0.7M59.0,507.1h0.7M70.6,468.4h0.7M73.8,493.1h0.7M81.8,468.8h0.7M75.9,504.8h0.7M61.1,490.9h0.7M71.0,486.4h0.7M61.5,485.0h0.7M67.8,509.3h0.7M45.5,498.4h0.7M70.0,523.4h0.7M56.4,519.2h0.7M60.2,506.2h0.7M68.8,502.5h0.7M61.6,481.4h0.7M85.2,522.5h0.7M64.5,495.1h0.7M63.2,475.4h0.7M51.6,504.9h0.7M78.2,494.1h0.7M53.9,479.8h0.7M58.0,509.7h0.7M66.6,473.9h0.7M51.0,503.5h0.7M69.8,527.6h0.7M84.5,501.0h0.7M57.2,501.4h0.7M51.3,486.3h0.7M78.9,508.2h0.7M77.8,524.2h0.7M60.6,511.4h0.7M66.9,503.2h0.7M68.9,507.0h0.7M48.1,474.8h0.7M67.1,506.1h0.7M59.7,496.2h0.7M47.8,514.1h0.7M71.8,523.2h0.7M60.7,496.3h0.7M66.8,521.0h0.7M73.2,504.5h0.7M44.7,483.4h0.7M47.0,494.8h0.7M77.0,498.8h0.7M54.1,532.2h0.7M51.8,521.3h0.7M80.9,502.3h0.7M83.3,479.6h0.7M58.8,492.8h0.7M70.7,494.9h0.7M87.9,491.5h0.7M63.0,477.5h0.7M72.1,511.3h0.7M56.2,476.7h0.7M48.1,517.6h0.7M76.1,502.6h0.7M75.7,506.1h0.7M71.8,470.6h0.7M72.6,509.8h0.7M80.6,514.2h0.7M57.2,502.4h0.7M47.7,522.2h0.7M48.2,509.8h0.7M55.8,484.2h0.7M54.4,492.4h0.7M70.8,516.8h0.7M62.1,512.3h0.7M77.2,532.7h0.7M58.2,503.1h0.7M74.8,500.3h0.7M74.0,486.7h0.7M61.3,487.3h0.7M57.7,482.9h0.7M64.6,477.2h0.7M58.5,507.7h0.7M45.6,480.1h0.7M60.7,479.9h0.7M53.0,529.6h0.7M70.1,490.1h0.7M56.4,471.6h0.7M73.1,489.2h0.7M77.6,497.7h0.7M40.1,529.9h0.7M72.5,512.8h0.7M58.7,488.3h0.7M63.5,528.1h0.7M49.7,479.8h0.7M72.5,464.6h0.7M85.0,478.4h0.7M81.2,495.3h0.7M61.3,478.5h0.7M84.6,493.2h0.7M48.6,508.6h0.7M64.1,506.6h0.7M60.7,504.0h0.7M71.7,498.2h0.7M44.8,506.2h0.7M83.6,505.3h0.7M77.9,511.1h0.7M62.0,515.7h0.7M62.8,480.9h0.7M49.7,515.3h0.7" stroke="#5a64b4" stroke-width="0.6" stroke-opacity="0.55" fill="none"/>
<path d="M59.7,483.8h0.7M75.4,502.0h0.7M86.1,517.7h0.7M64.2,519.2h0.7M71.5,495.1h0.7M78.8,494.4h0.7M89.1,521.5h0.7M65.4,502.0h0.7M78.1,480.1h0.7M68.1,480.2h0.7M70.6,504.9h0.7M83.2,501.1h0.7M68.7,528.4h0.7M61.4,526.0h0.7M65.5,485.1h0.7M77.1,514.9h0.7M63.7,531.8h0.7M84.7,492.7h0.7M63.0,503.0h0.7M66.9,492.1h0.7M75.2,504.8h0.7M70.7,504.4h0.7M70.7,489.6h0.7M59.7,497.1h0.7M65.2,522.0h0.7M72.7,490.5h0.7M57.8,527.7h0.7M73.1,519.4h0.7M57.0,502.9h0.7M77.2,530.3h0.7M64.6,505.5h0.7M67.2,510.0h0.7M66.3,512.0h0.7M68.7,526.7h0.7M65.9,491.7h0.7M57.3,509.6h0.7M50.3,486.0h0.7M72.6,533.6h0.7M68.6,503.6h0.7M85.7,515.7h0.7M65.1,527.5h0.7M79.5,517.5h0.7M59.6,515.1h0.7M90.3,505.8h0.7M78.2,481.8h0.7M63.8,496.6h0.7M75.8,535.3h0.7M64.3,519.7h0.7M75.7,494.3h0.7M75.4,504.5h0.7M74.0,493.6h0.7M76.2,519.4h0.7M71.1,497.9h0.7M52.7,486.2h0.7M80.4,508.7h0.7M64.7,522.6h0.7M74.2,489.1h0.7M66.8,515.8h0.7M71.3,496.1h0.7M61.3,470.8h0.7M78.7,521.5h0.7M65.8,500.7h0.7M61.2,510.9h0.7M76.1,517.3h0.7M88.2,524.8h0.7M75.3,523.4h0.7M68.5,501.7h0.7M89.9,491.2h0.7M58.4,495.0h0.7M77.0,486.4h0.7M72.7,525.8h0.7M52.7,496.7h0.7M59.6,523.0h0.7M73.0,530.3h0.7M73.9,518.4h0.7M53.0,501.4h0.7M90.5,481.3h0.7M65.4,506.2h0.7M58.1,492.4h0.7M68.7,499.7h0.7M70.5,496.4h0.7M58.5,499.9h0.7M66.1,497.3h0.7M58.4,477.3h0.7M83.3,494.4h0.7M62.3,515.4h0.7M72.6,504.7h0.7M59.7,528.1h0.7M85.7,494.2h0.7M75.8,533.1h0.7M71.2,525.5h0.7M70.6,520.5h0.7M66.0,518.3h0.7M74.2,519.9h0.7M68.2,518.2h0.7M71.4,497.9h0.7M66.2,506.2h0.7M87.2,516.5h0.7M82.3,523.9h0.7M63.8,533.7h0.7M59.3,497.7h0.7M63.3,496.0h0.7M50.3,497.9h0.7M58.7,482.5h0.7M74.0,503.1h0.7M60.2,501.2h0.7M65.9,498.7h0.7M69.8,477.0h0.7M81.2,508.2h0.7M52.8,506.1h0.7M65.2,508.2h0.7M77.0,506.9h0.7M74.2,511.0h0.7M53.1,482.2h0.7M74.7,524.5h0.7M54.7,507.1h0.7M78.3,500.8h0.7M59.0,494.8h0.7M75.5,520.5h0.7M85.1,499.6h0.7M71.8,519.6h0.7M72.6,521.4h0.7M63.8,507.2h0.7M57.9,520.2h0.7M78.8,502.5h0.7M63.2,520.3h0.7M71.0,510.5h0.7M78.7,524.9h0.7M72.3,476.3h0.7M74.1,515.8h0.7M82.5,490.4h0.7M56.3,523.0h0.7M68.5,512.5h0.7M85.6,486.4h0.7M58.6,505.6h0.7M80.0,494.0h0.7M70.4,504.5h0.7M64.4,494.5h0.7M83.8,508.4h0.7M73.6,487.1h0.7M77.4,518.9h0.7M64.8,485.1h0.7M60.9,499.1h0.7M65.5,516.3h0.7M68.8,502.4h0.7M56.9,490.6h0.7M59.1,510.7h0.7M71.1,485.2h0.7M84.0,514.6h0.7M70.9,501.1h0.7M63.0,500.8h0.7M71.4,497.1h0.7M74.9,531.8h0.7M79.6,502.3h0.7M64.9,505.4h0.7M74.1,499.8h0.7M68.9,477.9h0.7M81.6,494.5h0.7M59.0,514.7h0.7M55.3,514.0h0.7M73.5,504.4h0.7M66.6,525.5h0.7M58.0,486.6h0.7M85.6,489.3h0.7M62.2,518.0h0.7M70.0,514.4h0.7M63.3,529.9h0.7M61.9,491.3h0.7M53.9,505.3h0.7M70.7,501.4h0.7M66.4,504.7h0.7M70.3,485.3h0.7M82.4,492.4h0.7M71.4,485.8h0.7M70.0,492.1h0.7M75.5,524.8h0.7M56.5,505.5h0.7M73.5,485.1h0.7M62.1,482.0h0.7M53.1,518.9h0.7M63.0,484.1h0.7M79.7,487.7h0.7M61.7,508.5h0.7M84.3,471.8h0.7M57.2,516.2h0.7M55.0,491.0h0.7M53.8,499.4h0.7M71.3,492.3h0.7M64.9,476.2h0.7M75.6,498.9h0.7M51.1,523.1h0.7M73.2,495.8h0.7M70.2,514.8h0.7M72.2,504.6h0.7M75.1,478.8h0.7M65.5,505.3h0.7M76.7,517.1h0.7M69.8,492.3h0.7M62.1,521.8h0.7M55.3,513.4h0.7M69.8,504.6h0.7M66.2,488.6h0.7M80.1,522.3h0.7M65.7,477.1h0.7M67.4,503.8h0.7M65.1,532.8h0.7M73.9,528.9h0.7M63.5,524.5h0.7M68.1,489.8h0.7M88.1,534.6h0.7M51.7,513.7h0.7M78.8,524.1h0.7M72.7,483.9h0.7M82.5,505.5h0.7M71.2,471.1h0.7M58.8,487.6h0.7M69.9,495.5h0.7M66.6,511.5h0.7M68.9,511.8h0.7M74.7,528.1h0.7M71.7,515.6h0.7M60.6,498.9h0.7M71.5,511.8h0.7M78.8,492.0h0.7M71.8,516.3h0.7M70.4,490.2h0.7M64.2,534.4h0.7M60.5,518.0h0.7M62.3,518.0h0.7M81.1,493.0h0.7M78.9,500.6h0.7M84.7,503.4h0.7M74.1,488.8h0.7M70.2,538.5h0.7M77.8,521.3h0.7M66.8,477.1h0.7M77.6,511.5h0.7M58.7,471.5h0.7M74.8,486.6h0.7M75.7,503.0h0.7M61.6,504.7h0.7M78.3,491.8h0.7M52.9,487.7h0.7M80.4,499.4h0.7M78.3,523.4h0.7M71.3,495.7h0.7M72.4,511.3h0.7M53.1,516.6h0.7M74.1,499.9h0.7M56.8,506.4h0.7M70.0,503.1h0.7M77.4,507.6h0.7M74.4,519.1h0.7M77.0,538.3h0.7M67.4,512.8h0.7M60.4,537.8h0.7M81.9,502.6h0.7M65.5,482.1h0.7M59.3,470.9h0.7M56.6,474.2h0.7M58.7,521.5h0.7M56.9,510.3h0.7M78.1,530.9h0.7M52.3,495.7h0.7M66.8,488.2h0.7M64.1,500.0h0.7M61.4,497.6h0.7M69.8,517.0h0.7M64.4,497.8h0.7M64.8,495.3h0.7M85.6,517.8h0.7M80.2,508.9h0.7M77.1,518.0h0.7M79.0,492.0h0.7M77.4,486.8h0.7M69.3,514.7h0.7M77.2,479.3h0.7M90.4,516.0h0.7M60.2,473.5h0.7M54.2,521.5h0.7M56.6,516.2h0.7M56.5,497.5h0.7M64.0,502.6h0.7M61.8,505.1h0.7M77.5,512.2h0.7M71.8,522.3h0.7M70.7,499.0h0.7M83.5,477.5h0.7M67.9,484.4h0.7M64.4,508.8h0.7M66.6,483.3h0.7M60.4,494.4h0.7M71.0,475.5h0.7M59.5,491.3h0.7M58.6,521.3h0.7M75.7,501.9h0.7M61.6,534.7h0.7M69.2,524.8h0.7M78.2,503.9h0.7M77.2,531.0h0.7M56.1,491.7h0.7M77.3,494.7h0.7M51.8,515.9h0.7M79.3,511.4h0.7M63.2,530.9h0.7M65.3,508.5h0.7M71.5,509.3h0.7M81.1,528.4h0.7M80.0,505.9h0.7M69.6,485.9h0.7M87.2,511.4h0.7M77.9,520.8h0.7M55.6,511.5h0.7M69.1,532.7h0.7M86.4,507.3h0.7M81.7,478.6h0.7M72.8,499.4h0.7M71.6,479.2h0.7M62.6,499.4h0.7M69.7,484.7h0.7M61.5,505.2h0.7M64.9,505.9h0.7M76.8,490.2h0.7M53.6,499.7h0.7M76.3,505.2h0.7M69.4,489.0h0.7M68.6,481.7h0.7M72.4,503.9h0.7M78.8,533.1h0.7M81.6,526.9h0.7M62.0,537.8h0.7M66.6,497.4h0.7M73.3,508.2h0.7M77.9,504.9h0.7M71.9,516.0h0.7M63.2,533.3h0.7M81.2,492.2h0.7M71.0,473.5h0.7M77.0,515.1h0.7M83.6,498.7h0.7M52.3,494.0h0.7M59.9,471.9h0.7M85.9,520.7h0.7M55.3,503.5h0.7M78.5,525.4h0.7M75.8,479.3h0.7M61.7,505.5h0.7M85.1,517.3h0.7M69.7,500.4h0.7" stroke="#3a46a8" stroke-width="0.6" stroke-opacity="0.7" fill="none"/>
<path d="M46.2,517.9h0.7M43.5,505.9h0.7M47.3,526.0h0.7M43.2,517.8h0.7M40.5,532.6h0.7M46.3,520.0h0.7M47.2,514.2h0.7M49.5,538.7h0.7M40.4,510.9h0.7M43.8,500.5h0.7M45.5,537.5h0.7M45.3,514.0h0.7M45.6,488.1h0.7M44.8,532.6h0.7M47.0,504.6h0.7M47.2,524.4h0.7M46.4,526.2h0.7M50.0,517.9h0.7M46.0,496.6h0.7M43.3,521.1h0.7M50.9,502.0h0.7M44.0,503.0h0.7M47.4,537.6h0.7M46.7,536.1h0.7M44.3,514.0h0.7M43.0,534.9h0.7M45.2,494.9h0.7M39.0,512.2h0.7M44.5,491.6h0.7M41.9,506.9h0.7M41.0,523.3h0.7M44.4,523.9h0.7M45.5,511.3h0.7M41.8,523.9h0.7M39.8,523.8h0.7M43.4,494.1h0.7M43.1,524.0h0.7M45.4,523.0h0.7M46.3,517.4h0.7M43.8,499.4h0.7M40.6,510.3h0.7M49.6,524.6h0.7M46.9,540.9h0.7M47.5,499.9h0.7M43.5,530.3h0.7M51.7,484.3h0.7M44.4,495.2h0.7M41.2,527.4h0.7M42.5,538.3h0.7M42.9,530.6h0.7M41.4,509.4h0.7M48.4,482.0h0.7M45.8,488.0h0.7M42.6,522.3h0.7M39.3,520.0h0.7M44.9,504.6h0.7M45.0,518.1h0.7M44.6,509.4h0.7M45.0,488.5h0.7M44.3,512.6h0.7M46.1,512.7h0.7M47.2,499.8h0.7M50.1,523.0h0.7M42.3,513.6h0.7M43.4,519.2h0.7M50.2,518.5h0.7M47.1,501.4h0.7M39.6,496.3h0.7M47.2,522.9h0.7M46.9,516.4h0.7M46.2,523.0h0.7M40.9,519.3h0.7M40.1,512.6h0.7M47.0,508.0h0.7M42.5,529.4h0.7M45.2,516.6h0.7M46.7,494.2h0.7M42.0,529.6h0.7M44.5,528.2h0.7M46.9,526.5h0.7M43.4,531.5h0.7M48.7,490.9h0.7M42.9,492.9h0.7M46.2,504.2h0.7M46.7,509.0h0.7M47.6,498.4h0.7M47.6,515.3h0.7M46.8,522.4h0.7M45.0,537.0h0.7M46.2,500.8h0.7M43.7,516.6h0.7M46.6,517.0h0.7M50.3,524.6h0.7M43.8,536.8h0.7M45.2,499.4h0.7M40.9,518.6h0.7M41.0,518.8h0.7M50.3,527.6h0.7M46.2,490.1h0.7M45.3,519.9h0.7M43.2,516.2h0.7M39.8,485.9h0.7M44.5,534.4h0.7M42.6,493.4h0.7M42.8,511.0h0.7M48.2,504.9h0.7M50.0,504.5h0.7M47.1,502.5h0.7M42.5,493.9h0.7M50.3,526.1h0.7" stroke="#3a46a8" stroke-width="0.6" stroke-opacity="0.7" fill="none"/>
<path d="M89.5,510.0h0.7M72.9,517.6h0.7M62.1,514.8h0.7M65.3,519.1h0.7M73.5,529.1h0.7M71.8,529.8h0.7M73.8,520.6h0.7M67.7,510.9h0.7M55.4,518.8h0.7M68.0,522.4h0.7M72.5,508.3h0.7M63.1,509.5h0.7M78.4,518.4h0.7M70.5,511.4h0.7M58.1,514.2h0.7M68.5,523.5h0.7M55.9,522.3h0.7M61.7,514.7h0.7M66.4,515.6h0.7M73.5,527.2h0.7M72.4,514.6h0.7M73.1,522.7h0.7M77.0,521.8h0.7M55.0,512.6h0.7M65.8,527.6h0.7M68.2,527.5h0.7M72.0,508.8h0.7M69.8,524.3h0.7M73.0,506.2h0.7M73.1,514.2h0.7M78.8,523.2h0.7M86.2,522.4h0.7M69.9,511.7h0.7M78.6,518.6h0.7M71.2,523.4h0.7M64.2,521.3h0.7M70.9,524.1h0.7M64.6,519.0h0.7M69.8,529.4h0.7M77.9,514.3h0.7M59.5,535.9h0.7M66.5,511.4h0.7M65.8,514.9h0.7M67.4,528.9h0.7M71.6,508.6h0.7M79.9,528.0h0.7M64.3,530.0h0.7M73.5,514.2h0.7M73.5,518.9h0.7M59.6,515.7h0.7M71.1,531.5h0.7M60.3,521.8h0.7M69.8,519.2h0.7M58.7,531.0h0.7M81.4,534.1h0.7M73.9,533.0h0.7M74.6,528.7h0.7M66.7,521.7h0.7M66.8,510.2h0.7M65.8,509.6h0.7M59.7,516.2h0.7M64.3,538.4h0.7M85.8,529.5h0.7M76.9,512.0h0.7M72.3,506.7h0.7M64.1,515.4h0.7M66.5,527.6h0.7M65.2,527.5h0.7M55.5,528.0h0.7M58.7,521.6h0.7M69.7,527.3h0.7M75.3,523.3h0.7M68.5,537.5h0.7M65.6,519.9h0.7M65.6,521.1h0.7M61.1,516.1h0.7M74.4,514.6h0.7M74.0,514.5h0.7M82.7,518.6h0.7M85.7,524.3h0.7M68.6,528.4h0.7M80.4,533.7h0.7M82.4,527.9h0.7M59.2,528.3h0.7M69.0,523.5h0.7M81.3,513.3h0.7M74.9,517.0h0.7M82.3,521.5h0.7M79.4,531.2h0.7M56.1,522.7h0.7M56.0,513.4h0.7M75.3,509.0h0.7M63.3,515.7h0.7M72.6,523.0h0.7M73.8,515.2h0.7M63.0,523.5h0.7M61.9,512.4h0.7M76.1,512.5h0.7M61.6,530.0h0.7M62.9,537.4h0.7M76.1,526.4h0.7M78.7,522.2h0.7M67.5,505.0h0.7M64.0,518.6h0.7" stroke="#5a64b4" stroke-width="0.6" stroke-opacity="0.55" fill="none"/>
<path d="M72.00,484.20 C73.67,484.40 75.25,484.87 76.50,486.00 C77.75,487.13 78.70,489.00 79.50,491.00 C80.30,493.00 80.90,495.50 81.30,498.00 C81.70,500.50 81.90,503.17 81.90,506.00 C81.90,508.83 81.62,512.17 81.30,515.00 C80.98,517.83 80.80,520.58 80.00,523.00 C79.20,525.42 78.00,527.92 76.50,529.50 C75.00,531.08 72.92,532.08 71.00,532.50 C69.08,532.92 66.75,532.75 65.00,532.00 C63.25,531.25 61.70,529.83 60.50,528.00 C59.30,526.17 58.47,523.67 57.80,521.00 C57.13,518.33 56.70,515.00 56.50,512.00 C56.30,509.00 56.35,505.83 56.60,503.00 C56.85,500.17 57.18,497.42 58.00,495.00 C58.82,492.58 60.08,490.20 61.50,488.50 C62.92,486.80 64.75,485.52 66.50,484.80 C68.25,484.08 70.33,484.00 72.00,484.20 Z" fill="#d5daf2" stroke="none"/><path d="M72.00,484.20 C73.67,484.40 75.25,484.87 76.50,486.00 C77.75,487.13 78.70,489.00 79.50,491.00 C80.30,493.00 80.90,495.50 81.30,498.00 C81.70,500.50 81.90,503.17 81.90,506.00 C81.90,508.83 81.62,512.17 81.30,515.00 C80.98,517.83 80.80,520.58 80.00,523.00 C79.20,525.42 78.00,527.92 76.50,529.50 C75.00,531.08 72.92,532.08 71.00,532.50 C69.08,532.92 66.75,532.75 65.00,532.00 C63.25,531.25 61.70,529.83 60.50,528.00 C59.30,526.17 58.47,523.67 57.80,521.00 C57.13,518.33 56.70,515.00 56.50,512.00 C56.30,509.00 56.35,505.83 56.60,503.00 C56.85,500.17 57.18,497.42 58.00,495.00 C58.82,492.58 60.08,490.20 61.50,488.50 C62.92,486.80 64.75,485.52 66.50,484.80 C68.25,484.08 70.33,484.00 72.00,484.20 Z" fill="none" stroke="#1c278a" stroke-width="0.7" stroke-opacity="1.0"/><path d="M71.83,485.83 C73.39,486.02 74.87,486.46 76.03,487.53 C77.20,488.61 78.08,490.38 78.83,492.27 C79.58,494.17 80.14,496.54 80.51,498.91 C80.88,501.28 81.07,503.81 81.07,506.50 C81.07,509.18 80.81,512.35 80.51,515.03 C80.21,517.72 80.04,520.33 79.30,522.62 C78.55,524.91 77.43,527.28 76.03,528.78 C74.63,530.28 72.69,531.23 70.90,531.63 C69.11,532.02 66.93,531.86 65.30,531.15 C63.67,530.44 62.22,529.10 61.10,527.36 C59.98,525.62 59.21,523.25 58.58,520.72 C57.96,518.19 57.56,515.03 57.37,512.19 C57.18,509.34 57.23,506.34 57.46,503.65 C57.70,500.97 58.01,498.36 58.77,496.07 C59.53,493.78 60.71,491.52 62.04,489.90 C63.36,488.29 65.07,487.08 66.70,486.40 C68.33,485.72 70.28,485.64 71.83,485.83 Z" fill="none" stroke="#1c278a" stroke-width="0.7" stroke-opacity="1.0"/><path d="M71.67,487.45 C73.11,487.63 74.48,488.05 75.56,489.07 C76.65,490.08 77.47,491.76 78.16,493.55 C78.85,495.34 79.37,497.58 79.72,499.82 C80.07,502.07 80.24,504.46 80.24,507.00 C80.24,509.54 79.99,512.52 79.72,515.06 C79.45,517.60 79.29,520.07 78.59,522.24 C77.90,524.40 76.86,526.64 75.56,528.06 C74.26,529.48 72.46,530.38 70.80,530.75 C69.14,531.13 67.12,530.98 65.60,530.30 C64.09,529.63 62.74,528.36 61.70,526.72 C60.67,525.08 59.94,522.83 59.37,520.44 C58.79,518.05 58.41,515.06 58.24,512.38 C58.07,509.69 58.11,506.85 58.33,504.31 C58.54,501.77 58.83,499.30 59.54,497.14 C60.25,494.97 61.34,492.83 62.57,491.31 C63.80,489.78 65.39,488.63 66.90,487.99 C68.42,487.35 70.22,487.27 71.67,487.45 Z" fill="none" stroke="#1c278a" stroke-width="0.7" stroke-opacity="1.0"/><path d="M71.50,489.08 C72.83,489.25 74.10,489.64 75.09,490.60 C76.09,491.56 76.85,493.13 77.49,494.82 C78.13,496.51 78.61,498.63 78.93,500.74 C79.25,502.85 79.41,505.10 79.41,507.49 C79.41,509.89 79.18,512.70 78.93,515.10 C78.68,517.49 78.53,519.81 77.89,521.85 C77.25,523.90 76.29,526.01 75.09,527.35 C73.90,528.68 72.23,529.53 70.70,529.88 C69.17,530.23 67.30,530.09 65.90,529.46 C64.50,528.82 63.27,527.63 62.31,526.08 C61.35,524.53 60.68,522.42 60.15,520.17 C59.62,517.91 59.27,515.10 59.11,512.56 C58.95,510.03 58.99,507.35 59.19,504.96 C59.39,502.57 59.66,500.24 60.31,498.20 C60.96,496.16 61.97,494.15 63.11,492.71 C64.24,491.28 65.70,490.19 67.10,489.59 C68.50,488.98 70.17,488.91 71.50,489.08 Z" fill="none" stroke="#1c278a" stroke-width="0.7" stroke-opacity="1.0"/><path d="M71.33,490.71 C72.55,490.87 73.71,491.24 74.63,492.13 C75.54,493.03 76.24,494.51 76.82,496.10 C77.41,497.68 77.85,499.67 78.14,501.65 C78.43,503.63 78.58,505.75 78.58,507.99 C78.58,510.24 78.37,512.88 78.14,515.13 C77.91,517.38 77.77,519.56 77.19,521.47 C76.60,523.39 75.72,525.37 74.63,526.63 C73.53,527.88 72.00,528.68 70.60,529.01 C69.19,529.34 67.49,529.20 66.20,528.61 C64.92,528.02 63.79,526.89 62.91,525.44 C62.03,523.98 61.42,522.00 60.93,519.89 C60.44,517.77 60.13,515.13 59.98,512.75 C59.83,510.37 59.87,507.86 60.05,505.61 C60.24,503.37 60.48,501.19 61.08,499.27 C61.68,497.35 62.60,495.46 63.64,494.12 C64.68,492.77 66.02,491.75 67.30,491.18 C68.58,490.61 70.11,490.55 71.33,490.71 Z" fill="none" stroke="#1c278a" stroke-width="0.7" stroke-opacity="1.0"/><path d="M71.16,492.33 C72.27,492.48 73.33,492.83 74.16,493.67 C74.99,494.51 75.62,495.89 76.15,497.37 C76.69,498.86 77.09,500.71 77.35,502.56 C77.62,504.41 77.75,506.39 77.75,508.49 C77.75,510.59 77.56,513.06 77.35,515.16 C77.14,517.26 77.02,519.30 76.49,521.09 C75.95,522.88 75.16,524.74 74.16,525.91 C73.16,527.08 71.77,527.82 70.50,528.13 C69.22,528.44 67.67,528.32 66.51,527.76 C65.34,527.21 64.31,526.16 63.51,524.80 C62.71,523.44 62.16,521.59 61.72,519.61 C61.27,517.63 60.98,515.16 60.85,512.94 C60.72,510.71 60.75,508.37 60.92,506.27 C61.08,504.17 61.31,502.13 61.85,500.34 C62.39,498.55 63.23,496.78 64.18,495.52 C65.12,494.26 66.34,493.31 67.50,492.78 C68.67,492.25 70.05,492.18 71.16,492.33 Z" fill="none" stroke="#1c278a" stroke-width="0.7" stroke-opacity="1.0"/><path d="M71.00,493.96 C71.99,494.10 72.94,494.42 73.69,495.20 C74.44,495.98 75.01,497.27 75.48,498.65 C75.96,500.03 76.32,501.75 76.56,503.47 C76.80,505.20 76.92,507.04 76.92,508.99 C76.92,510.94 76.75,513.24 76.56,515.19 C76.37,517.15 76.26,519.04 75.78,520.71 C75.30,522.38 74.59,524.10 73.69,525.19 C72.79,526.28 71.54,526.97 70.40,527.26 C69.25,527.55 67.85,527.43 66.81,526.91 C65.76,526.40 64.83,525.42 64.11,524.16 C63.40,522.89 62.90,521.17 62.50,519.33 C62.10,517.49 61.84,515.19 61.72,513.13 C61.60,511.06 61.63,508.87 61.78,506.92 C61.93,504.97 62.13,503.07 62.62,501.41 C63.11,499.74 63.86,498.10 64.71,496.92 C65.56,495.75 66.66,494.87 67.70,494.37 C68.75,493.88 70.00,493.82 71.00,493.96 Z" fill="none" stroke="#1c278a" stroke-width="0.7" stroke-opacity="1.0"/><path d="M70.83,495.59 C71.71,495.71 72.56,496.01 73.22,496.73 C73.88,497.46 74.39,498.65 74.81,499.92 C75.24,501.20 75.56,502.79 75.77,504.39 C75.98,505.98 76.09,507.68 76.09,509.49 C76.09,511.29 75.94,513.42 75.77,515.23 C75.60,517.03 75.51,518.79 75.08,520.33 C74.66,521.87 74.02,523.46 73.22,524.47 C72.42,525.48 71.32,526.12 70.30,526.39 C69.28,526.65 68.04,526.55 67.11,526.07 C66.18,525.59 65.35,524.69 64.72,523.52 C64.08,522.35 63.64,520.75 63.28,519.05 C62.93,517.35 62.70,515.23 62.59,513.31 C62.48,511.40 62.51,509.38 62.64,507.57 C62.78,505.77 62.95,504.01 63.39,502.47 C63.82,500.93 64.50,499.41 65.25,498.33 C66.00,497.24 66.98,496.43 67.91,495.97 C68.84,495.51 69.94,495.46 70.83,495.59 Z" fill="none" stroke="#1c278a" stroke-width="0.7" stroke-opacity="1.0"/><path d="M70.66,497.21 C71.44,497.33 72.17,497.60 72.75,498.27 C73.33,498.93 73.77,500.03 74.15,501.20 C74.52,502.37 74.80,503.83 74.98,505.30 C75.17,506.76 75.26,508.33 75.26,509.99 C75.26,511.65 75.13,513.60 74.98,515.26 C74.83,516.92 74.75,518.53 74.38,519.95 C74.01,521.36 73.45,522.83 72.75,523.76 C72.06,524.68 71.09,525.27 70.20,525.51 C69.31,525.76 68.22,525.66 67.41,525.22 C66.60,524.78 65.88,523.95 65.32,522.88 C64.76,521.80 64.37,520.34 64.06,518.77 C63.75,517.21 63.55,515.26 63.46,513.50 C63.37,511.74 63.39,509.89 63.51,508.23 C63.62,506.57 63.78,504.96 64.16,503.54 C64.54,502.12 65.13,500.73 65.78,499.73 C66.44,498.74 67.29,497.98 68.11,497.56 C68.92,497.14 69.89,497.10 70.66,497.21 Z" fill="none" stroke="#1c278a" stroke-width="0.7" stroke-opacity="1.0"/><path d="M70.49,498.84 C71.16,498.95 71.79,499.20 72.28,499.80 C72.78,500.41 73.16,501.40 73.48,502.47 C73.79,503.54 74.03,504.88 74.19,506.21 C74.35,507.55 74.43,508.97 74.43,510.48 C74.43,512.00 74.32,513.78 74.19,515.29 C74.07,516.81 73.99,518.27 73.68,519.56 C73.36,520.86 72.88,522.19 72.28,523.04 C71.69,523.88 70.86,524.42 70.10,524.64 C69.33,524.86 68.41,524.77 67.71,524.37 C67.01,523.97 66.40,523.22 65.92,522.24 C65.44,521.26 65.11,519.92 64.85,518.50 C64.58,517.07 64.41,515.29 64.33,513.69 C64.25,512.09 64.27,510.40 64.37,508.88 C64.47,507.37 64.60,505.90 64.93,504.61 C65.25,503.32 65.76,502.04 66.32,501.14 C66.88,500.23 67.61,499.54 68.31,499.16 C69.00,498.78 69.83,498.73 70.49,498.84 Z" fill="none" stroke="#1c278a" stroke-width="0.7" stroke-opacity="1.0"/>
<ellipse cx="69.50" cy="504.40" rx="7.40" ry="14.60" transform="rotate(0 69.50 504.40)" fill="#62b5e6"/>
<ellipse cx="69.50" cy="503.15" rx="7.00" ry="12.90" transform="rotate(0 69.50 503.15)" fill="#36c2b4"/>
<ellipse cx="69.50" cy="501.90" rx="6.60" ry="11.20" transform="rotate(0 69.50 501.90)" fill="#58bb46"/>
<ellipse cx="69.67" cy="502.05" rx="5.60" ry="9.35" transform="rotate(0 69.67 502.05)" fill="#b6d636"/>
<ellipse cx="69.85" cy="502.20" rx="4.60" ry="7.50" transform="rotate(0 69.85 502.20)" fill="#f2e22a"/>
<ellipse cx="69.96" cy="502.20" rx="4.06" ry="6.73" transform="rotate(0 69.96 502.20)" fill="#f39a2a"/>
<ellipse cx="70.10" cy="502.20" rx="3.40" ry="5.80" transform="rotate(0 70.10 502.20)" fill="#e5262a"/>
<ellipse cx="70.30" cy="503.00" rx="1.20" ry="2.60" transform="rotate(0 70.30 503.00)" fill="#ffffff"/>
<clipPath id="cl3"><path d="M44.70,494.00 C45.28,494.00 46.02,495.17 46.50,497.00 C46.98,498.83 47.35,501.67 47.60,505.00 C47.85,508.33 47.97,512.83 48.00,517.00 C48.03,521.17 48.00,526.33 47.80,530.00 C47.60,533.67 47.32,537.13 46.80,539.00 C46.28,540.87 45.40,541.20 44.70,541.20 C44.00,541.20 43.12,540.87 42.60,539.00 C42.08,537.13 41.80,533.67 41.60,530.00 C41.40,526.33 41.35,521.17 41.40,517.00 C41.45,512.83 41.63,508.33 41.90,505.00 C42.17,501.67 42.53,498.83 43.00,497.00 C43.47,495.17 44.12,494.00 44.70,494.00 Z"/></clipPath>
<g clip-path="url(#cl3)" opacity="1.0"><path d="M44.70,494.00 C45.28,494.00 46.02,495.17 46.50,497.00 C46.98,498.83 47.35,501.67 47.60,505.00 C47.85,508.33 47.97,512.83 48.00,517.00 C48.03,521.17 48.00,526.33 47.80,530.00 C47.60,533.67 47.32,537.13 46.80,539.00 C46.28,540.87 45.40,541.20 44.70,541.20 C44.00,541.20 43.12,540.87 42.60,539.00 C42.08,537.13 41.80,533.67 41.60,530.00 C41.40,526.33 41.35,521.17 41.40,517.00 C41.45,512.83 41.63,508.33 41.90,505.00 C42.17,501.67 42.53,498.83 43.00,497.00 C43.47,495.17 44.12,494.00 44.70,494.00 Z" fill="#ffffff"/><path d="M44.70,494.00 C45.28,494.00 46.02,495.17 46.50,497.00 C46.98,498.83 47.35,501.67 47.60,505.00 C47.85,508.33 47.97,512.83 48.00,517.00 C48.03,521.17 48.00,526.33 47.80,530.00 C47.60,533.67 47.32,537.13 46.80,539.00 C46.28,540.87 45.40,541.20 44.70,541.20 C44.00,541.20 43.12,540.87 42.60,539.00 C42.08,537.13 41.80,533.67 41.60,530.00 C41.40,526.33 41.35,521.17 41.40,517.00 C41.45,512.83 41.63,508.33 41.90,505.00 C42.17,501.67 42.53,498.83 43.00,497.00 C43.47,495.17 44.12,494.00 44.70,494.00 Z" fill="none" stroke="#1c278a" stroke-width="2.60" stroke-linejoin="round"/><path d="M44.70,494.00 C45.28,494.00 46.02,495.17 46.50,497.00 C46.98,498.83 47.35,501.67 47.60,505.00 C47.85,508.33 47.97,512.83 48.00,517.00 C48.03,521.17 48.00,526.33 47.80,530.00 C47.60,533.67 47.32,537.13 46.80,539.00 C46.28,540.87 45.40,541.20 44.70,541.20 C44.00,541.20 43.12,540.87 42.60,539.00 C42.08,537.13 41.80,533.67 41.60,530.00 C41.40,526.33 41.35,521.17 41.40,517.00 C41.45,512.83 41.63,508.33 41.90,505.00 C42.17,501.67 42.53,498.83 43.00,497.00 C43.47,495.17 44.12,494.00 44.70,494.00 Z" fill="none" stroke="#ffffff" stroke-width="1.00" stroke-linejoin="round"/><path d="M44.70,494.00 C45.28,494.00 46.02,495.17 46.50,497.00 C46.98,498.83 47.35,501.67 47.60,505.00 C47.85,508.33 47.97,512.83 48.00,517.00 C48.03,521.17 48.00,526.33 47.80,530.00 C47.60,533.67 47.32,537.13 46.80,539.00 C46.28,540.87 45.40,541.20 44.70,541.20 C44.00,541.20 43.12,540.87 42.60,539.00 C42.08,537.13 41.80,533.67 41.60,530.00 C41.40,526.33 41.35,521.17 41.40,517.00 C41.45,512.83 41.63,508.33 41.90,505.00 C42.17,501.67 42.53,498.83 43.00,497.00 C43.47,495.17 44.12,494.00 44.70,494.00 Z" fill="none" stroke="#1c278a" stroke-width="0.80" stroke-linejoin="round"/></g>
<path d="M44.2,500 L44.2,508 M45.2,510 L45.2,518 M44.3,521 L44.3,528 M45,530 L45,536" stroke="#1c278a" stroke-width="0.6" opacity="0.9"/>
<line x1="25.50" y1="453.80" x2="25.50" y2="541.50" stroke="#3b4790" stroke-width="1.0"/>
<line x1="25.50" y1="541.50" x2="107.30" y2="541.50" stroke="#3b4790" stroke-width="1.0"/>
<line x1="24.30" y1="522.43" x2="25.50" y2="522.43" stroke="#3b4790" stroke-width="0.6"/>
<line x1="24.30" y1="503.37" x2="25.50" y2="503.37" stroke="#3b4790" stroke-width="0.6"/>
<line x1="24.30" y1="484.30" x2="25.50" y2="484.30" stroke="#3b4790" stroke-width="0.6"/>
<line x1="24.30" y1="465.24" x2="25.50" y2="465.24" stroke="#3b4790" stroke-width="0.6"/>
<line x1="43.28" y1="541.50" x2="43.28" y2="542.70" stroke="#3b4790" stroke-width="0.6"/>
<line x1="61.07" y1="541.50" x2="61.07" y2="542.70" stroke="#3b4790" stroke-width="0.6"/>
<line x1="78.85" y1="541.50" x2="78.85" y2="542.70" stroke="#3b4790" stroke-width="0.6"/>
<line x1="96.63" y1="541.50" x2="96.63" y2="542.70" stroke="#3b4790" stroke-width="0.6"/>
<rect x="54.60" y="515.40" width="27.30" height="26.20" fill="none" stroke="#52a0a8" stroke-width="0.8"/>
<rect x="81.90" y="515.40" width="23.90" height="26.20" fill="none" stroke="#c8506a" stroke-width="0.9"/>
<line x1="51.20" y1="551.80" x2="116.50" y2="551.80" stroke="#111" stroke-width="0.9"/>
<path d="M120.50,551.80 L116.00,549.80 L116.00,553.80 Z" fill="#111"/>
<path d="M170.1,502.4h0.7M163.9,513.4h0.7M149.8,491.5h0.7M170.6,496.6h0.7M176.1,501.0h0.7M124.5,480.2h0.7M142.9,467.5h0.7M158.4,499.5h0.7M178.6,488.7h0.7M155.4,515.9h0.7M174.7,485.7h0.7M190.3,493.2h0.7M183.8,499.4h0.7M151.7,481.5h0.7M147.3,534.0h0.7M186.5,497.7h0.7M182.2,531.2h0.7M154.0,495.0h0.7M182.3,511.7h0.7M137.1,504.1h0.7M136.5,519.3h0.7M174.1,497.3h0.7M142.4,522.0h0.7M152.5,528.2h0.7M140.5,499.9h0.7M149.2,485.5h0.7M147.5,520.1h0.7M124.2,528.8h0.7M181.7,498.6h0.7M153.1,509.7h0.7M169.2,498.3h0.7M143.1,500.2h0.7M151.6,519.9h0.7M161.9,509.6h0.7M127.0,497.9h0.7M152.3,495.4h0.7M157.8,499.5h0.7M129.8,523.0h0.7M178.6,495.5h0.7M172.7,487.6h0.7M135.1,501.4h0.7M191.3,503.4h0.7M129.8,509.9h0.7M149.0,491.8h0.7M167.5,472.4h0.7M124.7,477.9h0.7M182.2,507.4h0.7M148.5,492.7h0.7M173.8,529.3h0.7M146.2,510.7h0.7M154.3,512.2h0.7M163.1,518.5h0.7M168.0,496.5h0.7M158.6,513.0h0.7M147.3,507.3h0.7M142.7,529.3h0.7M192.1,489.5h0.7M178.0,509.2h0.7M162.9,501.2h0.7M166.4,525.0h0.7M136.6,525.2h0.7M155.8,485.3h0.7M160.1,518.0h0.7M159.3,511.6h0.7M154.4,495.9h0.7M181.0,488.4h0.7M180.9,512.4h0.7M155.6,501.8h0.7M155.3,505.4h0.7M160.2,503.4h0.7M122.6,466.4h0.7M167.9,494.2h0.7M149.8,502.9h0.7M139.2,535.1h0.7M161.1,502.8h0.7M140.2,522.6h0.7M175.4,533.9h0.7M178.8,490.8h0.7M136.1,531.7h0.7M147.8,504.1h0.7M158.1,515.4h0.7M172.0,486.8h0.7M148.5,473.7h0.7M172.2,503.1h0.7M127.9,525.5h0.7M161.4,487.2h0.7M153.0,495.2h0.7M163.2,509.9h0.7M149.9,514.1h0.7M173.9,523.8h0.7M176.9,486.7h0.7M128.0,499.8h0.7M146.6,474.9h0.7M163.9,497.7h0.7M170.9,509.6h0.7M176.5,495.0h0.7M137.6,484.5h0.7M188.6,494.6h0.7M187.8,486.2h0.7M150.4,492.0h0.7M157.3,518.0h0.7M200.6,519.5h0.7M158.8,508.8h0.7M156.4,512.7h0.7M143.9,510.5h0.7M169.8,523.3h0.7M144.7,513.6h0.7M166.3,490.8h0.7M122.3,495.5h0.7M177.8,500.6h0.7M146.7,503.9h0.7M169.7,514.6h0.7M156.1,514.1h0.7M164.0,497.0h0.7M126.1,508.9h0.7M152.8,504.8h0.7M150.1,519.9h0.7M181.6,492.8h0.7M134.1,511.5h0.7M187.6,513.2h0.7M170.1,479.9h0.7M150.0,516.3h0.7M167.8,505.5h0.7M171.8,521.3h0.7M162.4,492.6h0.7M133.4,509.4h0.7M157.3,502.3h0.7M182.1,493.6h0.7M155.4,517.6h0.7M143.5,466.2h0.7M150.0,520.5h0.7M149.0,501.1h0.7M124.8,527.4h0.7M126.8,493.4h0.7M162.8,492.4h0.7M131.8,499.9h0.7M136.9,494.2h0.7M161.5,527.8h0.7M139.2,530.5h0.7M123.1,541.0h0.7M148.1,498.7h0.7M151.4,509.8h0.7M159.5,499.5h0.7M147.1,495.5h0.7M161.7,495.8h0.7M147.3,479.2h0.7M161.1,514.5h0.7M140.9,523.7h0.7M159.8,507.4h0.7M127.8,516.8h0.7M184.7,540.8h0.7M148.8,504.4h0.7M174.8,515.2h0.7M148.3,506.7h0.7M179.4,515.7h0.7M159.5,524.5h0.7M132.0,513.5h0.7M147.9,498.9h0.7M176.1,537.2h0.7M169.3,507.9h0.7M192.2,519.3h0.7M118.3,494.6h0.7M148.0,493.4h0.7M132.0,517.4h0.7M164.0,537.2h0.7M155.3,507.9h0.7M146.5,524.2h0.7M185.0,536.1h0.7M180.3,495.4h0.7M184.0,489.5h0.7M149.2,502.5h0.7M200.8,493.2h0.7M142.1,510.3h0.7M183.6,516.2h0.7M171.5,490.9h0.7M153.7,529.1h0.7M163.1,494.4h0.7M154.5,530.3h0.7M193.8,513.5h0.7M145.6,536.2h0.7M149.0,508.0h0.7M169.2,506.1h0.7M157.9,535.2h0.7M167.3,480.5h0.7M150.1,529.9h0.7M158.0,487.9h0.7M178.6,514.9h0.7M162.2,516.5h0.7M154.2,509.5h0.7M172.4,496.3h0.7M185.0,487.5h0.7M200.6,507.6h0.7M168.5,484.5h0.7M176.2,491.4h0.7M170.7,506.6h0.7M146.1,538.0h0.7M164.6,497.1h0.7M154.6,512.1h0.7M162.4,521.6h0.7M150.7,510.3h0.7M152.2,493.8h0.7M176.8,491.9h0.7M130.7,518.1h0.7M151.8,516.5h0.7M171.4,515.5h0.7M163.0,534.2h0.7M141.8,527.3h0.7M158.8,511.8h0.7M153.6,521.9h0.7M170.7,498.6h0.7M162.6,515.2h0.7M172.4,499.6h0.7M180.9,511.4h0.7M152.0,500.6h0.7M131.7,520.2h0.7M190.3,505.2h0.7M146.7,476.0h0.7M138.9,506.7h0.7M149.8,503.9h0.7M146.0,503.8h0.7M157.5,509.9h0.7M163.5,510.1h0.7M146.5,501.6h0.7M138.9,497.7h0.7M161.1,514.3h0.7M136.5,489.7h0.7M151.7,485.1h0.7M156.3,503.1h0.7M148.2,535.3h0.7M153.6,510.9h0.7M128.3,521.3h0.7M167.5,510.1h0.7M121.4,505.4h0.7M148.9,513.6h0.7M161.0,497.0h0.7M152.8,528.3h0.7M182.1,476.0h0.7M153.1,517.6h0.7M153.7,511.9h0.7M155.4,535.4h0.7M174.9,503.1h0.7M188.0,518.0h0.7M193.0,498.2h0.7M133.2,520.5h0.7M162.1,475.4h0.7M162.7,492.1h0.7M152.6,508.3h0.7M135.3,528.5h0.7M136.9,506.9h0.7M161.5,497.4h0.7M146.8,521.4h0.7M131.2,506.1h0.7M191.5,492.5h0.7M132.3,497.3h0.7M139.0,491.2h0.7M144.3,516.4h0.7M161.6,487.7h0.7M185.2,488.5h0.7M188.6,497.2h0.7M143.6,497.7h0.7M187.8,508.0h0.7M160.3,476.2h0.7M160.3,500.1h0.7M153.8,491.6h0.7M130.7,528.4h0.7M142.4,516.4h0.7M171.4,508.6h0.7M163.3,517.1h0.7M154.1,504.2h0.7M166.8,509.1h0.7M160.0,483.3h0.7M182.7,528.0h0.7M165.2,510.2h0.7M122.3,502.4h0.7M145.9,538.3h0.7M157.3,469.1h0.7M194.8,501.8h0.7M167.6,525.5h0.7M130.8,497.0h0.7M163.2,528.4h0.7M157.4,516.2h0.7M127.4,515.1h0.7M143.2,499.4h0.7M162.7,521.8h0.7M147.8,513.5h0.7M154.9,517.0h0.7M152.2,530.9h0.7M141.2,487.1h0.7M185.0,492.7h0.7M173.2,518.3h0.7M128.9,500.5h0.7M151.8,503.5h0.7M132.6,508.9h0.7M164.5,485.9h0.7M161.1,509.6h0.7M128.4,504.4h0.7M177.8,519.0h0.7M140.0,491.8h0.7M161.0,512.9h0.7M176.1,507.1h0.7M175.8,493.7h0.7M195.3,502.2h0.7M142.3,495.3h0.7M126.4,491.8h0.7M154.4,514.1h0.7M181.6,489.9h0.7M146.2,517.6h0.7M179.8,518.8h0.7M165.0,484.4h0.7M149.9,477.1h0.7M146.8,527.4h0.7M189.7,500.0h0.7M171.4,529.2h0.7M139.8,480.5h0.7M147.5,467.1h0.7M172.9,503.2h0.7M154.3,505.7h0.7M169.0,504.3h0.7M136.5,516.1h0.7M149.5,509.8h0.7M146.5,504.8h0.7M129.9,506.8h0.7M153.7,523.7h0.7M144.2,488.7h0.7M172.6,469.0h0.7M171.2,502.8h0.7M150.5,506.0h0.7M153.9,487.9h0.7M172.8,488.2h0.7M161.4,500.7h0.7M145.1,492.9h0.7M164.4,497.7h0.7M184.6,519.6h0.7M150.6,522.1h0.7M134.4,481.1h0.7M179.9,474.9h0.7M145.1,509.9h0.7M119.9,501.4h0.7M176.1,491.3h0.7M186.8,488.1h0.7M186.1,511.4h0.7M161.5,499.8h0.7M140.4,523.0h0.7M136.7,504.0h0.7M172.5,512.5h0.7M172.0,492.7h0.7M134.8,508.2h0.7M156.0,523.2h0.7M121.7,503.7h0.7M166.5,495.6h0.7M128.3,504.4h0.7M178.6,491.6h0.7M141.5,485.9h0.7M140.1,471.9h0.7M181.4,525.2h0.7M148.3,514.4h0.7M193.8,528.2h0.7M178.3,491.3h0.7M147.1,505.2h0.7M188.7,491.6h0.7M172.3,525.4h0.7M174.8,504.6h0.7M147.4,517.2h0.7M153.4,511.5h0.7M150.1,495.3h0.7M151.0,486.7h0.7M177.3,480.1h0.7M166.9,496.9h0.7M169.1,475.1h0.7M159.8,505.7h0.7M186.5,523.1h0.7M167.0,503.7h0.7M160.8,523.2h0.7M184.7,515.7h0.7M182.9,478.1h0.7M178.1,540.6h0.7M162.5,494.8h0.7M186.5,471.9h0.7M183.0,484.3h0.7M169.6,484.7h0.7M188.6,506.5h0.7M149.2,505.0h0.7M186.4,532.8h0.7M165.1,501.7h0.7M189.2,508.3h0.7M150.1,540.1h0.7M130.9,511.7h0.7M191.5,514.0h0.7M166.3,523.1h0.7M143.2,506.4h0.7M160.9,524.6h0.7M170.5,508.4h0.7M185.5,530.8h0.7M169.3,498.7h0.7M194.5,463.3h0.7M139.6,512.3h0.7M149.9,486.4h0.7M157.5,534.1h0.7M163.5,522.4h0.7M176.6,507.3h0.7M163.6,495.8h0.7M167.0,521.8h0.7M159.4,507.0h0.7M172.0,509.0h0.7M168.7,475.0h0.7M170.1,479.0h0.7M174.7,504.8h0.7M154.6,486.0h0.7M179.9,500.2h0.7M154.6,474.3h0.7M191.5,498.1h0.7M147.1,528.0h0.7M173.0,464.2h0.7M160.6,534.1h0.7M158.0,494.6h0.7M177.9,520.7h0.7M146.2,495.7h0.7M152.1,498.1h0.7M138.9,495.2h0.7M174.8,479.9h0.7M181.3,516.0h0.7M176.2,520.7h0.7M147.1,479.7h0.7M183.4,506.3h0.7M170.3,524.0h0.7M138.0,505.9h0.7M161.4,489.9h0.7M145.9,507.0h0.7M168.6,529.1h0.7M178.6,532.1h0.7M153.4,511.3h0.7M160.9,501.4h0.7M152.2,530.2h0.7M189.4,507.8h0.7M146.3,536.3h0.7M182.2,502.4h0.7M175.4,512.6h0.7M160.1,504.7h0.7M144.6,488.8h0.7M158.9,487.7h0.7M168.6,501.5h0.7M145.9,512.7h0.7M147.6,500.4h0.7M144.3,517.8h0.7M164.0,503.0h0.7M157.7,515.0h0.7M152.9,474.8h0.7M193.0,508.2h0.7M175.5,491.4h0.7M132.2,487.0h0.7M172.2,499.3h0.7M158.0,497.9h0.7M132.5,534.8h0.7M143.7,489.0h0.7M140.2,511.6h0.7M183.9,509.5h0.7M168.9,501.7h0.7M186.0,510.4h0.7M168.9,487.9h0.7M183.6,518.0h0.7M152.4,494.1h0.7M169.3,484.3h0.7M163.1,492.2h0.7M141.8,525.2h0.7M141.9,474.6h0.7M188.4,495.0h0.7M181.2,506.2h0.7M143.4,477.9h0.7M157.4,510.8h0.7M149.1,499.3h0.7M146.3,503.7h0.7M163.4,501.9h0.7M123.6,491.8h0.7M153.3,497.1h0.7M126.1,495.1h0.7M132.0,476.2h0.7M167.4,488.8h0.7M180.8,524.3h0.7M125.2,509.0h0.7M131.5,514.7h0.7M179.7,528.8h0.7M183.0,480.4h0.7M164.5,478.5h0.7M168.1,519.1h0.7M157.0,519.7h0.7M144.5,496.3h0.7M138.2,473.2h0.7M161.7,504.9h0.7M140.7,489.9h0.7M131.8,517.1h0.7M170.4,495.8h0.7M152.7,497.0h0.7M143.5,511.2h0.7M177.8,469.2h0.7M175.8,489.1h0.7M153.2,479.7h0.7M150.1,502.5h0.7M152.2,500.0h0.7M153.7,512.6h0.7M173.1,517.5h0.7M159.0,508.4h0.7M116.3,506.2h0.7M141.3,509.2h0.7M149.0,514.6h0.7M154.2,515.5h0.7M121.9,522.2h0.7M134.0,532.7h0.7M133.0,505.1h0.7M141.2,507.0h0.7M179.1,489.1h0.7M166.0,519.3h0.7M140.8,519.5h0.7M149.3,514.9h0.7M157.5,469.1h0.7M168.3,498.9h0.7M130.3,498.5h0.7M136.7,506.8h0.7M141.9,486.1h0.7M162.9,510.4h0.7M159.3,509.8h0.7M158.1,509.7h0.7M182.0,521.1h0.7M170.2,531.8h0.7M128.4,521.6h0.7M124.0,492.0h0.7M142.4,513.5h0.7M186.0,493.1h0.7M125.4,520.9h0.7M156.4,479.3h0.7M199.2,511.5h0.7M162.7,507.1h0.7M153.4,515.0h0.7M161.2,525.7h0.7M131.3,504.4h0.7M179.4,484.3h0.7M173.5,490.8h0.7M177.9,527.7h0.7" stroke="#5a64b4" stroke-width="0.6" stroke-opacity="0.55" fill="none"/>
<path d="M141.0,537.9h0.7M163.2,494.4h0.7M169.8,485.5h0.7M185.2,519.0h0.7M158.7,523.1h0.7M146.0,518.2h0.7M170.9,527.5h0.7M165.5,485.2h0.7M163.2,479.1h0.7M162.1,494.7h0.7M151.2,523.5h0.7M182.5,538.7h0.7M155.7,499.1h0.7M149.1,495.7h0.7M161.4,517.0h0.7M154.9,507.9h0.7M146.8,496.7h0.7M174.7,535.2h0.7M165.5,509.1h0.7M162.2,493.1h0.7M146.5,517.7h0.7M147.2,515.2h0.7M146.4,505.3h0.7M177.9,519.0h0.7M158.3,512.1h0.7M142.1,526.0h0.7M150.6,490.0h0.7M151.3,507.9h0.7M151.5,493.4h0.7M164.3,510.1h0.7M173.0,522.7h0.7M172.6,483.4h0.7M160.2,517.1h0.7M169.1,500.1h0.7M166.1,528.6h0.7M148.9,489.1h0.7M150.1,511.1h0.7M146.8,506.7h0.7M154.0,486.2h0.7M173.2,527.5h0.7M141.7,524.0h0.7M155.3,481.0h0.7M152.9,496.8h0.7M177.1,509.3h0.7M158.7,515.7h0.7M164.5,481.2h0.7M172.0,510.9h0.7M170.4,540.3h0.7M155.6,500.8h0.7M134.9,534.2h0.7M157.1,494.9h0.7M153.1,517.8h0.7M171.3,520.9h0.7M156.4,492.8h0.7M138.3,493.3h0.7M164.3,498.3h0.7M180.6,526.0h0.7M155.9,516.7h0.7M161.6,491.1h0.7M155.6,476.0h0.7M155.8,527.4h0.7M157.1,521.6h0.7M164.5,493.4h0.7M146.8,515.3h0.7M168.0,506.2h0.7M152.2,525.1h0.7M170.9,514.1h0.7M150.7,524.2h0.7M156.1,522.6h0.7M175.3,488.0h0.7M156.3,511.9h0.7M163.7,508.9h0.7M168.9,525.3h0.7M153.2,504.6h0.7M170.8,485.4h0.7M182.8,499.5h0.7M179.6,517.1h0.7M164.2,505.1h0.7M172.4,478.5h0.7M175.9,512.3h0.7M160.1,472.8h0.7M186.2,524.8h0.7M163.1,509.8h0.7M170.9,498.5h0.7M163.8,524.0h0.7M152.8,494.9h0.7M173.2,490.6h0.7M151.1,518.5h0.7M145.8,499.8h0.7M164.9,527.1h0.7M168.8,518.7h0.7M140.0,476.2h0.7M160.3,518.4h0.7M160.4,495.6h0.7M163.3,527.4h0.7M179.4,522.1h0.7M153.2,508.5h0.7M164.1,524.8h0.7M171.3,511.6h0.7M153.5,474.9h0.7M152.8,523.8h0.7M155.5,508.3h0.7M168.4,499.1h0.7M155.6,506.9h0.7M164.3,507.3h0.7M150.8,501.7h0.7M160.7,495.2h0.7M157.7,502.6h0.7M158.6,523.3h0.7M180.9,513.9h0.7M150.7,506.7h0.7M150.9,500.1h0.7M167.8,492.4h0.7M166.0,511.8h0.7M176.6,517.2h0.7M169.1,519.8h0.7M154.9,501.1h0.7M149.2,484.2h0.7M182.5,486.5h0.7M172.3,502.7h0.7M147.4,507.9h0.7M169.0,525.8h0.7M172.0,505.9h0.7M164.2,493.5h0.7M150.8,520.8h0.7M169.4,502.4h0.7M159.4,494.7h0.7M159.6,483.4h0.7M161.0,505.8h0.7M150.7,511.9h0.7M166.9,490.6h0.7M169.0,488.7h0.7M163.7,509.4h0.7M175.4,473.3h0.7M166.2,485.0h0.7M160.9,481.7h0.7M168.0,509.6h0.7M156.4,536.5h0.7M155.3,498.6h0.7M145.6,512.5h0.7M157.4,487.5h0.7M178.8,503.1h0.7M181.4,512.4h0.7M139.0,475.7h0.7M161.5,540.1h0.7M156.6,486.3h0.7M149.9,527.5h0.7M175.6,501.9h0.7M148.6,482.2h0.7M167.0,483.7h0.7M158.3,500.6h0.7M146.3,493.8h0.7M172.0,495.7h0.7M169.8,490.3h0.7M136.8,487.0h0.7M172.1,493.6h0.7M145.5,499.3h0.7M148.6,509.8h0.7M160.3,522.3h0.7M140.3,528.6h0.7M150.6,495.9h0.7M151.3,513.2h0.7M154.7,520.5h0.7M157.1,525.4h0.7M185.2,513.6h0.7M162.6,489.0h0.7M160.8,500.6h0.7M148.1,488.1h0.7M142.9,482.3h0.7M157.5,497.7h0.7M163.2,512.2h0.7M159.4,483.4h0.7M151.2,524.8h0.7M170.7,497.4h0.7M164.3,489.5h0.7M148.2,477.3h0.7M161.1,517.0h0.7M166.9,503.2h0.7M135.4,526.3h0.7M163.1,534.4h0.7M158.1,498.1h0.7M166.6,479.7h0.7M150.3,488.9h0.7M161.1,503.6h0.7M157.1,522.1h0.7M159.1,515.7h0.7M154.5,498.4h0.7M156.1,486.2h0.7M168.0,512.2h0.7M144.4,528.5h0.7M163.8,502.1h0.7M162.6,522.8h0.7M151.4,531.0h0.7M166.3,504.8h0.7M156.7,529.7h0.7M158.2,494.7h0.7M144.9,495.1h0.7M160.3,487.5h0.7M152.9,529.7h0.7M150.5,521.3h0.7M165.8,505.3h0.7M145.7,499.6h0.7M152.1,501.8h0.7M154.1,523.9h0.7M163.4,527.7h0.7M172.6,490.0h0.7M163.6,518.7h0.7M145.3,533.9h0.7M163.6,507.7h0.7M164.7,490.0h0.7M164.5,528.9h0.7M175.8,513.9h0.7M161.9,501.5h0.7M133.9,498.9h0.7M155.5,521.5h0.7M159.4,505.3h0.7M173.3,513.3h0.7M165.6,482.9h0.7M154.6,487.0h0.7M168.3,501.7h0.7M152.7,501.3h0.7M154.0,532.2h0.7M175.6,520.7h0.7M169.1,527.3h0.7M150.8,506.4h0.7M162.8,476.2h0.7M147.5,520.1h0.7M142.3,521.5h0.7M162.5,507.4h0.7M155.4,502.9h0.7M175.8,477.0h0.7M159.7,518.6h0.7M161.8,500.6h0.7M153.6,505.5h0.7M170.5,504.9h0.7M154.8,491.3h0.7M171.5,483.1h0.7M163.5,506.3h0.7M155.7,522.7h0.7M174.2,510.6h0.7M172.5,510.0h0.7M159.1,489.8h0.7M161.4,472.2h0.7M165.9,514.9h0.7M150.4,523.2h0.7M155.3,502.4h0.7M169.9,510.2h0.7M163.1,503.3h0.7M160.8,505.5h0.7M171.3,509.4h0.7M168.0,513.8h0.7M188.3,499.4h0.7M163.2,476.8h0.7M152.1,522.0h0.7M149.1,503.0h0.7M153.9,496.1h0.7M147.9,503.6h0.7M163.5,514.9h0.7M149.0,511.6h0.7M140.1,536.0h0.7M156.7,525.0h0.7M140.1,540.4h0.7M177.2,503.4h0.7M172.4,506.6h0.7M166.9,501.7h0.7M160.4,475.9h0.7M133.5,493.6h0.7M153.8,481.8h0.7M153.0,510.2h0.7M146.3,539.9h0.7M153.2,503.1h0.7M147.7,493.1h0.7M176.5,478.0h0.7M163.6,498.1h0.7M146.1,504.5h0.7M138.9,522.8h0.7M164.5,502.7h0.7M162.4,486.3h0.7M157.0,508.6h0.7M143.9,504.1h0.7M157.5,495.6h0.7M155.7,530.1h0.7M156.4,507.7h0.7M152.6,502.8h0.7M157.8,485.7h0.7M164.6,500.0h0.7M153.8,477.1h0.7M145.1,534.7h0.7M152.9,498.0h0.7M162.4,495.0h0.7M157.2,489.4h0.7M151.6,517.5h0.7M142.7,478.9h0.7M159.9,503.1h0.7M169.2,481.3h0.7M142.7,534.3h0.7M175.4,496.7h0.7M153.1,522.1h0.7M155.9,526.3h0.7M171.5,539.0h0.7M154.6,517.6h0.7M163.1,531.8h0.7M177.3,518.8h0.7M164.9,492.4h0.7M133.1,534.8h0.7M152.6,479.3h0.7M155.0,502.8h0.7M170.2,532.1h0.7M153.2,519.5h0.7M166.7,500.2h0.7M146.8,505.3h0.7M163.1,495.3h0.7M154.0,521.8h0.7M166.2,524.3h0.7M159.6,472.8h0.7M151.8,532.4h0.7M148.4,508.4h0.7M158.6,478.7h0.7M166.6,519.0h0.7M153.8,492.5h0.7M153.3,497.9h0.7M158.0,519.5h0.7M164.1,485.6h0.7M170.0,524.0h0.7M159.8,510.5h0.7M163.4,503.3h0.7M169.5,499.9h0.7M174.8,533.0h0.7M150.2,483.3h0.7M166.2,484.9h0.7M130.3,538.1h0.7M168.0,498.9h0.7M146.6,517.5h0.7M160.2,492.1h0.7M161.5,509.7h0.7M162.9,512.0h0.7M149.7,524.2h0.7M144.6,503.3h0.7M159.1,503.6h0.7M157.4,495.3h0.7M171.7,521.8h0.7M166.8,526.6h0.7M165.1,536.0h0.7M139.0,494.6h0.7M173.8,526.6h0.7M161.7,499.6h0.7M152.3,502.8h0.7M173.6,529.6h0.7M152.9,507.4h0.7M156.7,532.8h0.7M164.9,534.2h0.7M161.7,509.7h0.7M145.1,533.1h0.7M170.0,495.1h0.7M153.2,518.9h0.7M163.2,478.0h0.7M148.6,523.9h0.7M139.0,508.6h0.7M161.9,480.2h0.7M161.5,492.7h0.7M161.4,495.7h0.7M170.6,480.4h0.7M169.2,537.5h0.7M148.1,520.3h0.7M165.8,523.3h0.7M146.1,510.0h0.7M157.8,507.2h0.7M146.0,524.1h0.7M159.4,493.2h0.7M146.5,490.0h0.7M169.1,480.0h0.7M151.5,501.9h0.7M163.8,507.8h0.7M174.3,470.7h0.7M160.4,538.8h0.7M162.0,528.1h0.7M165.7,523.8h0.7M172.7,530.9h0.7M150.8,506.7h0.7M165.1,497.0h0.7M155.6,531.2h0.7M154.9,513.4h0.7M161.6,521.8h0.7M165.0,504.1h0.7M157.6,511.9h0.7M175.0,495.3h0.7M178.2,509.5h0.7M155.5,527.7h0.7M162.1,509.3h0.7M161.5,475.7h0.7M147.8,485.0h0.7M156.7,495.3h0.7M146.7,511.2h0.7M143.5,524.7h0.7M152.2,531.0h0.7M163.1,506.2h0.7M140.2,501.0h0.7M145.0,532.3h0.7M171.3,480.7h0.7M148.9,521.8h0.7M155.5,493.1h0.7M159.1,510.9h0.7M166.1,493.5h0.7M168.7,520.6h0.7M156.6,511.9h0.7M157.5,479.9h0.7M138.2,475.9h0.7M156.7,491.5h0.7M151.8,488.1h0.7M155.0,510.4h0.7M162.8,474.4h0.7M162.8,519.1h0.7M142.6,521.4h0.7M164.6,499.6h0.7M160.0,514.3h0.7M141.7,513.8h0.7M166.3,518.8h0.7M152.0,521.4h0.7M156.4,508.7h0.7M167.9,473.5h0.7M163.3,509.5h0.7M171.4,534.0h0.7M177.1,513.5h0.7M148.9,535.8h0.7M169.2,510.7h0.7M163.3,528.4h0.7M176.2,488.9h0.7M153.5,515.8h0.7M172.1,521.5h0.7M163.6,486.7h0.7M164.0,500.0h0.7M161.6,513.8h0.7M153.7,505.5h0.7M155.3,471.5h0.7M176.2,506.3h0.7M147.2,499.3h0.7M145.7,540.1h0.7M176.5,516.1h0.7M144.8,505.5h0.7M172.7,527.4h0.7M152.2,511.5h0.7M142.5,515.0h0.7M174.5,512.0h0.7M166.3,492.6h0.7M160.6,511.5h0.7M151.1,536.2h0.7M163.8,521.3h0.7M155.7,508.2h0.7M164.4,520.2h0.7M162.2,471.9h0.7M153.5,520.2h0.7M159.0,528.9h0.7M148.9,471.9h0.7M169.0,500.7h0.7M153.5,516.6h0.7M154.7,506.8h0.7M157.0,512.3h0.7M148.6,540.4h0.7M168.0,482.5h0.7M170.5,491.4h0.7M165.6,496.1h0.7M151.4,483.8h0.7M157.8,530.6h0.7M158.1,512.3h0.7M155.0,475.8h0.7M133.1,511.4h0.7M174.2,520.3h0.7M173.0,525.7h0.7M160.7,504.1h0.7M173.0,489.1h0.7M144.7,508.5h0.7M161.3,507.0h0.7M153.9,499.0h0.7M165.1,521.8h0.7M140.9,500.6h0.7M152.3,483.5h0.7M181.9,509.1h0.7M141.7,512.2h0.7M150.5,495.5h0.7M148.8,478.8h0.7M151.7,514.7h0.7M153.3,534.7h0.7M159.9,524.0h0.7M161.3,506.2h0.7M169.6,498.5h0.7M171.5,483.2h0.7M164.1,495.7h0.7M136.1,505.8h0.7M152.6,516.7h0.7M169.3,490.1h0.7M157.7,491.4h0.7M161.2,485.5h0.7M167.2,488.2h0.7M153.5,511.6h0.7M163.7,491.3h0.7M151.5,484.4h0.7M146.9,510.6h0.7M158.9,513.8h0.7M157.8,520.5h0.7M169.9,497.3h0.7M160.2,505.8h0.7M170.4,516.6h0.7M160.2,534.6h0.7M151.9,510.1h0.7M183.7,525.5h0.7M153.9,538.3h0.7M156.4,505.3h0.7M162.8,493.8h0.7M158.6,512.8h0.7M137.4,522.4h0.7M165.2,511.0h0.7M146.0,523.2h0.7M154.6,528.5h0.7M162.4,509.1h0.7M163.2,505.8h0.7M171.1,526.3h0.7M160.7,526.1h0.7M168.6,535.5h0.7M164.0,525.0h0.7M173.1,528.1h0.7M168.0,490.2h0.7M164.4,474.7h0.7M146.8,470.3h0.7M169.6,505.8h0.7M135.7,516.7h0.7M152.4,506.6h0.7M159.3,502.7h0.7M176.8,498.2h0.7M177.3,497.0h0.7M144.3,534.6h0.7M153.4,504.5h0.7M161.8,525.4h0.7M151.0,493.7h0.7M158.0,498.8h0.7M143.5,531.4h0.7M174.5,470.3h0.7M136.0,486.1h0.7M150.8,479.7h0.7M162.8,525.0h0.7M161.2,470.5h0.7M151.7,500.1h0.7M152.8,491.4h0.7M157.1,530.9h0.7M160.6,490.1h0.7M184.9,515.2h0.7M173.3,505.1h0.7M153.6,511.5h0.7M159.2,499.2h0.7M155.9,527.8h0.7M159.6,519.3h0.7M156.3,516.8h0.7M155.4,509.7h0.7M144.2,496.0h0.7M157.9,494.8h0.7M179.6,504.8h0.7M166.3,484.5h0.7M177.2,481.2h0.7M142.8,511.1h0.7M160.7,529.8h0.7M161.6,534.5h0.7M158.0,523.0h0.7M157.0,488.8h0.7M176.3,484.7h0.7M167.6,503.8h0.7M142.0,525.0h0.7M175.2,503.0h0.7M159.8,512.6h0.7M156.4,527.0h0.7M159.9,502.9h0.7M146.1,479.0h0.7M160.5,524.1h0.7M165.4,494.6h0.7M158.4,476.4h0.7M164.3,524.0h0.7M150.2,475.8h0.7M139.1,483.6h0.7M160.5,520.8h0.7M176.2,483.4h0.7M157.7,503.3h0.7M160.3,485.5h0.7M159.9,480.3h0.7M151.6,491.2h0.7M174.1,481.9h0.7M164.9,517.6h0.7M148.7,489.1h0.7M175.4,502.7h0.7M154.3,514.4h0.7M168.2,511.4h0.7M146.7,509.6h0.7M167.1,505.6h0.7M131.0,506.9h0.7M162.9,478.9h0.7M144.8,498.9h0.7M140.0,475.1h0.7M180.1,478.0h0.7M171.3,495.3h0.7M135.6,498.2h0.7M163.3,498.5h0.7M169.8,502.2h0.7M149.6,526.9h0.7M158.0,513.2h0.7M170.0,509.5h0.7M144.0,523.4h0.7M156.7,530.9h0.7M150.1,491.2h0.7M132.7,500.0h0.7M138.5,492.0h0.7M172.1,487.2h0.7M172.0,499.4h0.7M154.9,493.3h0.7M159.9,491.8h0.7M159.5,526.8h0.7M157.6,472.2h0.7M146.8,539.2h0.7M156.4,527.6h0.7M156.5,524.0h0.7M133.9,521.0h0.7M159.7,500.3h0.7M177.7,478.4h0.7M170.2,505.4h0.7M167.6,502.3h0.7M161.8,483.9h0.7M165.2,511.0h0.7M136.6,517.4h0.7M168.1,520.9h0.7M166.9,531.6h0.7M160.8,504.1h0.7M137.0,515.9h0.7M168.1,535.5h0.7M156.3,523.1h0.7M151.7,517.2h0.7M158.9,522.0h0.7M159.6,516.9h0.7M155.9,501.0h0.7M162.4,513.9h0.7" stroke="#3a46a8" stroke-width="0.6" stroke-opacity="0.7" fill="none"/>
<path d="M136.9,490.9h0.7M138.9,508.7h0.7M145.1,502.4h0.7M137.1,494.4h0.7M134.6,487.3h0.7M128.8,480.2h0.7M142.1,496.2h0.7M141.9,483.9h0.7M138.2,496.6h0.7M140.3,494.6h0.7M141.6,505.8h0.7M130.8,509.7h0.7M135.3,507.9h0.7M138.1,498.9h0.7M143.8,497.6h0.7M128.5,490.8h0.7M140.1,489.4h0.7M138.9,492.1h0.7M139.8,492.3h0.7M141.6,493.7h0.7M131.6,501.8h0.7M138.8,498.3h0.7M129.4,493.0h0.7M141.9,499.6h0.7M131.0,508.4h0.7M139.2,496.8h0.7M134.7,495.9h0.7M135.2,485.6h0.7M139.2,498.0h0.7M137.1,500.7h0.7M145.4,514.0h0.7M130.7,513.0h0.7M137.6,481.5h0.7M143.6,489.8h0.7M133.8,505.3h0.7M136.0,498.5h0.7M143.2,500.2h0.7M130.3,485.6h0.7M130.5,498.7h0.7M137.5,494.8h0.7M142.3,498.1h0.7M135.6,506.2h0.7M139.8,499.1h0.7M142.6,504.1h0.7M138.0,497.4h0.7M134.8,488.4h0.7M133.3,487.9h0.7M135.2,499.5h0.7M142.3,494.9h0.7M136.0,501.7h0.7M129.6,506.4h0.7M135.1,486.7h0.7M132.4,485.0h0.7M138.4,495.8h0.7M139.3,502.3h0.7M140.7,500.0h0.7M133.8,499.5h0.7M136.4,497.0h0.7M143.8,489.7h0.7M139.8,500.8h0.7M137.1,492.0h0.7M136.9,494.5h0.7M131.6,487.6h0.7M128.4,492.9h0.7M142.4,500.4h0.7M143.2,506.9h0.7M137.8,502.2h0.7M137.8,497.6h0.7M136.8,502.9h0.7M136.2,489.2h0.7M136.7,512.6h0.7M135.9,509.8h0.7M143.5,494.8h0.7M135.4,497.5h0.7M138.6,498.0h0.7M133.6,492.4h0.7M134.0,493.2h0.7M137.7,503.7h0.7M135.3,483.5h0.7M144.7,499.5h0.7M137.4,486.9h0.7M137.7,497.8h0.7M139.3,496.5h0.7M138.8,497.0h0.7M137.7,493.8h0.7M131.8,505.9h0.7M133.8,482.8h0.7M136.1,492.8h0.7M135.0,492.4h0.7M136.8,501.1h0.7M139.7,484.9h0.7M133.2,504.4h0.7M136.2,510.7h0.7M135.0,507.8h0.7M143.5,490.8h0.7M135.4,500.9h0.7M135.4,497.0h0.7M137.8,487.0h0.7M133.0,499.5h0.7M135.4,487.7h0.7M133.8,499.2h0.7M138.8,498.7h0.7M137.9,511.7h0.7M135.3,491.9h0.7M140.9,498.4h0.7M135.5,490.8h0.7M134.6,498.1h0.7M138.6,485.6h0.7M133.0,496.6h0.7M129.0,482.6h0.7M133.0,494.6h0.7M135.8,494.4h0.7M142.9,496.0h0.7M141.2,498.6h0.7M130.0,484.6h0.7M141.2,492.8h0.7M141.7,490.3h0.7M135.7,485.6h0.7M141.5,497.8h0.7M136.8,487.7h0.7M131.7,508.2h0.7M134.2,504.0h0.7M132.0,491.2h0.7M142.9,491.5h0.7M133.1,506.1h0.7M137.2,482.3h0.7M143.0,498.0h0.7M141.4,490.7h0.7M138.5,501.2h0.7M128.1,493.4h0.7M137.5,488.1h0.7M141.1,499.5h0.7" stroke="#3a46a8" stroke-width="0.6" stroke-opacity="0.7" fill="none"/>
<path d="M179.0,513.3h0.7M184.3,532.9h0.7M189.3,530.0h0.7M186.5,532.1h0.7M180.0,514.4h0.7M171.2,528.8h0.7M184.2,524.3h0.7M181.1,518.0h0.7M176.9,538.5h0.7M189.5,529.7h0.7M183.3,521.6h0.7M179.3,529.0h0.7M176.4,523.0h0.7M191.3,516.0h0.7M176.8,536.1h0.7M183.7,525.6h0.7M176.5,515.2h0.7M184.3,520.9h0.7M180.9,510.9h0.7M186.8,528.4h0.7M183.2,527.2h0.7M173.4,525.6h0.7M184.4,524.0h0.7M182.1,517.1h0.7M181.9,533.0h0.7M181.0,533.1h0.7M178.2,519.7h0.7M183.1,518.6h0.7M171.3,526.7h0.7M181.5,528.3h0.7M176.3,521.6h0.7M184.4,521.3h0.7M180.2,526.0h0.7M177.0,526.1h0.7M172.6,527.7h0.7M197.6,528.7h0.7M179.1,513.9h0.7M174.5,522.6h0.7M176.8,527.7h0.7M182.4,529.5h0.7M180.1,529.7h0.7M189.7,518.6h0.7M180.9,523.6h0.7M181.0,532.0h0.7M179.5,518.7h0.7M173.5,514.9h0.7M180.9,530.4h0.7M181.8,519.3h0.7M180.5,518.6h0.7M187.6,525.3h0.7M190.3,528.9h0.7M185.3,518.4h0.7M184.6,522.0h0.7M178.3,525.7h0.7M191.3,527.9h0.7M193.7,529.0h0.7M173.5,521.2h0.7M192.9,528.5h0.7M182.2,521.8h0.7M182.7,527.5h0.7M179.3,524.4h0.7M183.4,517.8h0.7M180.3,520.1h0.7M178.1,519.1h0.7M178.1,519.5h0.7M192.1,523.8h0.7M184.0,519.7h0.7M182.6,527.7h0.7M191.2,536.1h0.7M179.3,536.4h0.7M182.4,532.8h0.7M181.5,529.6h0.7M181.4,516.3h0.7M185.3,523.0h0.7M181.2,526.6h0.7M185.0,540.9h0.7M175.7,521.8h0.7M176.5,533.0h0.7M180.3,521.3h0.7M184.8,525.6h0.7M185.2,515.6h0.7M182.1,528.8h0.7M178.6,533.0h0.7M181.5,520.1h0.7M179.6,528.4h0.7M188.1,522.0h0.7M185.3,522.8h0.7M176.7,518.7h0.7M186.3,522.1h0.7M182.9,535.5h0.7M187.8,522.4h0.7M180.3,526.7h0.7M177.8,529.6h0.7M177.8,522.8h0.7M186.7,529.1h0.7M192.4,522.0h0.7M178.4,534.5h0.7M185.1,517.6h0.7M179.2,527.6h0.7M179.1,515.7h0.7M182.2,527.7h0.7M189.3,531.9h0.7M186.5,519.7h0.7M174.9,518.5h0.7M185.2,530.6h0.7M171.0,528.4h0.7M187.0,534.5h0.7M186.2,530.9h0.7M183.2,523.0h0.7M181.0,524.6h0.7M175.2,524.1h0.7M187.6,522.8h0.7M189.0,519.3h0.7M184.3,519.8h0.7M188.0,529.3h0.7M187.4,530.0h0.7M184.7,531.9h0.7M182.5,528.0h0.7M181.3,531.3h0.7M180.1,526.0h0.7M176.9,523.2h0.7M172.6,526.3h0.7M179.5,520.6h0.7M177.4,518.5h0.7M181.5,524.0h0.7M179.9,533.3h0.7M175.4,522.0h0.7M174.0,523.0h0.7M180.6,513.2h0.7M183.6,511.6h0.7M178.5,522.8h0.7M174.0,533.2h0.7M182.6,516.2h0.7M183.8,527.0h0.7M178.3,519.3h0.7M187.1,539.2h0.7M183.0,538.1h0.7M171.6,514.2h0.7M182.1,520.5h0.7M183.0,536.3h0.7M175.5,527.4h0.7M181.4,516.3h0.7M180.2,517.4h0.7M180.1,534.0h0.7M187.7,531.4h0.7M182.4,521.3h0.7M193.7,524.7h0.7M184.1,531.3h0.7M180.8,527.7h0.7M181.4,526.8h0.7M186.9,516.1h0.7M182.1,521.2h0.7M180.4,526.9h0.7M190.2,511.2h0.7M191.5,520.8h0.7M176.6,519.9h0.7M182.6,525.5h0.7M171.2,514.1h0.7M187.2,523.8h0.7M170.3,522.8h0.7M179.7,534.1h0.7M176.8,520.7h0.7M179.0,526.8h0.7M184.3,528.5h0.7M191.6,523.7h0.7M190.7,525.1h0.7M186.0,530.6h0.7M192.0,518.3h0.7M194.6,512.2h0.7M180.6,523.4h0.7M181.3,533.4h0.7M171.5,517.0h0.7M187.0,535.5h0.7M175.0,520.7h0.7M185.2,528.4h0.7M172.3,523.6h0.7M178.2,516.7h0.7M180.2,519.1h0.7M173.7,538.8h0.7M178.1,517.8h0.7M192.3,521.9h0.7M172.1,533.6h0.7M176.4,521.6h0.7M180.1,525.6h0.7M192.7,514.0h0.7M171.9,534.6h0.7M185.7,529.4h0.7M189.3,524.1h0.7M185.8,531.6h0.7M190.2,526.1h0.7M174.8,520.0h0.7M180.4,522.1h0.7M188.4,517.6h0.7M184.6,521.8h0.7M182.7,534.0h0.7M187.8,520.8h0.7M181.8,531.0h0.7M181.9,531.4h0.7M189.5,522.2h0.7M185.1,537.3h0.7M185.5,520.2h0.7M189.7,524.6h0.7M180.2,527.3h0.7M186.2,521.2h0.7M183.8,528.7h0.7M186.6,524.3h0.7M177.4,525.3h0.7M184.0,526.1h0.7M187.2,526.9h0.7M173.7,528.4h0.7M187.1,513.9h0.7M186.0,530.4h0.7" stroke="#3a46a8" stroke-width="0.6" stroke-opacity="0.7" fill="none"/>
<path d="M158.00,479.20 C159.92,478.72 161.42,478.97 163.00,479.60 C164.58,480.23 166.30,481.27 167.50,483.00 C168.70,484.73 169.58,487.17 170.20,490.00 C170.82,492.83 171.05,496.50 171.20,500.00 C171.35,503.50 171.30,507.50 171.10,511.00 C170.90,514.50 170.60,518.00 170.00,521.00 C169.40,524.00 168.58,526.75 167.50,529.00 C166.42,531.25 165.00,533.28 163.50,534.50 C162.00,535.72 160.17,536.30 158.50,536.30 C156.83,536.30 154.92,535.72 153.50,534.50 C152.08,533.28 150.95,531.42 150.00,529.00 C149.05,526.58 148.32,523.33 147.80,520.00 C147.28,516.67 147.00,512.67 146.90,509.00 C146.80,505.33 146.93,501.33 147.20,498.00 C147.47,494.67 147.78,491.58 148.50,489.00 C149.22,486.42 149.92,484.13 151.50,482.50 C153.08,480.87 156.08,479.68 158.00,479.20 Z" fill="#ffffff" stroke="none"/><path d="M158.00,479.20 C159.92,478.72 161.42,478.97 163.00,479.60 C164.58,480.23 166.30,481.27 167.50,483.00 C168.70,484.73 169.58,487.17 170.20,490.00 C170.82,492.83 171.05,496.50 171.20,500.00 C171.35,503.50 171.30,507.50 171.10,511.00 C170.90,514.50 170.60,518.00 170.00,521.00 C169.40,524.00 168.58,526.75 167.50,529.00 C166.42,531.25 165.00,533.28 163.50,534.50 C162.00,535.72 160.17,536.30 158.50,536.30 C156.83,536.30 154.92,535.72 153.50,534.50 C152.08,533.28 150.95,531.42 150.00,529.00 C149.05,526.58 148.32,523.33 147.80,520.00 C147.28,516.67 147.00,512.67 146.90,509.00 C146.80,505.33 146.93,501.33 147.20,498.00 C147.47,494.67 147.78,491.58 148.50,489.00 C149.22,486.42 149.92,484.13 151.50,482.50 C153.08,480.87 156.08,479.68 158.00,479.20 Z" fill="none" stroke="#1f2a8f" stroke-width="0.5" stroke-opacity="1.0"/><path d="M158.10,480.69 C159.89,480.23 161.28,480.47 162.76,481.07 C164.23,481.67 165.82,482.64 166.94,484.29 C168.06,485.93 168.88,488.23 169.45,490.92 C170.02,493.60 170.24,497.08 170.38,500.39 C170.52,503.71 170.47,507.50 170.29,510.82 C170.10,514.13 169.82,517.45 169.27,520.29 C168.71,523.13 167.95,525.74 166.94,527.87 C165.93,530.00 164.62,531.93 163.22,533.08 C161.83,534.23 160.12,534.79 158.57,534.79 C157.02,534.79 155.24,534.23 153.92,533.08 C152.60,531.93 151.55,530.16 150.66,527.87 C149.78,525.58 149.10,522.50 148.62,519.34 C148.14,516.19 147.87,512.40 147.78,508.92 C147.69,505.45 147.81,501.66 148.06,498.50 C148.31,495.34 148.60,492.42 149.27,489.97 C149.94,487.52 150.59,485.36 152.06,483.81 C153.53,482.27 156.32,481.14 158.10,480.69 Z" fill="none" stroke="#1f2a8f" stroke-width="0.5" stroke-opacity="1.0"/><path d="M158.21,482.17 C159.86,481.74 161.15,481.96 162.51,482.53 C163.87,483.10 165.35,484.02 166.38,485.57 C167.41,487.13 168.17,489.30 168.70,491.84 C169.23,494.37 169.43,497.66 169.56,500.79 C169.69,503.92 169.65,507.50 169.48,510.63 C169.30,513.76 169.05,516.90 168.53,519.58 C168.01,522.27 167.31,524.73 166.38,526.74 C165.45,528.75 164.23,530.57 162.94,531.66 C161.65,532.75 160.07,533.27 158.64,533.27 C157.21,533.27 155.56,532.75 154.34,531.66 C153.12,530.57 152.15,528.90 151.33,526.74 C150.51,524.58 149.88,521.67 149.44,518.69 C148.99,515.70 148.75,512.12 148.66,508.84 C148.58,505.56 148.69,501.98 148.92,499.00 C149.15,496.02 149.42,493.26 150.04,490.94 C150.66,488.63 151.26,486.59 152.62,485.13 C153.98,483.67 156.56,482.61 158.21,482.17 Z" fill="none" stroke="#1f2a8f" stroke-width="0.5" stroke-opacity="1.0"/><path d="M158.31,483.66 C159.83,483.25 161.01,483.46 162.27,484.00 C163.52,484.53 164.87,485.40 165.82,486.86 C166.77,488.32 167.47,490.37 167.95,492.76 C168.44,495.15 168.63,498.23 168.74,501.18 C168.86,504.13 168.82,507.50 168.67,510.45 C168.51,513.40 168.27,516.35 167.80,518.87 C167.32,521.40 166.68,523.72 165.82,525.61 C164.97,527.51 163.85,529.22 162.66,530.24 C161.48,531.27 160.03,531.76 158.71,531.76 C157.39,531.76 155.88,531.27 154.76,530.24 C153.64,529.22 152.74,527.65 151.99,525.61 C151.24,523.58 150.66,520.84 150.26,518.03 C149.85,515.22 149.62,511.85 149.54,508.76 C149.47,505.67 149.57,502.31 149.78,499.50 C149.99,496.69 150.24,494.09 150.81,491.92 C151.37,489.74 151.93,487.82 153.18,486.44 C154.43,485.06 156.80,484.07 158.31,483.66 Z" fill="none" stroke="#1f2a8f" stroke-width="0.5" stroke-opacity="1.0"/><path d="M158.42,485.15 C159.80,484.77 160.88,484.96 162.02,485.46 C163.16,485.96 164.40,486.78 165.26,488.15 C166.13,489.52 166.76,491.44 167.21,493.68 C167.65,495.92 167.82,498.81 167.93,501.58 C168.03,504.34 168.00,507.50 167.85,510.26 C167.71,513.03 167.49,515.79 167.06,518.16 C166.63,520.53 166.04,522.70 165.26,524.48 C164.48,526.26 163.46,527.86 162.38,528.83 C161.30,529.79 159.98,530.25 158.78,530.25 C157.58,530.25 156.20,529.79 155.18,528.83 C154.16,527.86 153.34,526.39 152.66,524.48 C151.97,522.57 151.45,520.01 151.07,517.37 C150.70,514.74 150.50,511.58 150.43,508.68 C150.35,505.79 150.45,502.63 150.64,500.00 C150.83,497.36 151.06,494.93 151.58,492.89 C152.09,490.85 152.60,489.04 153.74,487.75 C154.88,486.46 157.04,485.53 158.42,485.15 Z" fill="none" stroke="#1f2a8f" stroke-width="0.5" stroke-opacity="1.0"/><path d="M158.52,486.63 C159.77,486.28 160.75,486.46 161.78,486.93 C162.81,487.40 163.92,488.16 164.70,489.44 C165.48,490.71 166.06,492.51 166.46,494.60 C166.86,496.69 167.01,499.39 167.11,501.97 C167.20,504.55 167.17,507.50 167.04,510.08 C166.91,512.66 166.72,515.24 166.33,517.45 C165.94,519.67 165.41,521.69 164.70,523.35 C164.00,525.01 163.08,526.51 162.10,527.41 C161.13,528.30 159.93,528.73 158.85,528.73 C157.77,528.73 156.52,528.30 155.60,527.41 C154.68,526.51 153.94,525.13 153.32,523.35 C152.71,521.57 152.23,519.17 151.89,516.72 C151.56,514.26 151.37,511.31 151.31,508.61 C151.24,505.90 151.33,502.95 151.50,500.50 C151.68,498.04 151.88,495.76 152.35,493.86 C152.81,491.96 153.27,490.27 154.30,489.07 C155.33,487.86 157.28,486.99 158.52,486.63 Z" fill="none" stroke="#1f2a8f" stroke-width="0.5" stroke-opacity="1.0"/><path d="M158.63,488.12 C159.74,487.79 160.61,487.96 161.53,488.40 C162.45,488.83 163.45,489.54 164.14,490.72 C164.84,491.91 165.35,493.58 165.71,495.52 C166.07,497.46 166.20,499.97 166.29,502.36 C166.38,504.76 166.35,507.50 166.23,509.90 C166.11,512.29 165.94,514.69 165.59,516.74 C165.24,518.80 164.77,520.68 164.14,522.22 C163.51,523.76 162.69,525.16 161.82,525.99 C160.95,526.82 159.89,527.22 158.92,527.22 C157.95,527.22 156.84,526.82 156.02,525.99 C155.20,525.16 154.54,523.88 153.99,522.22 C153.44,520.57 153.01,518.34 152.71,516.06 C152.41,513.78 152.25,511.04 152.19,508.53 C152.13,506.02 152.21,503.28 152.36,500.99 C152.52,498.71 152.70,496.60 153.12,494.83 C153.53,493.06 153.94,491.50 154.86,490.38 C155.78,489.26 157.52,488.45 158.63,488.12 Z" fill="none" stroke="#1f2a8f" stroke-width="0.5" stroke-opacity="1.0"/><path d="M158.73,489.61 C159.71,489.30 160.48,489.46 161.29,489.86 C162.09,490.26 162.97,490.91 163.58,492.01 C164.19,493.11 164.65,494.64 164.96,496.44 C165.27,498.23 165.39,500.55 165.47,502.76 C165.55,504.97 165.52,507.50 165.42,509.71 C165.32,511.93 165.16,514.14 164.86,516.04 C164.55,517.93 164.14,519.67 163.58,521.09 C163.03,522.52 162.31,523.80 161.54,524.57 C160.78,525.34 159.84,525.71 158.99,525.71 C158.14,525.71 157.16,525.34 156.44,524.57 C155.72,523.80 155.14,522.62 154.65,521.09 C154.17,519.56 153.79,517.51 153.53,515.40 C153.27,513.30 153.12,510.77 153.07,508.45 C153.02,506.13 153.09,503.60 153.22,501.49 C153.36,499.39 153.52,497.44 153.89,495.80 C154.25,494.17 154.61,492.73 155.42,491.69 C156.23,490.66 157.76,489.91 158.73,489.61 Z" fill="none" stroke="#1f2a8f" stroke-width="0.5" stroke-opacity="1.0"/><path d="M158.84,491.09 C159.68,490.81 160.34,490.96 161.04,491.33 C161.74,491.69 162.49,492.29 163.02,493.30 C163.55,494.30 163.94,495.71 164.21,497.36 C164.48,499.00 164.59,501.12 164.65,503.15 C164.72,505.18 164.70,507.50 164.61,509.53 C164.52,511.56 164.39,513.59 164.12,515.33 C163.86,517.06 163.50,518.66 163.02,519.96 C162.55,521.27 161.92,522.45 161.26,523.15 C160.60,523.86 159.79,524.19 159.06,524.19 C158.33,524.19 157.48,523.86 156.86,523.15 C156.23,522.45 155.74,521.36 155.32,519.96 C154.90,518.56 154.58,516.68 154.35,514.75 C154.12,512.81 154.00,510.50 153.95,508.37 C153.91,506.24 153.97,503.93 154.08,501.99 C154.20,500.06 154.34,498.27 154.66,496.78 C154.97,495.28 155.28,493.95 155.98,493.01 C156.67,492.06 158.00,491.38 158.84,491.09 Z" fill="none" stroke="#1f2a8f" stroke-width="0.5" stroke-opacity="1.0"/>
<ellipse cx="160.30" cy="506.90" rx="5.60" ry="17.20" transform="rotate(0 160.30 506.90)" fill="#62b5e6"/>
<ellipse cx="160.50" cy="506.70" rx="4.95" ry="14.85" transform="rotate(0 160.50 506.70)" fill="#36c2b4"/>
<ellipse cx="160.70" cy="506.50" rx="4.30" ry="12.50" transform="rotate(0 160.70 506.50)" fill="#58bb46"/>
<ellipse cx="160.93" cy="506.05" rx="3.67" ry="10.35" transform="rotate(0 160.93 506.05)" fill="#b6d636"/>
<ellipse cx="161.15" cy="505.60" rx="3.05" ry="8.20" transform="rotate(0 161.15 505.60)" fill="#f2e22a"/>
<ellipse cx="161.22" cy="505.78" rx="2.58" ry="6.83" transform="rotate(0 161.22 505.78)" fill="#f39a2a"/>
<ellipse cx="161.30" cy="506.00" rx="2.00" ry="5.15" transform="rotate(0 161.30 506.00)" fill="#e5262a"/>
<ellipse cx="161.20" cy="506.00" rx="0.70" ry="2.00" transform="rotate(0 161.20 506.00)" fill="#ffffff"/>
<clipPath id="cl4"><path d="M136.10,486.00 C136.93,486.00 137.95,486.83 138.60,488.00 C139.25,489.17 139.77,491.00 140.00,493.00 C140.23,495.00 140.20,497.92 140.00,500.00 C139.80,502.08 139.45,504.33 138.80,505.50 C138.15,506.67 137.00,507.00 136.10,507.00 C135.20,507.00 134.05,506.67 133.40,505.50 C132.75,504.33 132.40,502.08 132.20,500.00 C132.00,497.92 131.97,495.00 132.20,493.00 C132.43,491.00 132.95,489.17 133.60,488.00 C134.25,486.83 135.27,486.00 136.10,486.00 Z"/></clipPath>
<g clip-path="url(#cl4)" opacity="1.0"><path d="M136.10,486.00 C136.93,486.00 137.95,486.83 138.60,488.00 C139.25,489.17 139.77,491.00 140.00,493.00 C140.23,495.00 140.20,497.92 140.00,500.00 C139.80,502.08 139.45,504.33 138.80,505.50 C138.15,506.67 137.00,507.00 136.10,507.00 C135.20,507.00 134.05,506.67 133.40,505.50 C132.75,504.33 132.40,502.08 132.20,500.00 C132.00,497.92 131.97,495.00 132.20,493.00 C132.43,491.00 132.95,489.17 133.60,488.00 C134.25,486.83 135.27,486.00 136.10,486.00 Z" fill="#ffffff"/><path d="M136.10,486.00 C136.93,486.00 137.95,486.83 138.60,488.00 C139.25,489.17 139.77,491.00 140.00,493.00 C140.23,495.00 140.20,497.92 140.00,500.00 C139.80,502.08 139.45,504.33 138.80,505.50 C138.15,506.67 137.00,507.00 136.10,507.00 C135.20,507.00 134.05,506.67 133.40,505.50 C132.75,504.33 132.40,502.08 132.20,500.00 C132.00,497.92 131.97,495.00 132.20,493.00 C132.43,491.00 132.95,489.17 133.60,488.00 C134.25,486.83 135.27,486.00 136.10,486.00 Z" fill="none" stroke="#1f2a8f" stroke-width="2.40" stroke-linejoin="round"/><path d="M136.10,486.00 C136.93,486.00 137.95,486.83 138.60,488.00 C139.25,489.17 139.77,491.00 140.00,493.00 C140.23,495.00 140.20,497.92 140.00,500.00 C139.80,502.08 139.45,504.33 138.80,505.50 C138.15,506.67 137.00,507.00 136.10,507.00 C135.20,507.00 134.05,506.67 133.40,505.50 C132.75,504.33 132.40,502.08 132.20,500.00 C132.00,497.92 131.97,495.00 132.20,493.00 C132.43,491.00 132.95,489.17 133.60,488.00 C134.25,486.83 135.27,486.00 136.10,486.00 Z" fill="none" stroke="#ffffff" stroke-width="0.80" stroke-linejoin="round"/><path d="M136.10,486.00 C136.93,486.00 137.95,486.83 138.60,488.00 C139.25,489.17 139.77,491.00 140.00,493.00 C140.23,495.00 140.20,497.92 140.00,500.00 C139.80,502.08 139.45,504.33 138.80,505.50 C138.15,506.67 137.00,507.00 136.10,507.00 C135.20,507.00 134.05,506.67 133.40,505.50 C132.75,504.33 132.40,502.08 132.20,500.00 C132.00,497.92 131.97,495.00 132.20,493.00 C132.43,491.00 132.95,489.17 133.60,488.00 C134.25,486.83 135.27,486.00 136.10,486.00 Z" fill="none" stroke="#1f2a8f" stroke-width="0.80" stroke-linejoin="round"/></g>
<ellipse cx="136.10" cy="496.50" rx="1.30" ry="2.20" transform="rotate(0 136.10 496.50)" fill="none" stroke="#2c3896" stroke-width="0.45" stroke-opacity="1"/>
<ellipse cx="136.10" cy="500.00" rx="1.10" ry="1.60" transform="rotate(0 136.10 500.00)" fill="none" stroke="#2c3896" stroke-width="0.45" stroke-opacity="1"/>
<ellipse cx="182.00" cy="524.00" rx="3.20" ry="3.00" transform="rotate(0 182.00 524.00)" fill="none" stroke="#2c3896" stroke-width="0.4" stroke-opacity="0.6"/>
<ellipse cx="182.00" cy="524.00" rx="1.50" ry="1.40" transform="rotate(0 182.00 524.00)" fill="none" stroke="#2c3896" stroke-width="0.4" stroke-opacity="0.6"/>
<line x1="115.50" y1="453.20" x2="115.50" y2="542.50" stroke="#3b4790" stroke-width="1.0"/>
<line x1="115.50" y1="542.50" x2="201.50" y2="542.50" stroke="#3b4790" stroke-width="1.0"/>
<line x1="114.30" y1="523.09" x2="115.50" y2="523.09" stroke="#3b4790" stroke-width="0.6"/>
<line x1="114.30" y1="503.67" x2="115.50" y2="503.67" stroke="#3b4790" stroke-width="0.6"/>
<line x1="114.30" y1="484.26" x2="115.50" y2="484.26" stroke="#3b4790" stroke-width="0.6"/>
<line x1="114.30" y1="464.85" x2="115.50" y2="464.85" stroke="#3b4790" stroke-width="0.6"/>
<line x1="134.20" y1="542.50" x2="134.20" y2="543.70" stroke="#3b4790" stroke-width="0.6"/>
<line x1="152.89" y1="542.50" x2="152.89" y2="543.70" stroke="#3b4790" stroke-width="0.6"/>
<line x1="171.59" y1="542.50" x2="171.59" y2="543.70" stroke="#3b4790" stroke-width="0.6"/>
<line x1="190.28" y1="542.50" x2="190.28" y2="543.70" stroke="#3b4790" stroke-width="0.6"/>
<rect x="142.60" y="513.00" width="31.10" height="29.40" fill="none" stroke="#4450a0" stroke-width="0.9"/>
<rect x="173.70" y="513.00" width="26.80" height="29.40" fill="none" stroke="#c8506a" stroke-width="0.9"/>
<line x1="187.60" y1="479.20" x2="187.60" y2="518.20" stroke="#d0303a" stroke-width="0.9"/>
<text x="178.00" y="473.50" font-size="8.8" fill="#d42a2a" stroke="#d42a2a" stroke-width="0.22" text-anchor="middle" textLength="51.90" lengthAdjust="spacingAndGlyphs">CD38<tspan dy="-3.17" font-size="5.46">-</tspan><tspan dy="3.17">CD34</tspan><tspan dy="-1.50" font-size="7.04">++</tspan></text>
<path d="M142.20,542.40 L145.80,549.30 L198.40,549.30 L200.40,542.40" fill="none" stroke="#4450a0" stroke-width="0.9" stroke-linejoin="round"/>
<text x="170.40" y="556.20" font-size="8.8" fill="#3a4a9a" stroke="#3a4a9a" stroke-width="0.22" text-anchor="middle" textLength="48.40" lengthAdjust="spacingAndGlyphs">CD38<tspan dy="-3.17" font-size="5.46">-</tspan><tspan dy="3.17">CD34</tspan><tspan dy="-1.50" font-size="7.04">+</tspan></text>
<line x1="257.50" y1="454.60" x2="257.50" y2="543.70" stroke="#111" stroke-width="0.9"/>
<line x1="257.05" y1="541.50" x2="320.00" y2="541.50" stroke="#111" stroke-width="0.9"/>
<line x1="254.30" y1="457.20" x2="257.50" y2="457.20" stroke="#111" stroke-width="0.8"/>
<text x="250.90" y="460.10" font-size="8.6" fill="#0a0a0a" stroke="#0a0a0a" stroke-width="0.22" text-anchor="end" textLength="12.31" lengthAdjust="spacingAndGlyphs">1.0</text>
<line x1="254.30" y1="474.20" x2="257.50" y2="474.20" stroke="#111" stroke-width="0.8"/>
<text x="250.90" y="477.10" font-size="8.6" fill="#0a0a0a" stroke="#0a0a0a" stroke-width="0.22" text-anchor="end" textLength="12.31" lengthAdjust="spacingAndGlyphs">0.8</text>
<line x1="254.30" y1="491.10" x2="257.50" y2="491.10" stroke="#111" stroke-width="0.8"/>
<text x="250.90" y="494.00" font-size="8.6" fill="#0a0a0a" stroke="#0a0a0a" stroke-width="0.22" text-anchor="end" textLength="12.31" lengthAdjust="spacingAndGlyphs">0.6</text>
<line x1="254.30" y1="508.00" x2="257.50" y2="508.00" stroke="#111" stroke-width="0.8"/>
<text x="250.90" y="510.90" font-size="8.6" fill="#0a0a0a" stroke="#0a0a0a" stroke-width="0.22" text-anchor="end" textLength="12.31" lengthAdjust="spacingAndGlyphs">0.4</text>
<line x1="254.30" y1="525.00" x2="257.50" y2="525.00" stroke="#111" stroke-width="0.8"/>
<text x="250.90" y="527.90" font-size="8.6" fill="#0a0a0a" stroke="#0a0a0a" stroke-width="0.22" text-anchor="end" textLength="12.31" lengthAdjust="spacingAndGlyphs">0.2</text>
<line x1="254.30" y1="541.80" x2="257.50" y2="541.80" stroke="#111" stroke-width="0.8"/>
<text x="250.90" y="544.70" font-size="8.6" fill="#0a0a0a" stroke="#0a0a0a" stroke-width="0.22" text-anchor="end" textLength="12.31" lengthAdjust="spacingAndGlyphs">0.0</text>
<line x1="288.30" y1="541.50" x2="288.30" y2="543.70" stroke="#111" stroke-width="0.8"/>
<line x1="319.50" y1="541.50" x2="319.50" y2="543.70" stroke="#111" stroke-width="0.8"/>
<rect x="266.70" y="482.50" width="12.50" height="59.30" fill="#2d4d8b" stroke="none" stroke-width="0.8"/>
<line x1="273.00" y1="467.30" x2="273.00" y2="497.60" stroke="#111" stroke-width="0.8"/>
<line x1="270.80" y1="467.30" x2="275.20" y2="467.30" stroke="#111" stroke-width="0.8"/>
<line x1="270.80" y1="497.60" x2="275.20" y2="497.60" stroke="#111" stroke-width="0.8"/>
<text x="273.00" y="464.19" font-size="7.4" fill="#0a0a0a" stroke="#0a0a0a" stroke-width="0.22" text-anchor="middle" textLength="8.90" lengthAdjust="spacingAndGlyphs">***</text>
<text x="272.80" y="556.00" font-size="8.6" fill="#0a0a0a" stroke="#0a0a0a" stroke-width="0.22" text-anchor="middle" textLength="12.31" lengthAdjust="spacingAndGlyphs">CB</text>
<text x="304.10" y="556.00" font-size="8.6" fill="#0a0a0a" stroke="#0a0a0a" stroke-width="0.22" text-anchor="middle" textLength="11.82" lengthAdjust="spacingAndGlyphs">PB</text>
<text x="110.70" y="589.00" font-size="10.6" fill="#0a0a0a" stroke="#0a0a0a" stroke-width="0.22" text-anchor="middle" textLength="32.60" lengthAdjust="spacingAndGlyphs">CD90<tspan dy="-1.80" font-size="8.48">+</tspan></text>
<text x="67.00" y="604.90" font-size="10.6" fill="#0a0a0a" stroke="#0a0a0a" stroke-width="0.22" text-anchor="middle" textLength="32.30" lengthAdjust="spacingAndGlyphs">CD34<tspan dy="-1.80" font-size="8.48">+</tspan></text>
<text x="155.80" y="604.90" font-size="10.6" fill="#0a0a0a" stroke="#0a0a0a" stroke-width="0.22" text-anchor="middle" textLength="38.10" lengthAdjust="spacingAndGlyphs">CD34<tspan dy="-1.80" font-size="8.48">++</tspan></text>
<path d="M37.7,647.3h0.7M30.2,653.6h0.7M36.9,649.6h0.7M36.4,658.7h0.7M39.9,656.2h0.7M34.2,643.8h0.7M30.7,645.3h0.7M36.3,647.8h0.7M39.7,644.4h0.7M36.8,652.9h0.7M28.1,660.1h0.7M36.3,651.7h0.7M30.6,642.5h0.7M43.7,643.2h0.7M33.6,650.7h0.7M42.7,649.2h0.7M39.9,639.5h0.7M37.1,659.2h0.7M35.1,642.4h0.7M33.5,643.2h0.7M39.4,648.6h0.7M33.2,653.1h0.7M30.3,636.4h0.7M43.4,646.5h0.7M34.5,651.1h0.7M31.5,640.8h0.7M34.6,644.2h0.7M39.1,661.8h0.7M29.9,640.6h0.7M39.2,651.0h0.7M41.0,641.6h0.7M38.5,646.8h0.7M27.7,650.5h0.7M28.0,651.2h0.7M33.4,645.7h0.7M45.9,658.6h0.7M37.7,650.1h0.7M31.9,656.5h0.7M38.6,640.7h0.7M27.6,647.1h0.7M34.7,653.7h0.7M30.6,640.5h0.7M37.6,647.8h0.7M40.2,655.6h0.7M35.9,641.7h0.7M35.1,647.9h0.7M32.9,651.0h0.7M36.1,648.9h0.7M41.9,656.9h0.7M41.4,650.0h0.7M36.3,651.4h0.7M37.1,641.7h0.7M37.5,654.1h0.7M33.6,639.0h0.7M38.4,641.5h0.7M28.4,645.3h0.7M28.6,649.7h0.7M33.1,647.8h0.7M41.1,655.6h0.7M33.3,638.4h0.7M39.9,658.9h0.7M39.0,652.0h0.7M38.3,652.3h0.7M33.8,653.9h0.7M34.1,638.5h0.7M35.9,659.1h0.7M34.7,633.9h0.7M41.6,649.0h0.7M38.3,643.7h0.7M37.9,659.3h0.7M32.5,652.4h0.7M37.3,640.7h0.7M36.5,651.6h0.7M31.6,655.9h0.7M30.3,655.9h0.7M38.6,649.1h0.7M31.9,641.3h0.7M35.0,651.4h0.7M40.5,648.7h0.7M34.0,654.6h0.7M35.6,647.0h0.7M30.0,655.1h0.7M32.4,661.7h0.7M31.5,643.6h0.7M36.1,642.0h0.7M28.6,638.7h0.7M31.7,645.4h0.7M40.3,652.2h0.7M37.2,653.3h0.7M33.0,639.5h0.7M37.9,642.3h0.7M30.4,653.8h0.7M32.5,645.3h0.7M28.4,653.9h0.7M35.8,657.9h0.7M33.9,641.3h0.7M43.5,645.7h0.7M38.6,649.0h0.7M36.4,648.7h0.7M35.0,649.0h0.7M30.8,651.7h0.7M33.2,648.4h0.7M43.5,648.8h0.7M30.7,649.9h0.7M28.7,648.5h0.7M42.3,639.3h0.7M34.9,640.7h0.7M36.5,649.6h0.7M36.5,645.1h0.7M26.6,640.5h0.7M33.5,653.2h0.7M26.1,655.3h0.7M32.0,634.8h0.7M42.6,649.7h0.7M31.2,649.2h0.7M38.5,636.6h0.7M41.7,640.9h0.7M39.5,643.0h0.7M28.1,642.8h0.7M33.2,648.1h0.7M27.7,639.8h0.7M37.1,644.4h0.7M33.1,650.4h0.7M29.3,661.9h0.7M32.1,649.9h0.7M34.8,654.5h0.7M33.5,641.4h0.7M36.8,651.6h0.7M39.2,657.3h0.7M41.6,654.7h0.7M34.7,659.1h0.7M33.8,648.2h0.7M42.2,654.0h0.7M30.5,644.9h0.7M31.4,655.6h0.7M33.9,647.3h0.7M32.4,643.4h0.7M38.7,639.7h0.7M35.8,643.5h0.7M33.9,637.7h0.7M41.0,635.3h0.7M29.8,644.0h0.7M35.9,641.6h0.7M27.9,643.6h0.7M30.8,642.1h0.7M43.1,632.0h0.7M35.4,649.8h0.7M33.6,644.4h0.7M40.5,645.5h0.7M27.4,644.3h0.7M37.2,644.2h0.7M32.8,648.3h0.7M33.2,647.9h0.7M38.5,642.4h0.7M28.1,656.6h0.7M37.3,641.3h0.7M28.9,647.0h0.7M36.4,650.5h0.7M37.2,643.8h0.7M33.6,635.9h0.7M32.0,643.5h0.7M40.5,637.4h0.7M44.2,653.5h0.7M33.1,642.6h0.7M36.5,649.8h0.7M38.8,634.4h0.7M33.9,650.6h0.7M39.7,650.2h0.7M35.1,649.2h0.7M33.0,659.4h0.7M39.7,649.8h0.7M32.8,646.6h0.7M37.2,647.6h0.7M43.0,661.9h0.7M40.0,638.7h0.7M38.7,643.3h0.7M35.5,661.1h0.7M27.5,637.2h0.7M32.6,652.6h0.7M33.6,632.8h0.7M37.3,651.7h0.7M41.2,647.8h0.7M40.7,642.8h0.7M39.6,655.6h0.7M34.3,644.3h0.7M41.2,641.7h0.7M31.4,647.4h0.7M38.2,653.7h0.7M33.3,650.8h0.7M31.5,638.8h0.7M28.5,649.4h0.7M32.1,652.3h0.7M40.3,649.0h0.7M31.3,657.8h0.7M40.3,644.6h0.7M40.8,651.5h0.7M29.7,641.5h0.7M36.3,639.3h0.7M28.2,643.4h0.7M38.8,647.9h0.7M38.9,645.0h0.7M39.1,646.0h0.7M33.0,648.2h0.7M31.9,642.8h0.7M40.1,654.4h0.7M32.6,643.7h0.7M45.9,650.6h0.7M33.4,637.8h0.7M43.2,656.0h0.7M31.4,651.6h0.7M30.9,644.4h0.7M40.3,644.7h0.7M32.1,636.2h0.7M38.0,645.2h0.7M29.6,661.5h0.7" stroke="#5a64b4" stroke-width="0.6" stroke-opacity="0.55" fill="none"/>
<path d="M27.1,664.7h0.7M38.3,663.2h0.7M27.5,651.4h0.7M39.8,667.8h0.7M30.4,658.4h0.7M28.5,669.7h0.7M45.3,666.1h0.7M34.1,681.8h0.7M33.7,672.1h0.7M27.1,659.7h0.7M44.0,665.3h0.7M34.5,666.6h0.7M54.4,683.6h0.7M35.0,680.1h0.7M45.3,659.9h0.7M40.4,679.4h0.7M36.3,681.6h0.7M44.5,672.6h0.7M33.7,683.3h0.7M37.3,677.3h0.7M49.9,677.0h0.7M35.9,656.6h0.7M38.8,676.8h0.7M40.5,679.2h0.7M41.3,675.4h0.7M37.3,679.5h0.7M31.6,661.1h0.7M29.5,673.9h0.7M35.0,676.3h0.7M29.2,673.4h0.7M36.6,666.3h0.7M36.8,670.5h0.7M28.7,668.6h0.7M34.8,665.2h0.7M26.4,672.5h0.7M38.9,673.1h0.7M26.9,660.4h0.7M28.9,674.9h0.7M30.6,671.6h0.7M48.8,650.5h0.7M34.6,672.3h0.7M34.5,677.1h0.7M40.4,689.4h0.7M31.9,665.2h0.7M27.6,657.8h0.7M48.9,667.2h0.7M48.6,661.1h0.7M36.0,656.0h0.7M28.1,658.4h0.7M36.4,677.2h0.7M34.8,687.7h0.7M31.8,668.5h0.7" stroke="#5a64b4" stroke-width="0.6" stroke-opacity="0.55" fill="none"/>
<path d="M36.50,656.20 C37.70,656.13 38.92,656.37 40.00,657.00 C41.08,657.63 42.22,658.33 43.00,660.00 C43.78,661.67 44.37,664.50 44.70,667.00 C45.03,669.50 45.03,672.33 45.00,675.00 C44.97,677.67 45.00,680.75 44.50,683.00 C44.00,685.25 43.17,687.33 42.00,688.50 C40.83,689.67 39.08,689.83 37.50,690.00 C35.92,690.17 33.92,690.17 32.50,689.50 C31.08,688.83 29.80,687.75 29.00,686.00 C28.20,684.25 27.87,681.67 27.70,679.00 C27.53,676.33 27.65,672.75 28.00,670.00 C28.35,667.25 29.00,664.60 29.80,662.50 C30.60,660.40 31.68,658.45 32.80,657.40 C33.92,656.35 35.30,656.27 36.50,656.20 Z" fill="#e4e7f7" stroke="none"/><path d="M36.50,656.20 C37.70,656.13 38.92,656.37 40.00,657.00 C41.08,657.63 42.22,658.33 43.00,660.00 C43.78,661.67 44.37,664.50 44.70,667.00 C45.03,669.50 45.03,672.33 45.00,675.00 C44.97,677.67 45.00,680.75 44.50,683.00 C44.00,685.25 43.17,687.33 42.00,688.50 C40.83,689.67 39.08,689.83 37.50,690.00 C35.92,690.17 33.92,690.17 32.50,689.50 C31.08,688.83 29.80,687.75 29.00,686.00 C28.20,684.25 27.87,681.67 27.70,679.00 C27.53,676.33 27.65,672.75 28.00,670.00 C28.35,667.25 29.00,664.60 29.80,662.50 C30.60,660.40 31.68,658.45 32.80,657.40 C33.92,656.35 35.30,656.27 36.50,656.20 Z" fill="none" stroke="#3a46a6" stroke-width="0.5" stroke-opacity="0.85"/><path d="M36.48,657.61 C37.58,657.54 38.69,657.76 39.68,658.35 C40.67,658.94 41.70,659.59 42.42,661.14 C43.13,662.68 43.67,665.32 43.97,667.64 C44.28,669.96 44.28,672.59 44.25,675.07 C44.22,677.55 44.25,680.41 43.79,682.50 C43.33,684.59 42.57,686.53 41.51,687.61 C40.44,688.70 38.84,688.85 37.40,689.01 C35.95,689.16 34.12,689.16 32.83,688.54 C31.54,687.92 30.36,686.92 29.63,685.29 C28.90,683.66 28.60,681.26 28.45,678.79 C28.29,676.31 28.40,672.98 28.72,670.43 C29.04,667.87 29.63,665.41 30.36,663.46 C31.09,661.51 32.08,659.70 33.10,658.72 C34.12,657.75 35.39,657.67 36.48,657.61 Z" fill="none" stroke="#3a46a6" stroke-width="0.5" stroke-opacity="0.85"/><path d="M36.47,659.01 C37.46,658.95 38.46,659.15 39.36,659.70 C40.25,660.24 41.19,660.84 41.84,662.27 C42.49,663.70 42.97,666.13 43.24,668.28 C43.52,670.42 43.52,672.85 43.49,675.14 C43.46,677.43 43.49,680.08 43.08,682.01 C42.66,683.94 41.98,685.72 41.01,686.72 C40.05,687.73 38.60,687.87 37.29,688.01 C35.98,688.15 34.33,688.15 33.16,687.58 C31.99,687.01 30.93,686.08 30.27,684.58 C29.60,683.08 29.33,680.86 29.19,678.57 C29.05,676.29 29.15,673.21 29.44,670.85 C29.73,668.49 30.27,666.22 30.93,664.42 C31.59,662.62 32.48,660.94 33.41,660.04 C34.33,659.14 35.47,659.07 36.47,659.01 Z" fill="none" stroke="#3a46a6" stroke-width="0.5" stroke-opacity="0.85"/><path d="M36.45,660.42 C37.34,660.37 38.24,660.55 39.04,661.05 C39.84,661.55 40.68,662.10 41.26,663.41 C41.84,664.72 42.27,666.95 42.52,668.92 C42.76,670.88 42.76,673.11 42.74,675.21 C42.71,677.31 42.74,679.74 42.37,681.51 C42.00,683.28 41.38,684.92 40.52,685.84 C39.65,686.76 38.36,686.89 37.19,687.02 C36.02,687.15 34.54,687.15 33.49,686.62 C32.44,686.10 31.49,685.25 30.90,683.87 C30.31,682.49 30.06,680.46 29.94,678.36 C29.81,676.26 29.90,673.44 30.16,671.28 C30.42,669.11 30.90,667.03 31.49,665.38 C32.08,663.72 32.88,662.19 33.71,661.36 C34.54,660.54 35.56,660.47 36.45,660.42 Z" fill="none" stroke="#3a46a6" stroke-width="0.5" stroke-opacity="0.85"/><path d="M36.43,661.82 C37.21,661.78 38.01,661.94 38.72,662.40 C39.42,662.85 40.16,663.35 40.68,664.54 C41.19,665.74 41.57,667.77 41.79,669.56 C42.00,671.35 42.00,673.37 41.98,675.28 C41.96,677.19 41.98,679.40 41.66,681.01 C41.33,682.62 40.79,684.11 40.02,684.95 C39.26,685.79 38.12,685.90 37.08,686.02 C36.05,686.14 34.74,686.14 33.82,685.67 C32.89,685.19 32.05,684.41 31.53,683.16 C31.01,681.91 30.79,680.06 30.68,678.15 C30.57,676.24 30.65,673.67 30.88,671.70 C31.11,669.74 31.53,667.84 32.05,666.33 C32.58,664.83 33.28,663.43 34.01,662.68 C34.74,661.93 35.65,661.87 36.43,661.82 Z" fill="none" stroke="#3a46a6" stroke-width="0.5" stroke-opacity="0.85"/><path d="M36.41,663.23 C37.09,663.19 37.78,663.34 38.40,663.75 C39.01,664.15 39.65,664.61 40.10,665.68 C40.54,666.76 40.87,668.58 41.06,670.20 C41.25,671.81 41.25,673.64 41.23,675.36 C41.21,677.07 41.23,679.06 40.95,680.51 C40.66,681.97 40.19,683.31 39.53,684.06 C38.87,684.81 37.88,684.92 36.98,685.03 C36.08,685.14 34.95,685.14 34.15,684.71 C33.34,684.28 32.62,683.58 32.16,682.45 C31.71,681.32 31.52,679.65 31.43,677.93 C31.33,676.21 31.40,673.90 31.60,672.13 C31.80,670.36 32.16,668.65 32.62,667.29 C33.07,665.94 33.68,664.68 34.32,664.00 C34.95,663.33 35.73,663.27 36.41,663.23 Z" fill="none" stroke="#3a46a6" stroke-width="0.5" stroke-opacity="0.85"/><path d="M36.40,664.64 C36.97,664.60 37.56,664.73 38.08,665.09 C38.59,665.46 39.14,665.86 39.51,666.82 C39.89,667.77 40.17,669.40 40.33,670.83 C40.49,672.27 40.49,673.90 40.47,675.43 C40.46,676.96 40.47,678.73 40.23,680.02 C39.99,681.31 39.59,682.50 39.03,683.17 C38.47,683.84 37.64,683.94 36.88,684.04 C36.12,684.13 35.16,684.13 34.48,683.75 C33.80,683.37 33.18,682.74 32.80,681.74 C32.41,680.74 32.25,679.25 32.17,677.72 C32.09,676.19 32.15,674.13 32.32,672.56 C32.49,670.98 32.80,669.46 33.18,668.25 C33.57,667.05 34.09,665.93 34.62,665.32 C35.16,664.72 35.82,664.67 36.40,664.64 Z" fill="none" stroke="#3a46a6" stroke-width="0.5" stroke-opacity="0.85"/>
<ellipse cx="36.30" cy="675.50" rx="5.60" ry="11.00" transform="rotate(14 36.30 675.50)" fill="#62b5e6"/>
<ellipse cx="36.30" cy="675.55" rx="5.15" ry="9.80" transform="rotate(14 36.30 675.55)" fill="#36c2b4"/>
<ellipse cx="36.30" cy="675.60" rx="4.70" ry="8.60" transform="rotate(14 36.30 675.60)" fill="#58bb46"/>
<ellipse cx="36.20" cy="675.70" rx="4.05" ry="7.50" transform="rotate(14 36.20 675.70)" fill="#b6d636"/>
<ellipse cx="36.10" cy="675.80" rx="3.40" ry="6.40" transform="rotate(14 36.10 675.80)" fill="#f2e22a"/>
<ellipse cx="36.01" cy="676.12" rx="2.86" ry="5.41" transform="rotate(14 36.01 676.12)" fill="#f39a2a"/>
<ellipse cx="35.90" cy="676.50" rx="2.20" ry="4.20" transform="rotate(14 35.90 676.50)" fill="#e5262a"/>
<ellipse cx="35.80" cy="676.90" rx="0.80" ry="1.90" transform="rotate(14 35.80 676.90)" fill="#ffffff"/>
<line x1="24.50" y1="608.10" x2="24.50" y2="691.50" stroke="#5a64ac" stroke-width="1.0"/>
<line x1="24.50" y1="691.50" x2="108.10" y2="691.50" stroke="#5a64ac" stroke-width="1.0"/>
<line x1="23.30" y1="673.37" x2="24.50" y2="673.37" stroke="#5a64ac" stroke-width="0.6"/>
<line x1="23.30" y1="655.24" x2="24.50" y2="655.24" stroke="#5a64ac" stroke-width="0.6"/>
<line x1="23.30" y1="637.11" x2="24.50" y2="637.11" stroke="#5a64ac" stroke-width="0.6"/>
<line x1="23.30" y1="618.98" x2="24.50" y2="618.98" stroke="#5a64ac" stroke-width="0.6"/>
<line x1="42.67" y1="691.50" x2="42.67" y2="692.70" stroke="#5a64ac" stroke-width="0.6"/>
<line x1="60.85" y1="691.50" x2="60.85" y2="692.70" stroke="#5a64ac" stroke-width="0.6"/>
<line x1="79.02" y1="691.50" x2="79.02" y2="692.70" stroke="#5a64ac" stroke-width="0.6"/>
<line x1="97.20" y1="691.50" x2="97.20" y2="692.70" stroke="#5a64ac" stroke-width="0.6"/>
<rect x="24.90" y="628.30" width="34.70" height="35.70" fill="none" stroke="#7b80c6" stroke-width="0.8"/>
<text x="71.50" y="635.00" font-size="8.3" fill="#4a5590" stroke="#4a5590" stroke-width="0.22" textLength="26.90" lengthAdjust="spacingAndGlyphs">10.59%</text>
<path d="M130.7,671.2h0.7M122.8,688.3h0.7M117.4,668.4h0.7M132.8,675.0h0.7M131.0,657.9h0.7M138.7,661.0h0.7M126.8,668.3h0.7M127.1,662.8h0.7M136.7,669.0h0.7M130.9,666.1h0.7M129.7,670.5h0.7M129.9,667.3h0.7M127.7,669.7h0.7M128.6,668.9h0.7M124.8,672.8h0.7M121.9,689.4h0.7M132.5,683.9h0.7M126.4,655.1h0.7M117.9,660.1h0.7M123.3,664.2h0.7M124.9,674.6h0.7M125.0,669.7h0.7M116.1,670.7h0.7M118.2,673.2h0.7M128.8,669.9h0.7M126.0,665.3h0.7M125.1,677.3h0.7M127.6,670.6h0.7M141.8,669.0h0.7M132.4,657.5h0.7M119.9,666.1h0.7M127.9,677.6h0.7M126.3,661.5h0.7M131.2,658.3h0.7M118.2,656.7h0.7M125.0,663.7h0.7M127.0,668.5h0.7M141.5,672.2h0.7M128.0,659.4h0.7M140.3,663.4h0.7M124.6,669.1h0.7M125.5,673.5h0.7M125.3,671.1h0.7M129.5,684.9h0.7M121.1,662.2h0.7M131.9,662.6h0.7M127.7,665.6h0.7M130.7,666.6h0.7M139.4,668.5h0.7M127.6,658.3h0.7M131.0,673.8h0.7M143.2,659.9h0.7M127.8,678.7h0.7M138.3,668.7h0.7M126.8,680.6h0.7M128.7,671.0h0.7M132.3,660.1h0.7M138.8,664.5h0.7M127.0,664.1h0.7M124.8,667.9h0.7" stroke="#5a64b4" stroke-width="0.6" stroke-opacity="0.55" fill="none"/>
<path d="M117.71,642.62 C118.05,641.83 119.30,641.19 120.10,641.19 C120.89,641.19 121.60,642.62 122.48,642.62 C123.35,642.62 124.38,641.27 125.33,641.19 C126.29,641.11 127.24,642.30 128.19,642.14 C129.14,641.98 130.02,640.79 131.05,640.24 C132.08,639.68 133.46,638.81 134.38,638.81 C135.30,638.81 136.30,639.37 136.57,640.24 C136.84,641.11 135.81,642.78 136.00,644.05 C136.19,645.32 137.49,646.43 137.71,647.86 C137.94,649.29 137.65,651.19 137.33,652.62 C137.02,654.05 135.97,655.32 135.81,656.43 C135.65,657.54 136.54,658.30 136.38,659.29 C136.22,660.27 135.75,661.70 134.86,662.33 C133.97,662.97 131.90,662.46 131.05,663.10 C130.19,663.73 130.27,665.48 129.71,666.14 C129.16,666.81 128.29,667.41 127.71,667.10 C127.14,666.78 126.84,664.65 126.29,664.24 C125.73,663.83 125.05,664.46 124.38,664.62 C123.71,664.78 122.86,665.44 122.29,665.19 C121.71,664.94 121.08,663.89 120.95,663.10 C120.83,662.30 121.83,661.19 121.52,660.43 C121.22,659.67 119.81,659.35 119.14,658.52 C118.48,657.70 117.95,656.46 117.52,655.48 C117.10,654.49 116.63,653.73 116.57,652.62 C116.51,651.51 116.89,649.92 117.14,648.81 C117.40,647.70 118.00,646.98 118.10,645.95 C118.19,644.92 117.38,643.41 117.71,642.62 Z" fill="#8ec8ec" stroke="#25309a" stroke-width="1.5" stroke-linejoin="round"/>
<path d="M119.62,644.52 C120.25,643.73 121.52,644.21 122.48,644.05 C123.43,643.89 124.30,643.57 125.33,643.57 C126.37,643.57 127.56,644.29 128.67,644.05 C129.78,643.81 131.05,642.54 132.00,642.14 C132.95,641.75 133.90,641.11 134.38,641.67 C134.86,642.22 134.65,644.29 134.86,645.48 C135.06,646.67 135.54,647.46 135.62,648.81 C135.70,650.16 135.62,652.14 135.33,653.57 C135.05,655.00 134.38,656.11 133.90,657.38 C133.43,658.65 133.27,660.48 132.48,661.19 C131.68,661.90 130.17,661.67 129.14,661.67 C128.11,661.67 127.24,661.11 126.29,661.19 C125.33,661.27 124.06,662.46 123.43,662.14 C122.79,661.83 122.95,660.08 122.48,659.29 C122.00,658.49 121.13,658.33 120.57,657.38 C120.02,656.43 119.46,655.00 119.14,653.57 C118.83,652.14 118.59,650.32 118.67,648.81 C118.75,647.30 118.98,645.32 119.62,644.52 Z" fill="#5cc0c8" stroke="#3a48b0" stroke-width="0.5"/>
<path d="M120.10,647.38 C120.70,646.51 122.16,645.63 123.43,645.48 C124.70,645.32 126.29,646.67 127.71,646.43 C129.14,646.19 130.81,644.37 132.00,644.05 C133.19,643.73 134.38,643.81 134.86,644.52 C135.33,645.24 135.10,647.14 134.86,648.33 C134.62,649.52 133.98,650.48 133.43,651.67 C132.87,652.86 132.32,654.68 131.52,655.48 C130.73,656.27 129.54,656.43 128.67,656.43 C127.79,656.43 127.16,655.63 126.29,655.48 C125.41,655.32 124.35,655.79 123.43,655.48 C122.51,655.16 121.37,654.37 120.76,653.57 C120.16,652.78 119.92,651.75 119.81,650.71 C119.70,649.68 119.49,648.25 120.10,647.38 Z" fill="#7cc44a"/>
<path d="M121.05,648.33 C121.57,647.43 123.19,646.83 124.38,646.71 C125.57,646.60 126.92,647.87 128.19,647.67 C129.46,647.46 130.95,645.79 132.00,645.48 C133.05,645.16 134.13,645.21 134.48,645.76 C134.83,646.32 134.48,647.95 134.10,648.81 C133.71,649.67 132.73,650.03 132.19,650.90 C131.65,651.78 131.43,653.38 130.86,654.05 C130.29,654.71 129.52,654.98 128.76,654.90 C128.00,654.83 127.17,653.79 126.29,653.57 C125.40,653.35 124.27,653.81 123.43,653.57 C122.59,653.33 121.63,653.02 121.24,652.14 C120.84,651.27 120.52,649.24 121.05,648.33 Z" fill="#f0e43a"/>
<path d="M121.14,648.81 C121.52,648.27 122.62,647.67 123.24,647.67 C123.86,647.67 124.51,648.22 124.86,648.81 C125.21,649.40 125.44,650.46 125.33,651.19 C125.22,651.92 124.76,652.92 124.19,653.19 C123.62,653.46 122.44,653.19 121.90,652.81 C121.37,652.43 121.08,651.57 120.95,650.90 C120.83,650.24 120.76,649.35 121.14,648.81 Z" fill="#f29a2c"/>
<ellipse cx="123.05" cy="650.52" rx="1.9" ry="2.3" fill="none" stroke="#e0262a" stroke-width="1.3"/>
<circle cx="129.62" cy="650.24" r="1.33" fill="#9ec8ee" stroke="#4a56b4" stroke-width="0.4"/>
<circle cx="131.05" cy="657.86" r="1.14" fill="#9ec8ee" stroke="#4a56b4" stroke-width="0.4"/>
<circle cx="125.33" cy="658.33" r="0.95" fill="#9ec8ee" stroke="#4a56b4" stroke-width="0.4"/>
<circle cx="133.90" cy="640.71" r="0.95" fill="#9ec8ee" stroke="#4a56b4" stroke-width="0.4"/>
<line x1="114.50" y1="607.70" x2="114.50" y2="691.50" stroke="#5a64ac" stroke-width="1.0"/>
<line x1="114.50" y1="691.50" x2="198.30" y2="691.50" stroke="#5a64ac" stroke-width="1.0"/>
<line x1="113.30" y1="673.28" x2="114.50" y2="673.28" stroke="#5a64ac" stroke-width="0.6"/>
<line x1="113.30" y1="655.07" x2="114.50" y2="655.07" stroke="#5a64ac" stroke-width="0.6"/>
<line x1="113.30" y1="636.85" x2="114.50" y2="636.85" stroke="#5a64ac" stroke-width="0.6"/>
<line x1="113.30" y1="618.63" x2="114.50" y2="618.63" stroke="#5a64ac" stroke-width="0.6"/>
<line x1="132.72" y1="691.50" x2="132.72" y2="692.70" stroke="#5a64ac" stroke-width="0.6"/>
<line x1="150.93" y1="691.50" x2="150.93" y2="692.70" stroke="#5a64ac" stroke-width="0.6"/>
<line x1="169.15" y1="691.50" x2="169.15" y2="692.70" stroke="#5a64ac" stroke-width="0.6"/>
<line x1="187.37" y1="691.50" x2="187.37" y2="692.70" stroke="#5a64ac" stroke-width="0.6"/>
<rect x="114.90" y="628.30" width="35.20" height="35.30" fill="none" stroke="#7b80c6" stroke-width="0.8"/>
<text x="156.60" y="633.30" font-size="8.3" fill="#4a5590" stroke="#4a5590" stroke-width="0.22" textLength="28.10" lengthAdjust="spacingAndGlyphs">93.29%</text>
<text x="58.95" y="117.40" font-size="10.7" fill="#111" text-anchor="middle" font-weight="bold" textLength="16.70" lengthAdjust="spacingAndGlyphs" stroke="#111" stroke-width="0.18">CD34</text>
<text x="134.00" y="117.40" font-size="10.7" fill="#111" text-anchor="middle" font-weight="bold" textLength="26.00" lengthAdjust="spacingAndGlyphs" stroke="#111" stroke-width="0.18">CD45RA</text>
<text x="208.30" y="117.40" font-size="10.7" fill="#111" text-anchor="middle" font-weight="bold" textLength="25.40" lengthAdjust="spacingAndGlyphs" stroke="#111" stroke-width="0.18">CD45RA</text>
<text x="72.05" y="264.40" font-size="10.7" fill="#111" text-anchor="middle" font-weight="bold" textLength="44.90" lengthAdjust="spacingAndGlyphs" stroke="#111" stroke-width="0.18">MMP (TMRE)</text>
<text x="320.05" y="264.60" font-size="10.7" fill="#111" text-anchor="middle" font-weight="bold" textLength="16.50" lengthAdjust="spacingAndGlyphs" stroke="#111" stroke-width="0.18">CD90</text>
<text x="79.65" y="407.00" font-size="10.7" fill="#111" text-anchor="middle" font-weight="bold" textLength="43.30" lengthAdjust="spacingAndGlyphs" stroke="#111" stroke-width="0.18">MMP (TMRE)</text>
<text x="353.95" y="404.70" font-size="10.7" fill="#111" text-anchor="middle" font-weight="bold" textLength="19.10" lengthAdjust="spacingAndGlyphs" stroke="#111" stroke-width="0.18">CD49f</text>
<text x="39.25" y="555.60" font-size="10.7" fill="#111" text-anchor="middle" font-weight="bold" textLength="16.10" lengthAdjust="spacingAndGlyphs" stroke="#111" stroke-width="0.18">CD34</text>
<text x="419.85" y="557.40" font-size="10.7" fill="#111" text-anchor="middle" font-weight="bold" textLength="43.10" lengthAdjust="spacingAndGlyphs" stroke="#111" stroke-width="0.18">MMP (TMRE)</text>
<text x="16.30" y="69.75" font-size="10.7" fill="#111" text-anchor="middle" font-weight="bold" textLength="17.50" lengthAdjust="spacingAndGlyphs" transform="rotate(-90 16.30 69.75)" stroke="#111" stroke-width="0.18">CD38</text>
<text x="96.00" y="64.35" font-size="10.7" fill="#111" text-anchor="middle" font-weight="bold" textLength="16.70" lengthAdjust="spacingAndGlyphs" transform="rotate(-90 96.00 64.35)" stroke="#111" stroke-width="0.18">CD90</text>
<text x="170.00" y="64.50" font-size="10.7" fill="#111" text-anchor="middle" font-weight="bold" textLength="19.00" lengthAdjust="spacingAndGlyphs" transform="rotate(-90 170.00 64.50)" stroke="#111" stroke-width="0.18">CD49f</text>
<text x="17.30" y="223.95" font-size="10.7" fill="#111" text-anchor="middle" font-weight="bold" textLength="19.10" lengthAdjust="spacingAndGlyphs" transform="rotate(-90 17.30 223.95)" stroke="#111" stroke-width="0.18">Count</text>
<text x="144.40" y="223.50" font-size="10.7" fill="#111" text-anchor="middle" font-weight="bold" textLength="55.00" lengthAdjust="spacingAndGlyphs" transform="rotate(-90 144.40 223.50)" stroke="#111" stroke-width="0.18">% MMP fractions</text>
<text x="278.70" y="214.50" font-size="10.7" fill="#111" text-anchor="middle" font-weight="bold" textLength="18.20" lengthAdjust="spacingAndGlyphs" transform="rotate(-90 278.70 214.50)" stroke="#111" stroke-width="0.18">Count</text>
<text x="388.70" y="208.55" font-size="10.7" fill="#111" text-anchor="middle" font-weight="bold" textLength="29.90" lengthAdjust="spacingAndGlyphs" transform="rotate(-90 388.70 208.55)" stroke="#111" stroke-width="0.18">% CD90<tspan dy="-1.82" font-size="8.56">+</tspan></text>
<text x="26.30" y="368.75" font-size="10.7" fill="#111" text-anchor="middle" font-weight="bold" textLength="17.50" lengthAdjust="spacingAndGlyphs" transform="rotate(-90 26.30 368.75)" stroke="#111" stroke-width="0.18">Count</text>
<text x="150.20" y="362.70" font-size="10.7" fill="#111" text-anchor="middle" font-weight="bold" textLength="56.60" lengthAdjust="spacingAndGlyphs" transform="rotate(-90 150.20 362.70)" stroke="#111" stroke-width="0.18">% MMP fractions</text>
<text x="311.60" y="361.00" font-size="10.7" fill="#111" text-anchor="middle" font-weight="bold" textLength="18.00" lengthAdjust="spacingAndGlyphs" transform="rotate(-90 311.60 361.00)" stroke="#111" stroke-width="0.18">Count</text>
<text x="423.30" y="351.05" font-size="10.7" fill="#111" text-anchor="middle" font-weight="bold" textLength="31.30" lengthAdjust="spacingAndGlyphs" transform="rotate(-90 423.30 351.05)" stroke="#111" stroke-width="0.18">% CD49f<tspan dy="-1.82" font-size="8.56">+</tspan></text>
<text x="16.20" y="495.35" font-size="10.7" fill="#111" text-anchor="middle" font-weight="bold" textLength="16.70" lengthAdjust="spacingAndGlyphs" transform="rotate(-90 16.20 495.35)" stroke="#111" stroke-width="0.18">CD38</text>
<text x="232.20" y="499.50" font-size="10.7" fill="#111" text-anchor="middle" font-weight="bold" textLength="37.00" lengthAdjust="spacingAndGlyphs" transform="rotate(-90 232.20 499.50)" stroke="#111" stroke-width="0.18">% CD34<tspan dy="-1.82" font-size="8.56">++</tspan></text>
<text x="348.50" y="508.35" font-size="10.7" fill="#111" text-anchor="middle" font-weight="bold" textLength="18.70" lengthAdjust="spacingAndGlyphs" transform="rotate(-90 348.50 508.35)" stroke="#111" stroke-width="0.18">Count</text>
<text x="14.40" y="644.05" font-size="10.7" fill="#111" text-anchor="middle" font-weight="bold" textLength="19.10" lengthAdjust="spacingAndGlyphs" transform="rotate(-90 14.40 644.05)" stroke="#111" stroke-width="0.18">CD49f</text>
<text x="228.60" y="646.85" font-size="10.7" fill="#111" text-anchor="middle" font-weight="bold" textLength="30.30" lengthAdjust="spacingAndGlyphs" transform="rotate(-90 228.60 646.85)" stroke="#111" stroke-width="0.18">% CD49f<tspan dy="-1.82" font-size="8.56">+</tspan></text>
<text x="345.90" y="646.45" font-size="10.7" fill="#111" text-anchor="middle" font-weight="bold" textLength="56.50" lengthAdjust="spacingAndGlyphs" transform="rotate(-90 345.90 646.45)" stroke="#111" stroke-width="0.18">% MMP fractions</text></svg>
</body></html>
